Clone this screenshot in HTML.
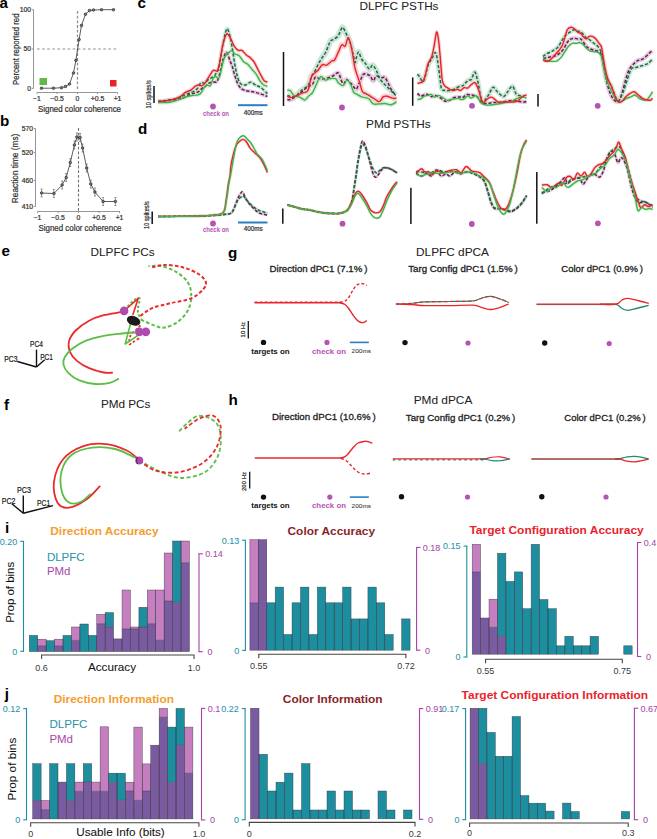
<!DOCTYPE html>
<html><head><meta charset="utf-8"><style>
html,body{margin:0;padding:0;background:#fff;}
svg{display:block;font-family:"Liberation Sans", sans-serif;}
</style></head><body>
<svg width="657" height="839" viewBox="0 0 657 839">
<rect width="657" height="839" fill="#fff"/>
<text x="-0.60" y="8.20" font-size="15.2" fill="#000" font-weight="bold" text-anchor="start">a</text>
<text x="0.00" y="125.70" font-size="15.2" fill="#000" font-weight="bold" text-anchor="start">b</text>
<text x="137.50" y="8.20" font-size="15.2" fill="#000" font-weight="bold" text-anchor="start">c</text>
<text x="138.00" y="134.00" font-size="15.2" fill="#000" font-weight="bold" text-anchor="start">d</text>
<text x="1.40" y="256.20" font-size="15.2" fill="#000" font-weight="bold" text-anchor="start">e</text>
<text x="4.00" y="410.00" font-size="15.2" fill="#000" font-weight="bold" text-anchor="start">f</text>
<text x="228.00" y="257.60" font-size="15.2" fill="#000" font-weight="bold" text-anchor="start">g</text>
<text x="228.40" y="405.00" font-size="15.2" fill="#000" font-weight="bold" text-anchor="start">h</text>
<text x="4.90" y="532.60" font-size="15.2" fill="#000" font-weight="bold" text-anchor="start">i</text>
<text x="4.80" y="699.40" font-size="15.2" fill="#000" font-weight="bold" text-anchor="start">j</text>
<line x1="33.50" y1="9.50" x2="33.50" y2="88.50" stroke="#8a8a8a" stroke-width="0.9"/>
<line x1="31.80" y1="9.70" x2="33.50" y2="9.70" stroke="#8a8a8a" stroke-width="0.9"/>
<text x="31.00" y="12.10" font-size="6.8" fill="#333" font-weight="normal" text-anchor="end" stroke="#333" stroke-width="0.22">100</text>
<line x1="31.80" y1="49.00" x2="33.50" y2="49.00" stroke="#8a8a8a" stroke-width="0.9"/>
<text x="31.00" y="51.40" font-size="6.8" fill="#333" font-weight="normal" text-anchor="end" stroke="#333" stroke-width="0.22">50</text>
<line x1="31.80" y1="88.40" x2="33.50" y2="88.40" stroke="#8a8a8a" stroke-width="0.9"/>
<text x="31.00" y="90.80" font-size="6.8" fill="#333" font-weight="normal" text-anchor="end" stroke="#333" stroke-width="0.22">0</text>
<line x1="37.00" y1="92.50" x2="117.50" y2="92.50" stroke="#8a8a8a" stroke-width="0.9"/>
<line x1="37.00" y1="92.50" x2="37.00" y2="94.00" stroke="#8a8a8a" stroke-width="0.9"/>
<text x="37.00" y="100.50" font-size="6.8" fill="#333" font-weight="normal" text-anchor="middle" stroke="#333" stroke-width="0.22">−1</text>
<line x1="57.00" y1="92.50" x2="57.00" y2="94.00" stroke="#8a8a8a" stroke-width="0.9"/>
<text x="57.00" y="100.50" font-size="6.8" fill="#333" font-weight="normal" text-anchor="middle" stroke="#333" stroke-width="0.22">−0.5</text>
<line x1="77.50" y1="92.50" x2="77.50" y2="94.00" stroke="#8a8a8a" stroke-width="0.9"/>
<text x="77.50" y="100.50" font-size="6.8" fill="#333" font-weight="normal" text-anchor="middle" stroke="#333" stroke-width="0.22">0</text>
<line x1="97.50" y1="92.50" x2="97.50" y2="94.00" stroke="#8a8a8a" stroke-width="0.9"/>
<text x="97.50" y="100.50" font-size="6.8" fill="#333" font-weight="normal" text-anchor="middle" stroke="#333" stroke-width="0.22">+0.5</text>
<line x1="117.50" y1="92.50" x2="117.50" y2="94.00" stroke="#8a8a8a" stroke-width="0.9"/>
<text x="117.50" y="100.50" font-size="6.8" fill="#333" font-weight="normal" text-anchor="middle" stroke="#333" stroke-width="0.22">+1</text>
<text x="79.50" y="112.00" font-size="8.3" fill="#333" font-weight="normal" text-anchor="middle" stroke="#333" stroke-width="0.22" textLength="83.00" lengthAdjust="spacingAndGlyphs">Signed color coherence</text>
<text x="18.90" y="85.00" font-size="8.9" fill="#333" font-weight="normal" text-anchor="start" stroke="#333" stroke-width="0.22" textLength="71.50" lengthAdjust="spacingAndGlyphs" transform="rotate(-90 18.90 85.00)">Percent reported red</text>
<line x1="37.00" y1="49.00" x2="118.00" y2="49.00" stroke="#b4b4b4" stroke-width="1.5" stroke-dasharray="2.6,2.5"/>
<line x1="77.50" y1="11.00" x2="77.50" y2="89.00" stroke="#909090" stroke-width="1.3" stroke-dasharray="2.8,1.9"/>
<rect x="39.5" y="78" width="7.5" height="7" fill="#62b946"/>
<rect x="110" y="80" width="6.5" height="6.5" fill="#e52329"/>
<path d="M41.50,88.20 L53.50,88.20 L61.50,87.70 L65.50,86.50 L69.50,84.00 L73.50,73.00 L75.90,60.40 L79.10,39.50 L81.50,25.40 L85.50,14.20 L89.50,10.50 L93.50,10.00 L101.50,9.70 L113.50,9.70" fill="none" stroke="#333" stroke-width="0.8" stroke-linejoin="round" stroke-linecap="butt"/>
<circle cx="41.5" cy="88.2" r="1.3" fill="#7a7a7a" stroke="#222" stroke-width="0.65"/>
<circle cx="53.5" cy="88.2" r="1.3" fill="#7a7a7a" stroke="#222" stroke-width="0.65"/>
<circle cx="61.5" cy="87.7" r="1.3" fill="#7a7a7a" stroke="#222" stroke-width="0.65"/>
<circle cx="65.5" cy="86.5" r="1.3" fill="#7a7a7a" stroke="#222" stroke-width="0.65"/>
<circle cx="69.5" cy="84" r="1.3" fill="#7a7a7a" stroke="#222" stroke-width="0.65"/>
<circle cx="73.5" cy="73" r="1.3" fill="#7a7a7a" stroke="#222" stroke-width="0.65"/>
<circle cx="75.9" cy="60.4" r="1.3" fill="#7a7a7a" stroke="#222" stroke-width="0.65"/>
<circle cx="79.1" cy="39.5" r="1.3" fill="#7a7a7a" stroke="#222" stroke-width="0.65"/>
<circle cx="81.5" cy="25.4" r="1.3" fill="#7a7a7a" stroke="#222" stroke-width="0.65"/>
<circle cx="85.5" cy="14.2" r="1.3" fill="#7a7a7a" stroke="#222" stroke-width="0.65"/>
<circle cx="89.5" cy="10.5" r="1.3" fill="#7a7a7a" stroke="#222" stroke-width="0.65"/>
<circle cx="93.5" cy="10" r="1.3" fill="#7a7a7a" stroke="#222" stroke-width="0.65"/>
<circle cx="101.5" cy="9.7" r="1.3" fill="#7a7a7a" stroke="#222" stroke-width="0.65"/>
<circle cx="113.5" cy="9.7" r="1.3" fill="#7a7a7a" stroke="#222" stroke-width="0.65"/>
<line x1="35.50" y1="128.50" x2="35.50" y2="206.50" stroke="#8a8a8a" stroke-width="0.9"/>
<line x1="33.80" y1="128.50" x2="35.50" y2="128.50" stroke="#8a8a8a" stroke-width="0.9"/>
<text x="33.00" y="130.90" font-size="6.8" fill="#333" font-weight="normal" text-anchor="end" stroke="#333" stroke-width="0.22">570</text>
<line x1="33.80" y1="152.50" x2="35.50" y2="152.50" stroke="#8a8a8a" stroke-width="0.9"/>
<text x="33.00" y="154.90" font-size="6.8" fill="#333" font-weight="normal" text-anchor="end" stroke="#333" stroke-width="0.22">520</text>
<line x1="33.80" y1="180.50" x2="35.50" y2="180.50" stroke="#8a8a8a" stroke-width="0.9"/>
<text x="33.00" y="182.90" font-size="6.8" fill="#333" font-weight="normal" text-anchor="end" stroke="#333" stroke-width="0.22">460</text>
<line x1="33.80" y1="206.50" x2="35.50" y2="206.50" stroke="#8a8a8a" stroke-width="0.9"/>
<text x="33.00" y="208.90" font-size="6.8" fill="#333" font-weight="normal" text-anchor="end" stroke="#333" stroke-width="0.22">410</text>
<line x1="37.50" y1="211.50" x2="120.00" y2="211.50" stroke="#8a8a8a" stroke-width="0.9"/>
<line x1="37.50" y1="211.50" x2="37.50" y2="213.00" stroke="#8a8a8a" stroke-width="0.9"/>
<text x="37.50" y="219.50" font-size="6.8" fill="#333" font-weight="normal" text-anchor="middle" stroke="#333" stroke-width="0.22">−1</text>
<line x1="58.00" y1="211.50" x2="58.00" y2="213.00" stroke="#8a8a8a" stroke-width="0.9"/>
<text x="58.00" y="219.50" font-size="6.8" fill="#333" font-weight="normal" text-anchor="middle" stroke="#333" stroke-width="0.22">−0.5</text>
<line x1="78.50" y1="211.50" x2="78.50" y2="213.00" stroke="#8a8a8a" stroke-width="0.9"/>
<text x="78.50" y="219.50" font-size="6.8" fill="#333" font-weight="normal" text-anchor="middle" stroke="#333" stroke-width="0.22">0</text>
<line x1="99.00" y1="211.50" x2="99.00" y2="213.00" stroke="#8a8a8a" stroke-width="0.9"/>
<text x="99.00" y="219.50" font-size="6.8" fill="#333" font-weight="normal" text-anchor="middle" stroke="#333" stroke-width="0.22">+0.5</text>
<line x1="119.50" y1="211.50" x2="119.50" y2="213.00" stroke="#8a8a8a" stroke-width="0.9"/>
<text x="119.50" y="219.50" font-size="6.8" fill="#333" font-weight="normal" text-anchor="middle" stroke="#333" stroke-width="0.22">+1</text>
<text x="80.00" y="230.50" font-size="8.3" fill="#333" font-weight="normal" text-anchor="middle" stroke="#333" stroke-width="0.22" textLength="83.00" lengthAdjust="spacingAndGlyphs">Signed color coherence</text>
<text x="18.30" y="203.20" font-size="8.9" fill="#333" font-weight="normal" text-anchor="start" stroke="#333" stroke-width="0.22" textLength="69.50" lengthAdjust="spacingAndGlyphs" transform="rotate(-90 18.30 203.20)">Reaction time  (ms)</text>
<line x1="78.50" y1="128.00" x2="78.50" y2="211.00" stroke="#707070" stroke-width="1.1" stroke-dasharray="2.8,1.9"/>
<path d="M41.60,193.00 L53.90,193.50 L62.10,185.00 L66.20,177.50 L70.30,162.50 L74.40,145.00 L76.90,137.00 L80.10,137.50 L82.60,148.00 L86.70,168.00 L90.80,184.00 L94.90,192.00 L103.10,201.50 L115.40,201.50" fill="none" stroke="#333" stroke-width="0.8" stroke-linejoin="round" stroke-linecap="butt"/>
<line x1="41.60" y1="189.00" x2="41.60" y2="197.00" stroke="#555" stroke-width="0.6"/>
<line x1="40.60" y1="189.00" x2="42.60" y2="189.00" stroke="#555" stroke-width="0.6"/>
<line x1="40.60" y1="197.00" x2="42.60" y2="197.00" stroke="#555" stroke-width="0.6"/>
<circle cx="41.6" cy="193" r="1.3" fill="#7a7a7a" stroke="#222" stroke-width="0.65"/>
<line x1="53.90" y1="189.50" x2="53.90" y2="197.50" stroke="#555" stroke-width="0.6"/>
<line x1="52.90" y1="189.50" x2="54.90" y2="189.50" stroke="#555" stroke-width="0.6"/>
<line x1="52.90" y1="197.50" x2="54.90" y2="197.50" stroke="#555" stroke-width="0.6"/>
<circle cx="53.9" cy="193.5" r="1.3" fill="#7a7a7a" stroke="#222" stroke-width="0.65"/>
<line x1="62.10" y1="181.00" x2="62.10" y2="189.00" stroke="#555" stroke-width="0.6"/>
<line x1="61.10" y1="181.00" x2="63.10" y2="181.00" stroke="#555" stroke-width="0.6"/>
<line x1="61.10" y1="189.00" x2="63.10" y2="189.00" stroke="#555" stroke-width="0.6"/>
<circle cx="62.1" cy="185" r="1.3" fill="#7a7a7a" stroke="#222" stroke-width="0.65"/>
<line x1="66.20" y1="173.50" x2="66.20" y2="181.50" stroke="#555" stroke-width="0.6"/>
<line x1="65.20" y1="173.50" x2="67.20" y2="173.50" stroke="#555" stroke-width="0.6"/>
<line x1="65.20" y1="181.50" x2="67.20" y2="181.50" stroke="#555" stroke-width="0.6"/>
<circle cx="66.2" cy="177.5" r="1.3" fill="#7a7a7a" stroke="#222" stroke-width="0.65"/>
<line x1="70.30" y1="158.50" x2="70.30" y2="166.50" stroke="#555" stroke-width="0.6"/>
<line x1="69.30" y1="158.50" x2="71.30" y2="158.50" stroke="#555" stroke-width="0.6"/>
<line x1="69.30" y1="166.50" x2="71.30" y2="166.50" stroke="#555" stroke-width="0.6"/>
<circle cx="70.3" cy="162.5" r="1.3" fill="#7a7a7a" stroke="#222" stroke-width="0.65"/>
<line x1="74.40" y1="141.00" x2="74.40" y2="149.00" stroke="#555" stroke-width="0.6"/>
<line x1="73.40" y1="141.00" x2="75.40" y2="141.00" stroke="#555" stroke-width="0.6"/>
<line x1="73.40" y1="149.00" x2="75.40" y2="149.00" stroke="#555" stroke-width="0.6"/>
<circle cx="74.4" cy="145" r="1.3" fill="#7a7a7a" stroke="#222" stroke-width="0.65"/>
<line x1="76.90" y1="133.00" x2="76.90" y2="141.00" stroke="#555" stroke-width="0.6"/>
<line x1="75.90" y1="133.00" x2="77.90" y2="133.00" stroke="#555" stroke-width="0.6"/>
<line x1="75.90" y1="141.00" x2="77.90" y2="141.00" stroke="#555" stroke-width="0.6"/>
<circle cx="76.9" cy="137" r="1.3" fill="#7a7a7a" stroke="#222" stroke-width="0.65"/>
<line x1="80.10" y1="133.50" x2="80.10" y2="141.50" stroke="#555" stroke-width="0.6"/>
<line x1="79.10" y1="133.50" x2="81.10" y2="133.50" stroke="#555" stroke-width="0.6"/>
<line x1="79.10" y1="141.50" x2="81.10" y2="141.50" stroke="#555" stroke-width="0.6"/>
<circle cx="80.1" cy="137.5" r="1.3" fill="#7a7a7a" stroke="#222" stroke-width="0.65"/>
<line x1="82.60" y1="144.00" x2="82.60" y2="152.00" stroke="#555" stroke-width="0.6"/>
<line x1="81.60" y1="144.00" x2="83.60" y2="144.00" stroke="#555" stroke-width="0.6"/>
<line x1="81.60" y1="152.00" x2="83.60" y2="152.00" stroke="#555" stroke-width="0.6"/>
<circle cx="82.6" cy="148" r="1.3" fill="#7a7a7a" stroke="#222" stroke-width="0.65"/>
<line x1="86.70" y1="164.00" x2="86.70" y2="172.00" stroke="#555" stroke-width="0.6"/>
<line x1="85.70" y1="164.00" x2="87.70" y2="164.00" stroke="#555" stroke-width="0.6"/>
<line x1="85.70" y1="172.00" x2="87.70" y2="172.00" stroke="#555" stroke-width="0.6"/>
<circle cx="86.7" cy="168" r="1.3" fill="#7a7a7a" stroke="#222" stroke-width="0.65"/>
<line x1="90.80" y1="180.00" x2="90.80" y2="188.00" stroke="#555" stroke-width="0.6"/>
<line x1="89.80" y1="180.00" x2="91.80" y2="180.00" stroke="#555" stroke-width="0.6"/>
<line x1="89.80" y1="188.00" x2="91.80" y2="188.00" stroke="#555" stroke-width="0.6"/>
<circle cx="90.8" cy="184" r="1.3" fill="#7a7a7a" stroke="#222" stroke-width="0.65"/>
<line x1="94.90" y1="188.00" x2="94.90" y2="196.00" stroke="#555" stroke-width="0.6"/>
<line x1="93.90" y1="188.00" x2="95.90" y2="188.00" stroke="#555" stroke-width="0.6"/>
<line x1="93.90" y1="196.00" x2="95.90" y2="196.00" stroke="#555" stroke-width="0.6"/>
<circle cx="94.9" cy="192" r="1.3" fill="#7a7a7a" stroke="#222" stroke-width="0.65"/>
<line x1="103.10" y1="197.50" x2="103.10" y2="205.50" stroke="#555" stroke-width="0.6"/>
<line x1="102.10" y1="197.50" x2="104.10" y2="197.50" stroke="#555" stroke-width="0.6"/>
<line x1="102.10" y1="205.50" x2="104.10" y2="205.50" stroke="#555" stroke-width="0.6"/>
<circle cx="103.1" cy="201.5" r="1.3" fill="#7a7a7a" stroke="#222" stroke-width="0.65"/>
<line x1="115.40" y1="197.50" x2="115.40" y2="205.50" stroke="#555" stroke-width="0.6"/>
<line x1="114.40" y1="197.50" x2="116.40" y2="197.50" stroke="#555" stroke-width="0.6"/>
<line x1="114.40" y1="205.50" x2="116.40" y2="205.50" stroke="#555" stroke-width="0.6"/>
<circle cx="115.4" cy="201.5" r="1.3" fill="#7a7a7a" stroke="#222" stroke-width="0.65"/>
<text x="399.00" y="10.20" font-size="11.2" fill="#222" font-weight="normal" text-anchor="middle" stroke="#222" stroke-width="0.05" textLength="79.00" lengthAdjust="spacingAndGlyphs">DLPFC PSTHs</text>
<text x="398.40" y="128.00" font-size="11.2" fill="#222" font-weight="normal" text-anchor="middle" stroke="#222" stroke-width="0.05" textLength="64.70" lengthAdjust="spacingAndGlyphs">PMd PSTHs</text>
<path d="M158.00,101.50 C161.67,101.08 174.67,100.17 180.00,99.00 C185.33,97.83 187.00,95.67 190.00,94.50 C193.00,93.33 196.05,92.97 198.00,92.00 C199.95,91.03 200.48,89.65 201.70,88.70 C202.92,87.75 204.08,87.22 205.30,86.30 C206.52,85.38 207.78,83.92 209.00,83.20 C210.22,82.48 211.38,82.20 212.60,82.00 C213.82,81.80 215.38,82.50 216.30,82.00 C217.22,81.50 217.40,80.93 218.10,79.00 C218.80,77.07 219.67,73.72 220.50,70.40 C221.33,67.08 222.15,62.10 223.10,59.10 C224.05,56.10 225.38,53.12 226.20,52.40 C227.02,51.68 227.40,53.48 228.00,54.80 C228.60,56.12 229.08,58.37 229.80,60.30 C230.52,62.23 231.45,63.82 232.30,66.40 C233.15,68.98 234.00,72.93 234.90,75.80 C235.80,78.67 236.63,81.47 237.70,83.60 C238.77,85.73 239.87,87.40 241.30,88.60 C242.73,89.80 244.63,90.32 246.30,90.80 C247.97,91.28 249.63,91.20 251.30,91.50 C252.97,91.80 254.52,92.12 256.30,92.60 C258.08,93.08 260.15,93.75 262.00,94.40 C263.85,95.05 266.50,96.15 267.40,96.50" fill="none" stroke="#dcc2d8" stroke-width="3.8" stroke-linejoin="round" stroke-linecap="butt" stroke-linecap="round" stroke-opacity="0.85"/>
<path d="M158.00,101.50 C161.30,101.00 173.48,99.52 177.80,98.50 C182.12,97.48 182.00,96.28 183.90,95.40 C185.80,94.52 187.42,93.95 189.20,93.20 C190.98,92.45 193.20,91.73 194.60,90.90 C196.00,90.07 196.70,89.35 197.60,88.20 C198.50,87.05 199.32,84.93 200.00,84.00 C200.68,83.07 200.92,82.73 201.70,82.60 C202.48,82.47 203.70,83.60 204.70,83.20 C205.70,82.80 206.78,81.00 207.70,80.20 C208.62,79.40 209.08,79.12 210.20,78.40 C211.32,77.68 213.38,76.82 214.40,75.90 C215.42,74.98 215.58,74.12 216.30,72.90 C217.02,71.68 217.97,71.25 218.70,68.60 C219.43,65.95 220.07,60.68 220.70,57.00 C221.33,53.32 221.68,50.62 222.50,46.50 C223.32,42.38 224.78,35.27 225.60,32.30 C226.42,29.33 226.80,28.50 227.40,28.70 C228.00,28.90 228.58,31.38 229.20,33.50 C229.82,35.62 230.48,38.25 231.10,41.40 C231.72,44.55 232.27,48.47 232.90,52.40 C233.53,56.33 234.22,61.23 234.90,65.00 C235.58,68.77 236.17,72.02 237.00,75.00 C237.83,77.98 238.58,81.22 239.90,82.90 C241.22,84.58 243.12,85.22 244.90,85.10 C246.68,84.98 248.82,82.20 250.60,82.20 C252.38,82.20 253.82,84.15 255.60,85.10 C257.38,86.05 259.33,86.48 261.30,87.90 C263.27,89.32 266.38,92.65 267.40,93.60" fill="none" stroke="#c6e2d3" stroke-width="4" stroke-linejoin="round" stroke-linecap="butt" stroke-linecap="round" stroke-opacity="0.85"/>
<path d="M158.00,102.50 C160.03,102.47 166.90,102.72 170.20,102.30 C173.50,101.88 175.27,100.88 177.80,100.00 C180.33,99.12 182.87,97.77 185.40,97.00 C187.93,96.23 190.90,95.77 193.00,95.40 C195.10,95.03 196.67,95.20 198.00,94.80 C199.33,94.40 199.98,94.22 201.00,93.00 C202.02,91.78 203.08,88.83 204.10,87.50 C205.12,86.17 206.08,85.30 207.10,85.00 C208.12,84.70 209.18,86.80 210.20,85.70 C211.22,84.60 212.28,79.93 213.20,78.40 C214.12,76.87 214.88,76.50 215.70,76.50 C216.52,76.50 217.40,78.50 218.10,78.40 C218.80,78.30 219.17,78.30 219.90,75.90 C220.63,73.50 221.65,67.20 222.50,64.00 C223.35,60.80 224.08,58.43 225.00,56.70 C225.92,54.97 226.88,54.62 228.00,53.60 C229.12,52.58 230.55,50.53 231.70,50.60 C232.85,50.67 233.65,53.15 234.90,54.00 C236.15,54.85 237.78,54.45 239.20,55.70 C240.62,56.95 241.98,60.07 243.40,61.50 C244.82,62.93 246.27,63.00 247.70,64.30 C249.13,65.60 250.57,67.63 252.00,69.30 C253.43,70.97 254.98,72.38 256.30,74.30 C257.62,76.22 258.70,79.07 259.90,80.80 C261.10,82.53 262.25,83.75 263.50,84.70 C264.75,85.65 266.75,86.20 267.40,86.50" fill="none" stroke="#d3ecd3" stroke-width="4" stroke-linejoin="round" stroke-linecap="butt" stroke-linecap="round" stroke-opacity="0.85"/>
<path d="M158.00,101.50 C159.40,101.38 163.73,101.18 166.40,100.80 C169.07,100.42 171.72,99.90 174.00,99.20 C176.28,98.50 178.20,97.73 180.10,96.60 C182.00,95.47 183.62,93.48 185.40,92.40 C187.18,91.32 189.15,91.12 190.80,90.10 C192.45,89.08 194.10,87.15 195.30,86.30 C196.50,85.45 196.93,85.10 198.00,85.00 C199.07,84.90 200.68,85.85 201.70,85.70 C202.72,85.55 203.20,85.12 204.10,84.10 C205.00,83.08 206.08,81.17 207.10,79.60 C208.12,78.03 209.15,76.23 210.20,74.70 C211.25,73.17 212.27,71.02 213.40,70.40 C214.53,69.78 216.08,71.67 217.00,71.00 C217.92,70.33 218.28,68.78 218.90,66.40 C219.52,64.02 220.10,60.05 220.70,56.70 C221.30,53.35 221.88,49.25 222.50,46.30 C223.12,43.35 223.68,41.08 224.40,39.00 C225.12,36.92 226.00,34.30 226.80,33.80 C227.60,33.30 228.38,34.83 229.20,36.00 C230.02,37.17 230.75,38.93 231.70,40.80 C232.65,42.67 233.78,45.60 234.90,47.20 C236.02,48.80 237.22,49.87 238.40,50.40 C239.58,50.93 240.68,49.63 242.00,50.40 C243.32,51.17 244.87,53.75 246.30,55.00 C247.73,56.25 249.28,56.70 250.60,57.90 C251.92,59.10 253.00,60.30 254.20,62.20 C255.40,64.10 256.62,67.03 257.80,69.30 C258.98,71.57 260.23,73.88 261.30,75.80 C262.37,77.72 263.18,79.73 264.20,80.80 C265.22,81.87 266.87,81.97 267.40,82.20" fill="none" stroke="#f7c9c9" stroke-width="3.5" stroke-linejoin="round" stroke-linecap="butt" stroke-linecap="round" stroke-opacity="0.85"/>
<path d="M158.00,101.50 C161.67,101.08 174.67,100.17 180.00,99.00 C185.33,97.83 187.00,95.67 190.00,94.50 C193.00,93.33 196.05,92.97 198.00,92.00 C199.95,91.03 200.48,89.65 201.70,88.70 C202.92,87.75 204.08,87.22 205.30,86.30 C206.52,85.38 207.78,83.92 209.00,83.20 C210.22,82.48 211.38,82.20 212.60,82.00 C213.82,81.80 215.38,82.50 216.30,82.00 C217.22,81.50 217.40,80.93 218.10,79.00 C218.80,77.07 219.67,73.72 220.50,70.40 C221.33,67.08 222.15,62.10 223.10,59.10 C224.05,56.10 225.38,53.12 226.20,52.40 C227.02,51.68 227.40,53.48 228.00,54.80 C228.60,56.12 229.08,58.37 229.80,60.30 C230.52,62.23 231.45,63.82 232.30,66.40 C233.15,68.98 234.00,72.93 234.90,75.80 C235.80,78.67 236.63,81.47 237.70,83.60 C238.77,85.73 239.87,87.40 241.30,88.60 C242.73,89.80 244.63,90.32 246.30,90.80 C247.97,91.28 249.63,91.20 251.30,91.50 C252.97,91.80 254.52,92.12 256.30,92.60 C258.08,93.08 260.15,93.75 262.00,94.40 C263.85,95.05 266.50,96.15 267.40,96.50" fill="none" stroke="#6c1c4c" stroke-width="1.5" stroke-linejoin="round" stroke-linecap="butt" stroke-dasharray="3.2,1.8"/>
<path d="M158.00,101.50 C161.30,101.00 173.48,99.52 177.80,98.50 C182.12,97.48 182.00,96.28 183.90,95.40 C185.80,94.52 187.42,93.95 189.20,93.20 C190.98,92.45 193.20,91.73 194.60,90.90 C196.00,90.07 196.70,89.35 197.60,88.20 C198.50,87.05 199.32,84.93 200.00,84.00 C200.68,83.07 200.92,82.73 201.70,82.60 C202.48,82.47 203.70,83.60 204.70,83.20 C205.70,82.80 206.78,81.00 207.70,80.20 C208.62,79.40 209.08,79.12 210.20,78.40 C211.32,77.68 213.38,76.82 214.40,75.90 C215.42,74.98 215.58,74.12 216.30,72.90 C217.02,71.68 217.97,71.25 218.70,68.60 C219.43,65.95 220.07,60.68 220.70,57.00 C221.33,53.32 221.68,50.62 222.50,46.50 C223.32,42.38 224.78,35.27 225.60,32.30 C226.42,29.33 226.80,28.50 227.40,28.70 C228.00,28.90 228.58,31.38 229.20,33.50 C229.82,35.62 230.48,38.25 231.10,41.40 C231.72,44.55 232.27,48.47 232.90,52.40 C233.53,56.33 234.22,61.23 234.90,65.00 C235.58,68.77 236.17,72.02 237.00,75.00 C237.83,77.98 238.58,81.22 239.90,82.90 C241.22,84.58 243.12,85.22 244.90,85.10 C246.68,84.98 248.82,82.20 250.60,82.20 C252.38,82.20 253.82,84.15 255.60,85.10 C257.38,86.05 259.33,86.48 261.30,87.90 C263.27,89.32 266.38,92.65 267.40,93.60" fill="none" stroke="#1f6b3e" stroke-width="1.5" stroke-linejoin="round" stroke-linecap="butt" stroke-dasharray="3.2,1.8"/>
<path d="M158.00,102.50 C160.03,102.47 166.90,102.72 170.20,102.30 C173.50,101.88 175.27,100.88 177.80,100.00 C180.33,99.12 182.87,97.77 185.40,97.00 C187.93,96.23 190.90,95.77 193.00,95.40 C195.10,95.03 196.67,95.20 198.00,94.80 C199.33,94.40 199.98,94.22 201.00,93.00 C202.02,91.78 203.08,88.83 204.10,87.50 C205.12,86.17 206.08,85.30 207.10,85.00 C208.12,84.70 209.18,86.80 210.20,85.70 C211.22,84.60 212.28,79.93 213.20,78.40 C214.12,76.87 214.88,76.50 215.70,76.50 C216.52,76.50 217.40,78.50 218.10,78.40 C218.80,78.30 219.17,78.30 219.90,75.90 C220.63,73.50 221.65,67.20 222.50,64.00 C223.35,60.80 224.08,58.43 225.00,56.70 C225.92,54.97 226.88,54.62 228.00,53.60 C229.12,52.58 230.55,50.53 231.70,50.60 C232.85,50.67 233.65,53.15 234.90,54.00 C236.15,54.85 237.78,54.45 239.20,55.70 C240.62,56.95 241.98,60.07 243.40,61.50 C244.82,62.93 246.27,63.00 247.70,64.30 C249.13,65.60 250.57,67.63 252.00,69.30 C253.43,70.97 254.98,72.38 256.30,74.30 C257.62,76.22 258.70,79.07 259.90,80.80 C261.10,82.53 262.25,83.75 263.50,84.70 C264.75,85.65 266.75,86.20 267.40,86.50" fill="none" stroke="#3db449" stroke-width="1.4" stroke-linejoin="round" stroke-linecap="butt"/>
<path d="M158.00,101.50 C159.40,101.38 163.73,101.18 166.40,100.80 C169.07,100.42 171.72,99.90 174.00,99.20 C176.28,98.50 178.20,97.73 180.10,96.60 C182.00,95.47 183.62,93.48 185.40,92.40 C187.18,91.32 189.15,91.12 190.80,90.10 C192.45,89.08 194.10,87.15 195.30,86.30 C196.50,85.45 196.93,85.10 198.00,85.00 C199.07,84.90 200.68,85.85 201.70,85.70 C202.72,85.55 203.20,85.12 204.10,84.10 C205.00,83.08 206.08,81.17 207.10,79.60 C208.12,78.03 209.15,76.23 210.20,74.70 C211.25,73.17 212.27,71.02 213.40,70.40 C214.53,69.78 216.08,71.67 217.00,71.00 C217.92,70.33 218.28,68.78 218.90,66.40 C219.52,64.02 220.10,60.05 220.70,56.70 C221.30,53.35 221.88,49.25 222.50,46.30 C223.12,43.35 223.68,41.08 224.40,39.00 C225.12,36.92 226.00,34.30 226.80,33.80 C227.60,33.30 228.38,34.83 229.20,36.00 C230.02,37.17 230.75,38.93 231.70,40.80 C232.65,42.67 233.78,45.60 234.90,47.20 C236.02,48.80 237.22,49.87 238.40,50.40 C239.58,50.93 240.68,49.63 242.00,50.40 C243.32,51.17 244.87,53.75 246.30,55.00 C247.73,56.25 249.28,56.70 250.60,57.90 C251.92,59.10 253.00,60.30 254.20,62.20 C255.40,64.10 256.62,67.03 257.80,69.30 C258.98,71.57 260.23,73.88 261.30,75.80 C262.37,77.72 263.18,79.73 264.20,80.80 C265.22,81.87 266.87,81.97 267.40,82.20" fill="none" stroke="#e52329" stroke-width="1.4" stroke-linejoin="round" stroke-linecap="butt"/>
<path d="M287.30,99.70 C287.90,99.65 289.58,99.85 290.90,99.40 C292.22,98.95 293.17,98.42 295.20,97.00 C297.23,95.58 301.07,92.58 303.10,90.90 C305.13,89.22 305.78,88.07 307.40,86.90 C309.02,85.73 311.48,85.52 312.80,83.90 C314.12,82.28 314.07,78.02 315.30,77.20 C316.53,76.38 318.38,78.80 320.20,79.00 C322.02,79.20 324.10,78.90 326.20,78.40 C328.30,77.90 330.78,76.90 332.80,76.00 C334.82,75.10 336.83,72.13 338.30,73.00 C339.77,73.87 340.68,79.38 341.60,81.20 C342.52,83.02 342.98,84.18 343.80,83.90 C344.62,83.62 345.32,79.58 346.50,79.50 C347.68,79.42 349.80,82.30 350.90,83.40 C352.00,84.50 352.22,85.13 353.10,86.10 C353.98,87.07 355.17,89.72 356.20,89.20 C357.23,88.68 358.13,85.45 359.30,83.00 C360.47,80.55 361.92,75.92 363.20,74.50 C364.48,73.08 365.83,74.25 367.00,74.50 C368.17,74.75 369.15,74.97 370.20,76.00 C371.25,77.03 372.27,80.70 373.30,80.70 C374.33,80.70 375.12,76.52 376.40,76.00 C377.68,75.48 379.58,77.33 381.00,77.60 C382.42,77.87 383.73,76.70 384.90,77.60 C386.07,78.50 386.97,81.07 388.00,83.00 C389.03,84.93 389.93,87.27 391.10,89.20 C392.27,91.13 394.35,93.70 395.00,94.60" fill="none" stroke="#dcc2d8" stroke-width="5" stroke-linejoin="round" stroke-linecap="butt" stroke-linecap="round" stroke-opacity="0.85"/>
<path d="M287.30,95.50 C288.10,95.70 290.48,96.82 292.10,96.70 C293.72,96.58 295.47,95.82 297.00,94.80 C298.53,93.78 299.57,92.02 301.30,90.60 C303.03,89.18 305.98,87.73 307.40,86.30 C308.82,84.87 309.10,83.72 309.80,82.00 C310.50,80.28 310.78,77.72 311.60,76.00 C312.42,74.28 313.58,73.68 314.70,71.70 C315.82,69.72 317.10,66.38 318.30,64.10 C319.50,61.82 320.68,59.93 321.90,58.00 C323.12,56.07 324.48,54.63 325.60,52.50 C326.72,50.37 327.78,47.12 328.60,45.20 C329.42,43.28 329.58,42.02 330.50,41.00 C331.42,39.98 332.80,39.98 334.10,39.10 C335.40,38.22 337.20,37.18 338.30,35.70 C339.40,34.22 339.95,31.58 340.70,30.20 C341.45,28.82 341.98,27.00 342.80,27.40 C343.62,27.80 344.68,30.82 345.60,32.60 C346.52,34.38 347.48,36.27 348.30,38.10 C349.12,39.93 349.73,41.07 350.50,43.60 C351.27,46.13 352.15,50.15 352.90,53.30 C353.65,56.45 354.45,61.68 355.00,62.50 C355.55,63.32 355.62,59.95 356.20,58.20 C356.78,56.45 357.60,51.87 358.50,52.00 C359.40,52.13 360.43,57.07 361.60,59.00 C362.77,60.93 364.20,61.93 365.50,63.60 C366.80,65.27 368.23,68.73 369.40,69.00 C370.57,69.27 371.33,64.93 372.50,65.20 C373.67,65.47 375.23,68.42 376.40,70.60 C377.57,72.78 378.35,76.23 379.50,78.30 C380.65,80.37 382.02,81.57 383.30,83.00 C384.58,84.43 385.90,85.62 387.20,86.90 C388.50,88.18 389.68,89.28 391.10,90.70 C392.52,92.12 394.93,94.62 395.70,95.40" fill="none" stroke="#c6e2d3" stroke-width="6" stroke-linejoin="round" stroke-linecap="butt" stroke-linecap="round" stroke-opacity="0.85"/>
<path d="M287.30,90.30 C287.80,90.35 289.18,89.73 290.30,90.60 C291.42,91.47 292.38,94.38 294.00,95.50 C295.62,96.62 298.18,96.55 300.00,97.30 C301.82,98.05 303.47,100.20 304.90,100.00 C306.33,99.80 307.38,97.27 308.60,96.10 C309.82,94.93 311.08,94.53 312.20,93.00 C313.32,91.47 314.33,88.97 315.30,86.90 C316.27,84.83 317.00,82.33 318.00,80.60 C319.00,78.87 320.12,76.58 321.30,76.50 C322.48,76.42 323.82,79.73 325.10,80.10 C326.38,80.47 327.27,78.93 329.00,78.70 C330.73,78.47 333.95,78.02 335.50,78.70 C337.05,79.38 337.02,81.65 338.30,82.80 C339.58,83.95 341.75,86.05 343.20,85.60 C344.65,85.15 345.72,80.20 347.00,80.10 C348.28,80.00 349.80,83.00 350.90,85.00 C352.00,87.00 352.72,90.63 353.60,92.10 C354.48,93.57 354.87,93.00 356.20,93.80 C357.53,94.60 360.05,96.25 361.60,96.90 C363.15,97.55 364.20,97.30 365.50,97.70 C366.80,98.10 368.10,98.27 369.40,99.30 C370.70,100.33 371.62,103.13 373.30,103.90 C374.98,104.67 377.57,103.97 379.50,103.90 C381.43,103.83 383.10,103.37 384.90,103.50 C386.70,103.63 388.88,104.63 390.30,104.70 C391.72,104.77 392.37,104.42 393.40,103.90 C394.43,103.38 395.98,101.98 396.50,101.60" fill="none" stroke="#d3ecd3" stroke-width="4.5" stroke-linejoin="round" stroke-linecap="butt" stroke-linecap="round" stroke-opacity="0.85"/>
<path d="M287.30,96.40 C287.90,96.60 289.58,97.60 290.90,97.60 C292.22,97.60 293.88,96.87 295.20,96.40 C296.52,95.93 297.48,95.42 298.80,94.80 C300.12,94.18 301.77,93.20 303.10,92.70 C304.43,92.20 305.88,92.45 306.80,91.80 C307.72,91.15 308.10,90.22 308.60,88.80 C309.10,87.38 309.30,85.33 309.80,83.30 C310.30,81.27 310.78,78.33 311.60,76.60 C312.42,74.87 313.58,74.02 314.70,72.90 C315.82,71.78 317.02,71.27 318.30,69.90 C319.58,68.53 321.08,65.47 322.40,64.70 C323.72,63.93 324.93,65.67 326.20,65.30 C327.47,64.93 329.00,63.28 330.00,62.50 C331.00,61.72 331.43,61.02 332.20,60.60 C332.97,60.18 333.58,61.42 334.60,60.00 C335.62,58.58 337.08,54.63 338.30,52.10 C339.52,49.57 340.78,45.77 341.90,44.80 C343.02,43.83 344.08,47.22 345.00,46.30 C345.92,45.38 346.80,40.62 347.40,39.30 C348.00,37.98 348.08,37.68 348.60,38.40 C349.12,39.12 349.88,41.32 350.50,43.60 C351.12,45.88 351.60,48.25 352.30,52.10 C353.00,55.95 354.05,63.37 354.70,66.70 C355.35,70.03 355.43,69.65 356.20,72.10 C356.97,74.55 358.27,78.17 359.30,81.40 C360.33,84.63 361.37,89.50 362.40,91.50 C363.43,93.50 364.20,92.62 365.50,93.40 C366.80,94.18 368.78,95.35 370.20,96.20 C371.62,97.05 372.58,97.60 374.00,98.50 C375.42,99.40 377.53,101.35 378.70,101.60 C379.87,101.85 380.23,100.83 381.00,100.00 C381.77,99.17 382.27,97.23 383.30,96.60 C384.33,95.97 385.90,96.02 387.20,96.20 C388.50,96.38 389.93,97.32 391.10,97.70 C392.27,98.08 393.30,98.50 394.20,98.50 C395.10,98.50 396.12,97.83 396.50,97.70" fill="none" stroke="#f7c9c9" stroke-width="5" stroke-linejoin="round" stroke-linecap="butt" stroke-linecap="round" stroke-opacity="0.85"/>
<path d="M287.30,99.70 C287.90,99.65 289.58,99.85 290.90,99.40 C292.22,98.95 293.17,98.42 295.20,97.00 C297.23,95.58 301.07,92.58 303.10,90.90 C305.13,89.22 305.78,88.07 307.40,86.90 C309.02,85.73 311.48,85.52 312.80,83.90 C314.12,82.28 314.07,78.02 315.30,77.20 C316.53,76.38 318.38,78.80 320.20,79.00 C322.02,79.20 324.10,78.90 326.20,78.40 C328.30,77.90 330.78,76.90 332.80,76.00 C334.82,75.10 336.83,72.13 338.30,73.00 C339.77,73.87 340.68,79.38 341.60,81.20 C342.52,83.02 342.98,84.18 343.80,83.90 C344.62,83.62 345.32,79.58 346.50,79.50 C347.68,79.42 349.80,82.30 350.90,83.40 C352.00,84.50 352.22,85.13 353.10,86.10 C353.98,87.07 355.17,89.72 356.20,89.20 C357.23,88.68 358.13,85.45 359.30,83.00 C360.47,80.55 361.92,75.92 363.20,74.50 C364.48,73.08 365.83,74.25 367.00,74.50 C368.17,74.75 369.15,74.97 370.20,76.00 C371.25,77.03 372.27,80.70 373.30,80.70 C374.33,80.70 375.12,76.52 376.40,76.00 C377.68,75.48 379.58,77.33 381.00,77.60 C382.42,77.87 383.73,76.70 384.90,77.60 C386.07,78.50 386.97,81.07 388.00,83.00 C389.03,84.93 389.93,87.27 391.10,89.20 C392.27,91.13 394.35,93.70 395.00,94.60" fill="none" stroke="#6c1c4c" stroke-width="1.5" stroke-linejoin="round" stroke-linecap="butt" stroke-dasharray="3.2,1.8"/>
<path d="M287.30,95.50 C288.10,95.70 290.48,96.82 292.10,96.70 C293.72,96.58 295.47,95.82 297.00,94.80 C298.53,93.78 299.57,92.02 301.30,90.60 C303.03,89.18 305.98,87.73 307.40,86.30 C308.82,84.87 309.10,83.72 309.80,82.00 C310.50,80.28 310.78,77.72 311.60,76.00 C312.42,74.28 313.58,73.68 314.70,71.70 C315.82,69.72 317.10,66.38 318.30,64.10 C319.50,61.82 320.68,59.93 321.90,58.00 C323.12,56.07 324.48,54.63 325.60,52.50 C326.72,50.37 327.78,47.12 328.60,45.20 C329.42,43.28 329.58,42.02 330.50,41.00 C331.42,39.98 332.80,39.98 334.10,39.10 C335.40,38.22 337.20,37.18 338.30,35.70 C339.40,34.22 339.95,31.58 340.70,30.20 C341.45,28.82 341.98,27.00 342.80,27.40 C343.62,27.80 344.68,30.82 345.60,32.60 C346.52,34.38 347.48,36.27 348.30,38.10 C349.12,39.93 349.73,41.07 350.50,43.60 C351.27,46.13 352.15,50.15 352.90,53.30 C353.65,56.45 354.45,61.68 355.00,62.50 C355.55,63.32 355.62,59.95 356.20,58.20 C356.78,56.45 357.60,51.87 358.50,52.00 C359.40,52.13 360.43,57.07 361.60,59.00 C362.77,60.93 364.20,61.93 365.50,63.60 C366.80,65.27 368.23,68.73 369.40,69.00 C370.57,69.27 371.33,64.93 372.50,65.20 C373.67,65.47 375.23,68.42 376.40,70.60 C377.57,72.78 378.35,76.23 379.50,78.30 C380.65,80.37 382.02,81.57 383.30,83.00 C384.58,84.43 385.90,85.62 387.20,86.90 C388.50,88.18 389.68,89.28 391.10,90.70 C392.52,92.12 394.93,94.62 395.70,95.40" fill="none" stroke="#1f6b3e" stroke-width="1.5" stroke-linejoin="round" stroke-linecap="butt" stroke-dasharray="3.2,1.8"/>
<path d="M287.30,90.30 C287.80,90.35 289.18,89.73 290.30,90.60 C291.42,91.47 292.38,94.38 294.00,95.50 C295.62,96.62 298.18,96.55 300.00,97.30 C301.82,98.05 303.47,100.20 304.90,100.00 C306.33,99.80 307.38,97.27 308.60,96.10 C309.82,94.93 311.08,94.53 312.20,93.00 C313.32,91.47 314.33,88.97 315.30,86.90 C316.27,84.83 317.00,82.33 318.00,80.60 C319.00,78.87 320.12,76.58 321.30,76.50 C322.48,76.42 323.82,79.73 325.10,80.10 C326.38,80.47 327.27,78.93 329.00,78.70 C330.73,78.47 333.95,78.02 335.50,78.70 C337.05,79.38 337.02,81.65 338.30,82.80 C339.58,83.95 341.75,86.05 343.20,85.60 C344.65,85.15 345.72,80.20 347.00,80.10 C348.28,80.00 349.80,83.00 350.90,85.00 C352.00,87.00 352.72,90.63 353.60,92.10 C354.48,93.57 354.87,93.00 356.20,93.80 C357.53,94.60 360.05,96.25 361.60,96.90 C363.15,97.55 364.20,97.30 365.50,97.70 C366.80,98.10 368.10,98.27 369.40,99.30 C370.70,100.33 371.62,103.13 373.30,103.90 C374.98,104.67 377.57,103.97 379.50,103.90 C381.43,103.83 383.10,103.37 384.90,103.50 C386.70,103.63 388.88,104.63 390.30,104.70 C391.72,104.77 392.37,104.42 393.40,103.90 C394.43,103.38 395.98,101.98 396.50,101.60" fill="none" stroke="#3db449" stroke-width="1.4" stroke-linejoin="round" stroke-linecap="butt"/>
<path d="M287.30,96.40 C287.90,96.60 289.58,97.60 290.90,97.60 C292.22,97.60 293.88,96.87 295.20,96.40 C296.52,95.93 297.48,95.42 298.80,94.80 C300.12,94.18 301.77,93.20 303.10,92.70 C304.43,92.20 305.88,92.45 306.80,91.80 C307.72,91.15 308.10,90.22 308.60,88.80 C309.10,87.38 309.30,85.33 309.80,83.30 C310.30,81.27 310.78,78.33 311.60,76.60 C312.42,74.87 313.58,74.02 314.70,72.90 C315.82,71.78 317.02,71.27 318.30,69.90 C319.58,68.53 321.08,65.47 322.40,64.70 C323.72,63.93 324.93,65.67 326.20,65.30 C327.47,64.93 329.00,63.28 330.00,62.50 C331.00,61.72 331.43,61.02 332.20,60.60 C332.97,60.18 333.58,61.42 334.60,60.00 C335.62,58.58 337.08,54.63 338.30,52.10 C339.52,49.57 340.78,45.77 341.90,44.80 C343.02,43.83 344.08,47.22 345.00,46.30 C345.92,45.38 346.80,40.62 347.40,39.30 C348.00,37.98 348.08,37.68 348.60,38.40 C349.12,39.12 349.88,41.32 350.50,43.60 C351.12,45.88 351.60,48.25 352.30,52.10 C353.00,55.95 354.05,63.37 354.70,66.70 C355.35,70.03 355.43,69.65 356.20,72.10 C356.97,74.55 358.27,78.17 359.30,81.40 C360.33,84.63 361.37,89.50 362.40,91.50 C363.43,93.50 364.20,92.62 365.50,93.40 C366.80,94.18 368.78,95.35 370.20,96.20 C371.62,97.05 372.58,97.60 374.00,98.50 C375.42,99.40 377.53,101.35 378.70,101.60 C379.87,101.85 380.23,100.83 381.00,100.00 C381.77,99.17 382.27,97.23 383.30,96.60 C384.33,95.97 385.90,96.02 387.20,96.20 C388.50,96.38 389.93,97.32 391.10,97.70 C392.27,98.08 393.30,98.50 394.20,98.50 C395.10,98.50 396.12,97.83 396.50,97.70" fill="none" stroke="#e52329" stroke-width="1.4" stroke-linejoin="round" stroke-linecap="butt"/>
<path d="M417.40,93.30 C417.97,93.77 419.43,95.92 420.80,96.10 C422.17,96.28 424.10,94.57 425.60,94.40 C427.10,94.23 428.77,94.70 429.80,95.10 C430.83,95.50 431.02,96.75 431.80,96.80 C432.58,96.85 433.35,95.40 434.50,95.40 C435.65,95.40 437.32,96.12 438.70,96.80 C440.08,97.48 441.67,98.77 442.80,99.50 C443.93,100.23 444.37,101.08 445.50,101.20 C446.63,101.32 448.12,100.82 449.60,100.20 C451.08,99.58 452.68,98.02 454.40,97.50 C456.12,96.98 458.48,97.10 459.90,97.10 C461.32,97.10 461.78,97.90 462.90,97.50 C464.02,97.10 465.38,95.12 466.60,94.70 C467.82,94.28 469.08,94.90 470.20,95.00 C471.32,95.10 472.18,95.05 473.30,95.30 C474.42,95.55 475.78,95.68 476.90,96.50 C478.02,97.32 478.98,99.08 480.00,100.20 C481.02,101.32 481.68,102.65 483.00,103.20 C484.32,103.75 486.27,103.60 487.90,103.50 C489.53,103.40 490.93,102.75 492.80,102.60 C494.67,102.45 496.72,102.85 499.10,102.60 C501.48,102.35 504.55,101.45 507.10,101.10 C509.65,100.75 512.38,100.45 514.40,100.50 C516.42,100.55 517.58,101.15 519.20,101.40 C520.82,101.65 522.88,102.00 524.10,102.00 C525.32,102.00 526.10,101.50 526.50,101.40" fill="none" stroke="#dcc2d8" stroke-width="4" stroke-linejoin="round" stroke-linecap="butt" stroke-linecap="round" stroke-opacity="0.85"/>
<path d="M417.40,74.20 C417.87,74.77 419.40,76.35 420.20,77.60 C421.00,78.85 421.52,81.37 422.20,81.70 C422.88,82.03 423.62,81.20 424.30,79.60 C424.98,78.00 425.58,74.70 426.30,72.10 C427.02,69.50 427.60,66.37 428.60,64.00 C429.60,61.63 431.18,59.83 432.30,57.90 C433.42,55.97 434.50,52.40 435.30,52.40 C436.10,52.40 436.58,55.57 437.10,57.90 C437.62,60.23 437.92,63.00 438.40,66.40 C438.88,69.80 439.50,74.62 440.00,78.30 C440.50,81.98 440.72,86.50 441.40,88.50 C442.08,90.50 442.97,89.95 444.10,90.30 C445.23,90.65 446.82,90.67 448.20,90.60 C449.58,90.53 450.65,90.53 452.40,89.90 C454.15,89.27 456.95,87.52 458.70,86.80 C460.45,86.08 461.78,86.22 462.90,85.60 C464.02,84.98 464.48,84.02 465.40,83.10 C466.32,82.18 467.40,80.70 468.40,80.10 C469.40,79.50 470.58,80.42 471.40,79.50 C472.22,78.58 472.68,75.82 473.30,74.60 C473.92,73.38 474.50,71.68 475.10,72.20 C475.70,72.72 476.28,75.37 476.90,77.70 C477.52,80.03 478.18,83.07 478.80,86.20 C479.42,89.33 479.90,93.77 480.60,96.50 C481.30,99.23 482.08,102.28 483.00,102.60 C483.92,102.92 485.08,99.82 486.10,98.40 C487.12,96.98 488.20,95.63 489.10,94.10 C490.00,92.57 490.73,90.32 491.50,89.20 C492.27,88.08 492.73,86.98 493.70,87.40 C494.67,87.82 495.68,90.18 497.30,91.70 C498.92,93.22 501.67,96.50 503.40,96.50 C505.13,96.50 506.18,93.42 507.70,91.70 C509.22,89.98 511.08,85.80 512.50,86.20 C513.92,86.60 514.87,92.48 516.20,94.10 C517.53,95.72 519.18,95.40 520.50,95.90 C521.82,96.40 523.50,96.90 524.10,97.10" fill="none" stroke="#c6e2d3" stroke-width="5" stroke-linejoin="round" stroke-linecap="butt" stroke-linecap="round" stroke-opacity="0.85"/>
<path d="M417.40,99.50 C417.97,99.38 419.65,99.37 420.80,98.80 C421.95,98.23 423.15,96.67 424.30,96.10 C425.45,95.53 426.57,95.68 427.70,95.40 C428.83,95.12 429.97,94.12 431.10,94.40 C432.23,94.68 433.23,96.93 434.50,97.10 C435.77,97.27 437.32,95.33 438.70,95.40 C440.08,95.47 441.32,96.65 442.80,97.50 C444.28,98.35 446.00,100.22 447.60,100.50 C449.20,100.78 450.67,99.55 452.40,99.20 C454.13,98.85 456.45,98.33 458.00,98.40 C459.55,98.47 460.58,99.60 461.70,99.60 C462.82,99.60 463.68,99.02 464.70,98.40 C465.72,97.78 466.78,95.95 467.80,95.90 C468.82,95.85 469.78,98.00 470.80,98.10 C471.82,98.20 472.98,96.87 473.90,96.50 C474.82,96.13 475.48,95.48 476.30,95.90 C477.12,96.32 478.08,97.88 478.80,99.00 C479.52,100.12 479.70,101.68 480.60,102.60 C481.50,103.52 482.78,104.08 484.20,104.50 C485.62,104.92 486.62,105.22 489.10,105.10 C491.58,104.98 496.42,104.22 499.10,103.80 C501.78,103.38 503.17,103.00 505.20,102.60 C507.23,102.20 509.47,102.00 511.30,101.40 C513.13,100.80 514.67,99.72 516.20,99.00 C517.73,98.28 519.18,97.42 520.50,97.10 C521.82,96.78 523.10,96.88 524.10,97.10 C525.10,97.32 526.10,98.18 526.50,98.40" fill="none" stroke="#d3ecd3" stroke-width="3.5" stroke-linejoin="round" stroke-linecap="butt" stroke-linecap="round" stroke-opacity="0.85"/>
<path d="M417.40,83.40 C417.97,83.28 419.88,83.03 420.80,82.70 C421.72,82.37 422.20,82.48 422.90,81.40 C423.60,80.32 424.15,79.10 425.00,76.20 C425.85,73.30 426.88,67.25 428.00,64.00 C429.12,60.75 430.68,59.65 431.70,56.70 C432.72,53.75 433.30,50.37 434.10,46.30 C434.90,42.23 435.78,33.52 436.50,32.30 C437.22,31.08 437.78,34.93 438.40,39.00 C439.02,43.07 439.58,50.03 440.20,56.70 C440.82,63.37 441.45,74.27 442.10,79.00 C442.75,83.73 443.18,83.62 444.10,85.10 C445.02,86.58 446.45,87.10 447.60,87.90 C448.75,88.70 449.98,89.45 451.00,89.90 C452.02,90.35 452.63,90.72 453.70,90.60 C454.77,90.48 456.27,89.22 457.40,89.20 C458.53,89.18 459.38,90.75 460.50,90.50 C461.62,90.25 462.88,88.12 464.10,87.70 C465.32,87.28 466.68,88.45 467.80,88.00 C468.92,87.55 469.68,85.92 470.80,85.00 C471.92,84.08 473.58,82.60 474.50,82.50 C475.42,82.40 475.58,83.07 476.30,84.40 C477.02,85.73 477.98,88.07 478.80,90.50 C479.62,92.93 480.40,96.98 481.20,99.00 C482.00,101.02 482.58,102.60 483.60,102.60 C484.62,102.60 486.08,99.92 487.30,99.00 C488.52,98.08 489.83,97.20 490.90,97.10 C491.97,97.00 492.53,97.58 493.70,98.40 C494.87,99.22 496.48,101.40 497.90,102.00 C499.32,102.60 500.67,102.00 502.20,102.00 C503.73,102.00 505.28,102.00 507.10,102.00 C508.92,102.00 511.28,102.20 513.10,102.00 C514.92,101.80 516.47,101.72 518.00,100.80 C519.53,99.88 520.88,97.47 522.30,96.50 C523.72,95.53 525.80,95.25 526.50,95.00" fill="none" stroke="#f7c9c9" stroke-width="3.5" stroke-linejoin="round" stroke-linecap="butt" stroke-linecap="round" stroke-opacity="0.85"/>
<path d="M417.40,93.30 C417.97,93.77 419.43,95.92 420.80,96.10 C422.17,96.28 424.10,94.57 425.60,94.40 C427.10,94.23 428.77,94.70 429.80,95.10 C430.83,95.50 431.02,96.75 431.80,96.80 C432.58,96.85 433.35,95.40 434.50,95.40 C435.65,95.40 437.32,96.12 438.70,96.80 C440.08,97.48 441.67,98.77 442.80,99.50 C443.93,100.23 444.37,101.08 445.50,101.20 C446.63,101.32 448.12,100.82 449.60,100.20 C451.08,99.58 452.68,98.02 454.40,97.50 C456.12,96.98 458.48,97.10 459.90,97.10 C461.32,97.10 461.78,97.90 462.90,97.50 C464.02,97.10 465.38,95.12 466.60,94.70 C467.82,94.28 469.08,94.90 470.20,95.00 C471.32,95.10 472.18,95.05 473.30,95.30 C474.42,95.55 475.78,95.68 476.90,96.50 C478.02,97.32 478.98,99.08 480.00,100.20 C481.02,101.32 481.68,102.65 483.00,103.20 C484.32,103.75 486.27,103.60 487.90,103.50 C489.53,103.40 490.93,102.75 492.80,102.60 C494.67,102.45 496.72,102.85 499.10,102.60 C501.48,102.35 504.55,101.45 507.10,101.10 C509.65,100.75 512.38,100.45 514.40,100.50 C516.42,100.55 517.58,101.15 519.20,101.40 C520.82,101.65 522.88,102.00 524.10,102.00 C525.32,102.00 526.10,101.50 526.50,101.40" fill="none" stroke="#6c1c4c" stroke-width="1.5" stroke-linejoin="round" stroke-linecap="butt" stroke-dasharray="3.2,1.8"/>
<path d="M417.40,74.20 C417.87,74.77 419.40,76.35 420.20,77.60 C421.00,78.85 421.52,81.37 422.20,81.70 C422.88,82.03 423.62,81.20 424.30,79.60 C424.98,78.00 425.58,74.70 426.30,72.10 C427.02,69.50 427.60,66.37 428.60,64.00 C429.60,61.63 431.18,59.83 432.30,57.90 C433.42,55.97 434.50,52.40 435.30,52.40 C436.10,52.40 436.58,55.57 437.10,57.90 C437.62,60.23 437.92,63.00 438.40,66.40 C438.88,69.80 439.50,74.62 440.00,78.30 C440.50,81.98 440.72,86.50 441.40,88.50 C442.08,90.50 442.97,89.95 444.10,90.30 C445.23,90.65 446.82,90.67 448.20,90.60 C449.58,90.53 450.65,90.53 452.40,89.90 C454.15,89.27 456.95,87.52 458.70,86.80 C460.45,86.08 461.78,86.22 462.90,85.60 C464.02,84.98 464.48,84.02 465.40,83.10 C466.32,82.18 467.40,80.70 468.40,80.10 C469.40,79.50 470.58,80.42 471.40,79.50 C472.22,78.58 472.68,75.82 473.30,74.60 C473.92,73.38 474.50,71.68 475.10,72.20 C475.70,72.72 476.28,75.37 476.90,77.70 C477.52,80.03 478.18,83.07 478.80,86.20 C479.42,89.33 479.90,93.77 480.60,96.50 C481.30,99.23 482.08,102.28 483.00,102.60 C483.92,102.92 485.08,99.82 486.10,98.40 C487.12,96.98 488.20,95.63 489.10,94.10 C490.00,92.57 490.73,90.32 491.50,89.20 C492.27,88.08 492.73,86.98 493.70,87.40 C494.67,87.82 495.68,90.18 497.30,91.70 C498.92,93.22 501.67,96.50 503.40,96.50 C505.13,96.50 506.18,93.42 507.70,91.70 C509.22,89.98 511.08,85.80 512.50,86.20 C513.92,86.60 514.87,92.48 516.20,94.10 C517.53,95.72 519.18,95.40 520.50,95.90 C521.82,96.40 523.50,96.90 524.10,97.10" fill="none" stroke="#1f6b3e" stroke-width="1.5" stroke-linejoin="round" stroke-linecap="butt" stroke-dasharray="3.2,1.8"/>
<path d="M417.40,99.50 C417.97,99.38 419.65,99.37 420.80,98.80 C421.95,98.23 423.15,96.67 424.30,96.10 C425.45,95.53 426.57,95.68 427.70,95.40 C428.83,95.12 429.97,94.12 431.10,94.40 C432.23,94.68 433.23,96.93 434.50,97.10 C435.77,97.27 437.32,95.33 438.70,95.40 C440.08,95.47 441.32,96.65 442.80,97.50 C444.28,98.35 446.00,100.22 447.60,100.50 C449.20,100.78 450.67,99.55 452.40,99.20 C454.13,98.85 456.45,98.33 458.00,98.40 C459.55,98.47 460.58,99.60 461.70,99.60 C462.82,99.60 463.68,99.02 464.70,98.40 C465.72,97.78 466.78,95.95 467.80,95.90 C468.82,95.85 469.78,98.00 470.80,98.10 C471.82,98.20 472.98,96.87 473.90,96.50 C474.82,96.13 475.48,95.48 476.30,95.90 C477.12,96.32 478.08,97.88 478.80,99.00 C479.52,100.12 479.70,101.68 480.60,102.60 C481.50,103.52 482.78,104.08 484.20,104.50 C485.62,104.92 486.62,105.22 489.10,105.10 C491.58,104.98 496.42,104.22 499.10,103.80 C501.78,103.38 503.17,103.00 505.20,102.60 C507.23,102.20 509.47,102.00 511.30,101.40 C513.13,100.80 514.67,99.72 516.20,99.00 C517.73,98.28 519.18,97.42 520.50,97.10 C521.82,96.78 523.10,96.88 524.10,97.10 C525.10,97.32 526.10,98.18 526.50,98.40" fill="none" stroke="#3db449" stroke-width="1.4" stroke-linejoin="round" stroke-linecap="butt"/>
<path d="M417.40,83.40 C417.97,83.28 419.88,83.03 420.80,82.70 C421.72,82.37 422.20,82.48 422.90,81.40 C423.60,80.32 424.15,79.10 425.00,76.20 C425.85,73.30 426.88,67.25 428.00,64.00 C429.12,60.75 430.68,59.65 431.70,56.70 C432.72,53.75 433.30,50.37 434.10,46.30 C434.90,42.23 435.78,33.52 436.50,32.30 C437.22,31.08 437.78,34.93 438.40,39.00 C439.02,43.07 439.58,50.03 440.20,56.70 C440.82,63.37 441.45,74.27 442.10,79.00 C442.75,83.73 443.18,83.62 444.10,85.10 C445.02,86.58 446.45,87.10 447.60,87.90 C448.75,88.70 449.98,89.45 451.00,89.90 C452.02,90.35 452.63,90.72 453.70,90.60 C454.77,90.48 456.27,89.22 457.40,89.20 C458.53,89.18 459.38,90.75 460.50,90.50 C461.62,90.25 462.88,88.12 464.10,87.70 C465.32,87.28 466.68,88.45 467.80,88.00 C468.92,87.55 469.68,85.92 470.80,85.00 C471.92,84.08 473.58,82.60 474.50,82.50 C475.42,82.40 475.58,83.07 476.30,84.40 C477.02,85.73 477.98,88.07 478.80,90.50 C479.62,92.93 480.40,96.98 481.20,99.00 C482.00,101.02 482.58,102.60 483.60,102.60 C484.62,102.60 486.08,99.92 487.30,99.00 C488.52,98.08 489.83,97.20 490.90,97.10 C491.97,97.00 492.53,97.58 493.70,98.40 C494.87,99.22 496.48,101.40 497.90,102.00 C499.32,102.60 500.67,102.00 502.20,102.00 C503.73,102.00 505.28,102.00 507.10,102.00 C508.92,102.00 511.28,102.20 513.10,102.00 C514.92,101.80 516.47,101.72 518.00,100.80 C519.53,99.88 520.88,97.47 522.30,96.50 C523.72,95.53 525.80,95.25 526.50,95.00" fill="none" stroke="#e52329" stroke-width="1.4" stroke-linejoin="round" stroke-linecap="butt"/>
<path d="M543.00,58.40 C544.12,58.18 547.67,57.52 549.70,57.10 C551.73,56.68 553.47,56.60 555.20,55.90 C556.93,55.20 558.67,54.12 560.10,52.90 C561.53,51.68 562.68,50.23 563.80,48.60 C564.92,46.97 565.80,44.62 566.80,43.10 C567.80,41.58 568.58,40.30 569.80,39.50 C571.02,38.70 572.77,38.40 574.10,38.30 C575.43,38.20 576.70,38.80 577.80,38.90 C578.90,39.00 579.82,38.40 580.70,38.90 C581.58,39.40 582.10,40.58 583.10,41.90 C584.10,43.22 585.38,45.58 586.70,46.80 C588.02,48.02 589.57,48.58 591.00,49.20 C592.43,49.82 593.98,50.08 595.30,50.50 C596.62,50.92 597.88,51.00 598.90,51.70 C599.92,52.40 600.57,51.93 601.40,54.70 C602.23,57.47 603.10,64.10 603.90,68.30 C604.70,72.50 605.30,76.17 606.20,79.90 C607.10,83.63 608.27,87.73 609.30,90.70 C610.33,93.67 611.23,95.88 612.40,97.70 C613.57,99.52 615.13,101.22 616.30,101.60 C617.47,101.98 618.37,101.68 619.40,100.00 C620.43,98.32 621.47,94.85 622.50,91.50 C623.53,88.15 624.57,83.38 625.60,79.90 C626.63,76.42 627.67,72.93 628.70,70.60 C629.73,68.27 630.63,67.32 631.80,65.90 C632.97,64.48 634.53,63.07 635.70,62.10 C636.87,61.13 637.67,60.58 638.80,60.10 C639.93,59.62 641.18,59.92 642.50,59.20 C643.82,58.48 645.45,56.92 646.70,55.80 C647.95,54.68 649.03,53.33 650.00,52.50 C650.97,51.67 652.08,51.08 652.50,50.80" fill="none" stroke="#dcc2d8" stroke-width="4.5" stroke-linejoin="round" stroke-linecap="butt" stroke-linecap="round" stroke-opacity="0.85"/>
<path d="M543.00,56.50 C543.52,56.10 544.57,55.00 546.10,54.10 C547.63,53.20 550.27,52.22 552.20,51.10 C554.13,49.98 556.08,49.13 557.70,47.40 C559.32,45.67 560.58,42.73 561.90,40.70 C563.22,38.67 564.28,36.62 565.60,35.20 C566.92,33.78 568.38,33.12 569.80,32.20 C571.22,31.28 572.77,29.85 574.10,29.70 C575.43,29.55 576.60,30.88 577.80,31.30 C579.00,31.72 579.92,31.13 581.30,32.20 C582.68,33.27 584.78,36.48 586.10,37.70 C587.42,38.92 588.08,38.70 589.20,39.50 C590.32,40.30 591.58,41.58 592.80,42.50 C594.02,43.42 595.38,43.98 596.50,45.00 C597.62,46.02 598.68,47.28 599.50,48.60 C600.32,49.92 600.78,50.77 601.40,52.90 C602.02,55.03 602.65,58.83 603.20,61.40 C603.75,63.97 603.93,65.22 604.70,68.30 C605.47,71.38 606.77,77.07 607.80,79.90 C608.83,82.73 609.87,83.10 610.90,85.30 C611.93,87.50 612.85,90.52 614.00,93.10 C615.15,95.68 616.77,99.90 617.80,100.80 C618.83,101.70 619.28,100.05 620.20,98.50 C621.12,96.95 622.27,94.22 623.30,91.50 C624.33,88.78 625.37,85.30 626.40,82.20 C627.43,79.10 628.60,75.22 629.50,72.90 C630.40,70.58 630.77,69.20 631.80,68.30 C632.83,67.40 634.05,67.92 635.70,67.50 C637.35,67.08 639.87,66.35 641.70,65.80 C643.53,65.25 645.32,64.88 646.70,64.20 C648.08,63.52 649.03,62.53 650.00,61.70 C650.97,60.87 652.08,59.62 652.50,59.20" fill="none" stroke="#c6e2d3" stroke-width="4.5" stroke-linejoin="round" stroke-linecap="butt" stroke-linecap="round" stroke-opacity="0.85"/>
<path d="M543.00,57.80 C543.52,58.25 544.57,59.90 546.10,60.50 C547.63,61.10 550.37,61.35 552.20,61.40 C554.03,61.45 555.58,61.52 557.10,60.80 C558.62,60.08 559.88,58.82 561.30,57.10 C562.72,55.38 564.28,52.42 565.60,50.50 C566.92,48.58 567.98,46.83 569.20,45.60 C570.42,44.37 571.68,43.47 572.90,43.10 C574.12,42.73 575.42,43.50 576.50,43.40 C577.58,43.30 578.30,42.33 579.40,42.50 C580.50,42.67 581.88,43.38 583.10,44.40 C584.32,45.42 585.48,47.48 586.70,48.60 C587.92,49.72 588.97,50.58 590.40,51.10 C591.83,51.62 593.88,51.40 595.30,51.70 C596.72,52.00 597.88,52.10 598.90,52.90 C599.92,53.70 600.70,54.45 601.40,56.50 C602.10,58.55 602.43,61.95 603.10,65.20 C603.77,68.45 604.50,72.65 605.40,76.00 C606.30,79.35 607.47,82.72 608.50,85.30 C609.53,87.88 610.57,89.43 611.60,91.50 C612.63,93.57 613.67,95.95 614.70,97.70 C615.73,99.45 616.63,101.35 617.80,102.00 C618.97,102.65 620.27,102.18 621.70,101.60 C623.13,101.02 624.85,99.28 626.40,98.50 C627.95,97.72 629.57,97.48 631.00,96.90 C632.43,96.32 633.63,94.77 635.00,95.00 C636.37,95.23 637.82,97.47 639.20,98.30 C640.58,99.13 642.05,99.72 643.30,100.00 C644.55,100.28 645.58,100.70 646.70,100.00 C647.82,99.30 649.03,97.18 650.00,95.80 C650.97,94.42 652.08,92.38 652.50,91.70" fill="none" stroke="#d3ecd3" stroke-width="3" stroke-linejoin="round" stroke-linecap="butt" stroke-linecap="round" stroke-opacity="0.85"/>
<path d="M543.00,59.90 C543.62,60.15 545.47,61.45 546.70,61.40 C547.93,61.35 549.08,60.62 550.40,59.60 C551.72,58.58 553.18,56.82 554.60,55.30 C556.02,53.78 557.58,52.22 558.90,50.50 C560.22,48.78 561.48,47.23 562.50,45.00 C563.52,42.77 564.18,39.65 565.00,37.10 C565.82,34.55 566.38,31.33 567.40,29.70 C568.42,28.07 569.88,27.40 571.10,27.30 C572.32,27.20 573.58,28.28 574.70,29.10 C575.82,29.92 576.80,31.48 577.80,32.20 C578.80,32.92 579.72,32.58 580.70,33.40 C581.68,34.22 582.70,36.18 583.70,37.10 C584.70,38.02 585.78,39.02 586.70,38.90 C587.62,38.78 588.28,36.82 589.20,36.40 C590.12,35.98 591.08,35.98 592.20,36.40 C593.32,36.82 594.78,37.78 595.90,38.90 C597.02,40.02 597.98,41.78 598.90,43.10 C599.82,44.42 600.70,44.55 601.40,46.80 C602.10,49.05 602.43,52.77 603.10,56.60 C603.77,60.43 604.62,66.05 605.40,69.80 C606.18,73.55 606.88,76.52 607.80,79.10 C608.72,81.68 609.87,82.97 610.90,85.30 C611.93,87.63 613.10,90.77 614.00,93.10 C614.90,95.43 615.40,97.75 616.30,99.30 C617.20,100.85 618.37,102.15 619.40,102.40 C620.43,102.65 621.47,101.72 622.50,100.80 C623.53,99.88 624.43,98.07 625.60,96.90 C626.77,95.73 628.07,94.67 629.50,93.80 C630.93,92.93 632.73,91.50 634.20,91.70 C635.67,91.90 636.92,93.90 638.30,95.00 C639.68,96.10 640.97,97.47 642.50,98.30 C644.03,99.13 646.12,99.72 647.50,100.00 C648.88,100.28 649.97,100.28 650.80,100.00 C651.63,99.72 652.22,98.58 652.50,98.30" fill="none" stroke="#f7c9c9" stroke-width="3.5" stroke-linejoin="round" stroke-linecap="butt" stroke-linecap="round" stroke-opacity="0.85"/>
<path d="M543.00,58.40 C544.12,58.18 547.67,57.52 549.70,57.10 C551.73,56.68 553.47,56.60 555.20,55.90 C556.93,55.20 558.67,54.12 560.10,52.90 C561.53,51.68 562.68,50.23 563.80,48.60 C564.92,46.97 565.80,44.62 566.80,43.10 C567.80,41.58 568.58,40.30 569.80,39.50 C571.02,38.70 572.77,38.40 574.10,38.30 C575.43,38.20 576.70,38.80 577.80,38.90 C578.90,39.00 579.82,38.40 580.70,38.90 C581.58,39.40 582.10,40.58 583.10,41.90 C584.10,43.22 585.38,45.58 586.70,46.80 C588.02,48.02 589.57,48.58 591.00,49.20 C592.43,49.82 593.98,50.08 595.30,50.50 C596.62,50.92 597.88,51.00 598.90,51.70 C599.92,52.40 600.57,51.93 601.40,54.70 C602.23,57.47 603.10,64.10 603.90,68.30 C604.70,72.50 605.30,76.17 606.20,79.90 C607.10,83.63 608.27,87.73 609.30,90.70 C610.33,93.67 611.23,95.88 612.40,97.70 C613.57,99.52 615.13,101.22 616.30,101.60 C617.47,101.98 618.37,101.68 619.40,100.00 C620.43,98.32 621.47,94.85 622.50,91.50 C623.53,88.15 624.57,83.38 625.60,79.90 C626.63,76.42 627.67,72.93 628.70,70.60 C629.73,68.27 630.63,67.32 631.80,65.90 C632.97,64.48 634.53,63.07 635.70,62.10 C636.87,61.13 637.67,60.58 638.80,60.10 C639.93,59.62 641.18,59.92 642.50,59.20 C643.82,58.48 645.45,56.92 646.70,55.80 C647.95,54.68 649.03,53.33 650.00,52.50 C650.97,51.67 652.08,51.08 652.50,50.80" fill="none" stroke="#6c1c4c" stroke-width="1.5" stroke-linejoin="round" stroke-linecap="butt" stroke-dasharray="3.2,1.8"/>
<path d="M543.00,56.50 C543.52,56.10 544.57,55.00 546.10,54.10 C547.63,53.20 550.27,52.22 552.20,51.10 C554.13,49.98 556.08,49.13 557.70,47.40 C559.32,45.67 560.58,42.73 561.90,40.70 C563.22,38.67 564.28,36.62 565.60,35.20 C566.92,33.78 568.38,33.12 569.80,32.20 C571.22,31.28 572.77,29.85 574.10,29.70 C575.43,29.55 576.60,30.88 577.80,31.30 C579.00,31.72 579.92,31.13 581.30,32.20 C582.68,33.27 584.78,36.48 586.10,37.70 C587.42,38.92 588.08,38.70 589.20,39.50 C590.32,40.30 591.58,41.58 592.80,42.50 C594.02,43.42 595.38,43.98 596.50,45.00 C597.62,46.02 598.68,47.28 599.50,48.60 C600.32,49.92 600.78,50.77 601.40,52.90 C602.02,55.03 602.65,58.83 603.20,61.40 C603.75,63.97 603.93,65.22 604.70,68.30 C605.47,71.38 606.77,77.07 607.80,79.90 C608.83,82.73 609.87,83.10 610.90,85.30 C611.93,87.50 612.85,90.52 614.00,93.10 C615.15,95.68 616.77,99.90 617.80,100.80 C618.83,101.70 619.28,100.05 620.20,98.50 C621.12,96.95 622.27,94.22 623.30,91.50 C624.33,88.78 625.37,85.30 626.40,82.20 C627.43,79.10 628.60,75.22 629.50,72.90 C630.40,70.58 630.77,69.20 631.80,68.30 C632.83,67.40 634.05,67.92 635.70,67.50 C637.35,67.08 639.87,66.35 641.70,65.80 C643.53,65.25 645.32,64.88 646.70,64.20 C648.08,63.52 649.03,62.53 650.00,61.70 C650.97,60.87 652.08,59.62 652.50,59.20" fill="none" stroke="#1f6b3e" stroke-width="1.5" stroke-linejoin="round" stroke-linecap="butt" stroke-dasharray="3.2,1.8"/>
<path d="M543.00,57.80 C543.52,58.25 544.57,59.90 546.10,60.50 C547.63,61.10 550.37,61.35 552.20,61.40 C554.03,61.45 555.58,61.52 557.10,60.80 C558.62,60.08 559.88,58.82 561.30,57.10 C562.72,55.38 564.28,52.42 565.60,50.50 C566.92,48.58 567.98,46.83 569.20,45.60 C570.42,44.37 571.68,43.47 572.90,43.10 C574.12,42.73 575.42,43.50 576.50,43.40 C577.58,43.30 578.30,42.33 579.40,42.50 C580.50,42.67 581.88,43.38 583.10,44.40 C584.32,45.42 585.48,47.48 586.70,48.60 C587.92,49.72 588.97,50.58 590.40,51.10 C591.83,51.62 593.88,51.40 595.30,51.70 C596.72,52.00 597.88,52.10 598.90,52.90 C599.92,53.70 600.70,54.45 601.40,56.50 C602.10,58.55 602.43,61.95 603.10,65.20 C603.77,68.45 604.50,72.65 605.40,76.00 C606.30,79.35 607.47,82.72 608.50,85.30 C609.53,87.88 610.57,89.43 611.60,91.50 C612.63,93.57 613.67,95.95 614.70,97.70 C615.73,99.45 616.63,101.35 617.80,102.00 C618.97,102.65 620.27,102.18 621.70,101.60 C623.13,101.02 624.85,99.28 626.40,98.50 C627.95,97.72 629.57,97.48 631.00,96.90 C632.43,96.32 633.63,94.77 635.00,95.00 C636.37,95.23 637.82,97.47 639.20,98.30 C640.58,99.13 642.05,99.72 643.30,100.00 C644.55,100.28 645.58,100.70 646.70,100.00 C647.82,99.30 649.03,97.18 650.00,95.80 C650.97,94.42 652.08,92.38 652.50,91.70" fill="none" stroke="#3db449" stroke-width="1.4" stroke-linejoin="round" stroke-linecap="butt"/>
<path d="M543.00,59.90 C543.62,60.15 545.47,61.45 546.70,61.40 C547.93,61.35 549.08,60.62 550.40,59.60 C551.72,58.58 553.18,56.82 554.60,55.30 C556.02,53.78 557.58,52.22 558.90,50.50 C560.22,48.78 561.48,47.23 562.50,45.00 C563.52,42.77 564.18,39.65 565.00,37.10 C565.82,34.55 566.38,31.33 567.40,29.70 C568.42,28.07 569.88,27.40 571.10,27.30 C572.32,27.20 573.58,28.28 574.70,29.10 C575.82,29.92 576.80,31.48 577.80,32.20 C578.80,32.92 579.72,32.58 580.70,33.40 C581.68,34.22 582.70,36.18 583.70,37.10 C584.70,38.02 585.78,39.02 586.70,38.90 C587.62,38.78 588.28,36.82 589.20,36.40 C590.12,35.98 591.08,35.98 592.20,36.40 C593.32,36.82 594.78,37.78 595.90,38.90 C597.02,40.02 597.98,41.78 598.90,43.10 C599.82,44.42 600.70,44.55 601.40,46.80 C602.10,49.05 602.43,52.77 603.10,56.60 C603.77,60.43 604.62,66.05 605.40,69.80 C606.18,73.55 606.88,76.52 607.80,79.10 C608.72,81.68 609.87,82.97 610.90,85.30 C611.93,87.63 613.10,90.77 614.00,93.10 C614.90,95.43 615.40,97.75 616.30,99.30 C617.20,100.85 618.37,102.15 619.40,102.40 C620.43,102.65 621.47,101.72 622.50,100.80 C623.53,99.88 624.43,98.07 625.60,96.90 C626.77,95.73 628.07,94.67 629.50,93.80 C630.93,92.93 632.73,91.50 634.20,91.70 C635.67,91.90 636.92,93.90 638.30,95.00 C639.68,96.10 640.97,97.47 642.50,98.30 C644.03,99.13 646.12,99.72 647.50,100.00 C648.88,100.28 649.97,100.28 650.80,100.00 C651.63,99.72 652.22,98.58 652.50,98.30" fill="none" stroke="#e52329" stroke-width="1.4" stroke-linejoin="round" stroke-linecap="butt"/>
<path d="M158.00,216.50 C165.00,216.42 189.10,216.32 200.00,216.00 C210.90,215.68 218.28,215.03 223.40,214.60 C228.52,214.17 229.08,214.12 230.70,213.40 C232.32,212.68 232.28,211.83 233.10,210.30 C233.92,208.77 234.78,206.23 235.60,204.20 C236.42,202.17 237.08,200.02 238.00,198.10 C238.92,196.18 240.27,193.60 241.10,192.70 C241.93,191.80 242.00,191.33 243.00,192.70 C244.00,194.07 245.40,198.35 247.10,200.90 C248.80,203.45 251.17,205.98 253.20,208.00 C255.23,210.02 256.93,211.83 259.30,213.00 C261.67,214.17 266.05,214.67 267.40,215.00" fill="none" stroke="#dcc2d8" stroke-width="2.6" stroke-linejoin="round" stroke-linecap="butt" stroke-linecap="round" stroke-opacity="0.85"/>
<path d="M158.00,216.50 C165.00,216.42 189.10,216.32 200.00,216.00 C210.90,215.68 218.28,215.03 223.40,214.60 C228.52,214.17 229.08,214.07 230.70,213.40 C232.32,212.73 232.28,212.00 233.10,210.60 C233.92,209.20 234.78,206.77 235.60,205.00 C236.42,203.23 236.93,201.42 238.00,200.00 C239.07,198.58 240.98,197.03 242.00,196.50 C243.02,195.97 242.75,195.57 244.10,196.80 C245.45,198.03 247.73,201.70 250.10,203.90 C252.47,206.10 255.42,208.48 258.30,210.00 C261.18,211.52 265.88,212.50 267.40,213.00" fill="none" stroke="#c6e2d3" stroke-width="2.6" stroke-linejoin="round" stroke-linecap="butt" stroke-linecap="round" stroke-opacity="0.85"/>
<path d="M158.00,216.50 C161.67,216.47 173.00,216.38 180.00,216.30 C187.00,216.22 195.00,216.13 200.00,216.00 C205.00,215.87 207.12,215.68 210.00,215.50 C212.88,215.32 215.27,215.25 217.30,214.90 C219.33,214.55 220.95,214.27 222.20,213.40 C223.45,212.53 224.15,211.53 224.80,209.70 C225.45,207.87 225.65,205.13 226.10,202.40 C226.55,199.67 227.05,196.35 227.50,193.30 C227.95,190.25 228.28,187.15 228.80,184.10 C229.32,181.05 230.05,177.93 230.60,175.00 C231.15,172.07 231.45,170.15 232.10,166.50 C232.75,162.85 233.70,157.15 234.50,153.10 C235.30,149.05 236.08,144.73 236.90,142.20 C237.72,139.67 238.28,138.97 239.40,137.90 C240.52,136.83 242.32,135.62 243.60,135.80 C244.88,135.98 245.88,137.80 247.10,139.00 C248.32,140.20 249.58,141.17 250.90,143.00 C252.22,144.83 253.95,148.17 255.00,150.00 C256.05,151.83 255.98,152.42 257.20,154.00 C258.42,155.58 260.60,156.77 262.30,159.50 C264.00,162.23 266.55,168.58 267.40,170.40" fill="none" stroke="#d3ecd3" stroke-width="2.6" stroke-linejoin="round" stroke-linecap="butt" stroke-linecap="round" stroke-opacity="0.85"/>
<path d="M158.00,216.50 C161.67,216.47 173.00,216.38 180.00,216.30 C187.00,216.22 195.00,216.13 200.00,216.00 C205.00,215.87 207.12,215.68 210.00,215.50 C212.88,215.32 215.27,215.25 217.30,214.90 C219.33,214.55 220.98,214.27 222.20,213.40 C223.42,212.53 224.00,211.53 224.60,209.70 C225.20,207.87 225.38,205.13 225.80,202.40 C226.22,199.67 226.68,196.35 227.10,193.30 C227.52,190.25 227.80,187.15 228.30,184.10 C228.80,181.05 229.68,177.93 230.10,175.00 C230.52,172.07 230.27,169.93 230.80,166.50 C231.33,163.07 232.48,157.75 233.30,154.40 C234.12,151.05 234.90,148.33 235.70,146.40 C236.50,144.47 236.88,143.97 238.10,142.80 C239.32,141.63 241.57,139.50 243.00,139.40 C244.43,139.30 245.52,140.75 246.70,142.20 C247.88,143.65 248.68,146.27 250.10,148.10 C251.52,149.93 253.50,151.50 255.20,153.20 C256.90,154.90 258.78,156.27 260.30,158.30 C261.82,160.33 263.12,163.03 264.30,165.40 C265.48,167.77 266.88,171.32 267.40,172.50" fill="none" stroke="#f7c9c9" stroke-width="2.6" stroke-linejoin="round" stroke-linecap="butt" stroke-linecap="round" stroke-opacity="0.85"/>
<path d="M158.00,216.50 C165.00,216.42 189.10,216.32 200.00,216.00 C210.90,215.68 218.28,215.03 223.40,214.60 C228.52,214.17 229.08,214.12 230.70,213.40 C232.32,212.68 232.28,211.83 233.10,210.30 C233.92,208.77 234.78,206.23 235.60,204.20 C236.42,202.17 237.08,200.02 238.00,198.10 C238.92,196.18 240.27,193.60 241.10,192.70 C241.93,191.80 242.00,191.33 243.00,192.70 C244.00,194.07 245.40,198.35 247.10,200.90 C248.80,203.45 251.17,205.98 253.20,208.00 C255.23,210.02 256.93,211.83 259.30,213.00 C261.67,214.17 266.05,214.67 267.40,215.00" fill="none" stroke="#6c1c4c" stroke-width="1.5" stroke-linejoin="round" stroke-linecap="butt" stroke-dasharray="3.2,1.8"/>
<path d="M158.00,216.50 C165.00,216.42 189.10,216.32 200.00,216.00 C210.90,215.68 218.28,215.03 223.40,214.60 C228.52,214.17 229.08,214.07 230.70,213.40 C232.32,212.73 232.28,212.00 233.10,210.60 C233.92,209.20 234.78,206.77 235.60,205.00 C236.42,203.23 236.93,201.42 238.00,200.00 C239.07,198.58 240.98,197.03 242.00,196.50 C243.02,195.97 242.75,195.57 244.10,196.80 C245.45,198.03 247.73,201.70 250.10,203.90 C252.47,206.10 255.42,208.48 258.30,210.00 C261.18,211.52 265.88,212.50 267.40,213.00" fill="none" stroke="#1f6b3e" stroke-width="1.5" stroke-linejoin="round" stroke-linecap="butt" stroke-dasharray="3.2,1.8"/>
<path d="M158.00,216.50 C161.67,216.47 173.00,216.38 180.00,216.30 C187.00,216.22 195.00,216.13 200.00,216.00 C205.00,215.87 207.12,215.68 210.00,215.50 C212.88,215.32 215.27,215.25 217.30,214.90 C219.33,214.55 220.98,214.27 222.20,213.40 C223.42,212.53 224.00,211.53 224.60,209.70 C225.20,207.87 225.38,205.13 225.80,202.40 C226.22,199.67 226.68,196.35 227.10,193.30 C227.52,190.25 227.80,187.15 228.30,184.10 C228.80,181.05 229.68,177.93 230.10,175.00 C230.52,172.07 230.27,169.93 230.80,166.50 C231.33,163.07 232.48,157.75 233.30,154.40 C234.12,151.05 234.90,148.33 235.70,146.40 C236.50,144.47 236.88,143.97 238.10,142.80 C239.32,141.63 241.57,139.50 243.00,139.40 C244.43,139.30 245.52,140.75 246.70,142.20 C247.88,143.65 248.68,146.27 250.10,148.10 C251.52,149.93 253.50,151.50 255.20,153.20 C256.90,154.90 258.78,156.27 260.30,158.30 C261.82,160.33 263.12,163.03 264.30,165.40 C265.48,167.77 266.88,171.32 267.40,172.50" fill="none" stroke="#e52329" stroke-width="1.4" stroke-linejoin="round" stroke-linecap="butt"/>
<path d="M158.00,216.50 C161.67,216.47 173.00,216.38 180.00,216.30 C187.00,216.22 195.00,216.13 200.00,216.00 C205.00,215.87 207.12,215.68 210.00,215.50 C212.88,215.32 215.27,215.25 217.30,214.90 C219.33,214.55 220.95,214.27 222.20,213.40 C223.45,212.53 224.15,211.53 224.80,209.70 C225.45,207.87 225.65,205.13 226.10,202.40 C226.55,199.67 227.05,196.35 227.50,193.30 C227.95,190.25 228.28,187.15 228.80,184.10 C229.32,181.05 230.05,177.93 230.60,175.00 C231.15,172.07 231.45,170.15 232.10,166.50 C232.75,162.85 233.70,157.15 234.50,153.10 C235.30,149.05 236.08,144.73 236.90,142.20 C237.72,139.67 238.28,138.97 239.40,137.90 C240.52,136.83 242.32,135.62 243.60,135.80 C244.88,135.98 245.88,137.80 247.10,139.00 C248.32,140.20 249.58,141.17 250.90,143.00 C252.22,144.83 253.95,148.17 255.00,150.00 C256.05,151.83 255.98,152.42 257.20,154.00 C258.42,155.58 260.60,156.77 262.30,159.50 C264.00,162.23 266.55,168.58 267.40,170.40" fill="none" stroke="#3db449" stroke-width="1.4" stroke-linejoin="round" stroke-linecap="butt"/>
<path d="M287.50,205.00 C288.75,205.33 292.58,206.33 295.00,207.00 C297.42,207.67 299.50,208.50 302.00,209.00 C304.50,209.50 307.33,209.50 310.00,210.00 C312.67,210.50 315.50,211.50 318.00,212.00 C320.50,212.50 322.67,212.75 325.00,213.00 C327.33,213.25 329.50,213.45 332.00,213.50 C334.50,213.55 337.42,213.87 340.00,213.30 C342.58,212.73 345.53,212.07 347.50,210.10 C349.47,208.13 350.72,205.08 351.80,201.50 C352.88,197.92 353.28,193.07 354.00,188.60 C354.72,184.13 355.40,179.52 356.10,174.70 C356.80,169.88 357.48,164.17 358.20,159.70 C358.92,155.23 359.68,151.03 360.40,147.90 C361.12,144.77 361.62,141.08 362.50,140.90 C363.38,140.72 364.62,143.85 365.70,146.80 C366.78,149.75 367.87,154.40 369.00,158.60 C370.13,162.80 371.50,168.93 372.50,172.00 C373.50,175.07 374.17,176.37 375.00,177.00 C375.83,177.63 376.53,176.83 377.50,175.80 C378.47,174.77 379.68,172.12 380.80,170.80 C381.92,169.48 382.95,168.32 384.20,167.90 C385.45,167.48 386.92,167.95 388.30,168.30 C389.68,168.65 391.03,169.23 392.50,170.00 C393.97,170.77 396.33,172.42 397.10,172.90" fill="none" stroke="#dcc2d8" stroke-width="2.6" stroke-linejoin="round" stroke-linecap="butt" stroke-linecap="round" stroke-opacity="0.85"/>
<path d="M287.50,205.00 C288.75,205.33 292.58,206.33 295.00,207.00 C297.42,207.67 299.50,208.50 302.00,209.00 C304.50,209.50 307.33,209.50 310.00,210.00 C312.67,210.50 315.50,211.50 318.00,212.00 C320.50,212.50 322.67,212.75 325.00,213.00 C327.33,213.25 329.50,213.45 332.00,213.50 C334.50,213.55 337.42,213.87 340.00,213.30 C342.58,212.73 345.53,212.07 347.50,210.10 C349.47,208.13 350.72,205.02 351.80,201.50 C352.88,197.98 353.28,193.33 354.00,189.00 C354.72,184.67 355.40,180.17 356.10,175.50 C356.80,170.83 357.48,165.25 358.20,161.00 C358.92,156.75 359.68,152.83 360.40,150.00 C361.12,147.17 361.62,144.25 362.50,144.00 C363.38,143.75 364.62,146.17 365.70,148.50 C366.78,150.83 367.73,154.55 369.00,158.00 C370.27,161.45 372.02,166.72 373.30,169.20 C374.58,171.68 375.58,172.77 376.70,172.90 C377.82,173.03 378.75,170.90 380.00,170.00 C381.25,169.10 382.67,167.78 384.20,167.50 C385.73,167.22 387.68,167.82 389.20,168.30 C390.72,168.78 391.98,169.63 393.30,170.40 C394.62,171.17 396.47,172.48 397.10,172.90" fill="none" stroke="#c6e2d3" stroke-width="2.6" stroke-linejoin="round" stroke-linecap="butt" stroke-linecap="round" stroke-opacity="0.85"/>
<path d="M287.50,205.00 C288.75,205.33 292.58,206.33 295.00,207.00 C297.42,207.67 299.50,208.50 302.00,209.00 C304.50,209.50 307.33,209.50 310.00,210.00 C312.67,210.50 315.50,211.50 318.00,212.00 C320.50,212.50 322.67,212.75 325.00,213.00 C327.33,213.25 329.50,213.45 332.00,213.50 C334.50,213.55 337.42,213.87 340.00,213.30 C342.58,212.73 345.53,211.72 347.50,210.10 C349.47,208.48 350.55,205.93 351.80,203.60 C353.05,201.27 353.93,197.80 355.00,196.10 C356.07,194.40 357.13,193.22 358.20,193.40 C359.27,193.58 359.97,195.13 361.40,197.20 C362.83,199.27 365.37,203.25 366.80,205.80 C368.23,208.35 368.92,210.68 370.00,212.50 C371.08,214.32 372.18,215.73 373.30,216.70 C374.42,217.67 375.58,218.30 376.70,218.30 C377.82,218.30 378.90,218.08 380.00,216.70 C381.10,215.32 382.05,212.92 383.30,210.00 C384.55,207.08 386.10,202.40 387.50,199.20 C388.90,196.00 390.45,193.03 391.70,190.80 C392.95,188.57 394.10,187.12 395.00,185.80 C395.90,184.48 396.75,183.38 397.10,182.90" fill="none" stroke="#d3ecd3" stroke-width="2.6" stroke-linejoin="round" stroke-linecap="butt" stroke-linecap="round" stroke-opacity="0.85"/>
<path d="M287.50,205.00 C288.75,205.33 292.58,206.33 295.00,207.00 C297.42,207.67 299.50,208.50 302.00,209.00 C304.50,209.50 307.33,209.50 310.00,210.00 C312.67,210.50 315.50,211.50 318.00,212.00 C320.50,212.50 322.67,212.75 325.00,213.00 C327.33,213.25 329.50,213.45 332.00,213.50 C334.50,213.55 337.42,213.87 340.00,213.30 C342.58,212.73 345.53,212.07 347.50,210.10 C349.47,208.13 350.55,204.18 351.80,201.50 C353.05,198.82 353.93,195.70 355.00,194.00 C356.07,192.30 357.13,191.30 358.20,191.30 C359.27,191.30 359.97,192.12 361.40,194.00 C362.83,195.88 365.37,200.07 366.80,202.60 C368.23,205.13 369.05,207.68 370.00,209.20 C370.95,210.72 371.53,211.08 372.50,211.70 C373.47,212.32 374.55,212.90 375.80,212.90 C377.05,212.90 378.75,212.88 380.00,211.70 C381.25,210.52 382.18,208.30 383.30,205.80 C384.42,203.30 385.45,199.33 386.70,196.70 C387.95,194.07 389.55,191.95 390.80,190.00 C392.05,188.05 393.15,186.38 394.20,185.00 C395.25,183.62 396.62,182.25 397.10,181.70" fill="none" stroke="#f7c9c9" stroke-width="2.6" stroke-linejoin="round" stroke-linecap="butt" stroke-linecap="round" stroke-opacity="0.85"/>
<path d="M287.50,205.00 C288.75,205.33 292.58,206.33 295.00,207.00 C297.42,207.67 299.50,208.50 302.00,209.00 C304.50,209.50 307.33,209.50 310.00,210.00 C312.67,210.50 315.50,211.50 318.00,212.00 C320.50,212.50 322.67,212.75 325.00,213.00 C327.33,213.25 329.50,213.45 332.00,213.50 C334.50,213.55 337.42,213.87 340.00,213.30 C342.58,212.73 345.53,212.07 347.50,210.10 C349.47,208.13 350.72,205.08 351.80,201.50 C352.88,197.92 353.28,193.07 354.00,188.60 C354.72,184.13 355.40,179.52 356.10,174.70 C356.80,169.88 357.48,164.17 358.20,159.70 C358.92,155.23 359.68,151.03 360.40,147.90 C361.12,144.77 361.62,141.08 362.50,140.90 C363.38,140.72 364.62,143.85 365.70,146.80 C366.78,149.75 367.87,154.40 369.00,158.60 C370.13,162.80 371.50,168.93 372.50,172.00 C373.50,175.07 374.17,176.37 375.00,177.00 C375.83,177.63 376.53,176.83 377.50,175.80 C378.47,174.77 379.68,172.12 380.80,170.80 C381.92,169.48 382.95,168.32 384.20,167.90 C385.45,167.48 386.92,167.95 388.30,168.30 C389.68,168.65 391.03,169.23 392.50,170.00 C393.97,170.77 396.33,172.42 397.10,172.90" fill="none" stroke="#6c1c4c" stroke-width="1.5" stroke-linejoin="round" stroke-linecap="butt" stroke-dasharray="3.2,1.8"/>
<path d="M287.50,205.00 C288.75,205.33 292.58,206.33 295.00,207.00 C297.42,207.67 299.50,208.50 302.00,209.00 C304.50,209.50 307.33,209.50 310.00,210.00 C312.67,210.50 315.50,211.50 318.00,212.00 C320.50,212.50 322.67,212.75 325.00,213.00 C327.33,213.25 329.50,213.45 332.00,213.50 C334.50,213.55 337.42,213.87 340.00,213.30 C342.58,212.73 345.53,212.07 347.50,210.10 C349.47,208.13 350.72,205.02 351.80,201.50 C352.88,197.98 353.28,193.33 354.00,189.00 C354.72,184.67 355.40,180.17 356.10,175.50 C356.80,170.83 357.48,165.25 358.20,161.00 C358.92,156.75 359.68,152.83 360.40,150.00 C361.12,147.17 361.62,144.25 362.50,144.00 C363.38,143.75 364.62,146.17 365.70,148.50 C366.78,150.83 367.73,154.55 369.00,158.00 C370.27,161.45 372.02,166.72 373.30,169.20 C374.58,171.68 375.58,172.77 376.70,172.90 C377.82,173.03 378.75,170.90 380.00,170.00 C381.25,169.10 382.67,167.78 384.20,167.50 C385.73,167.22 387.68,167.82 389.20,168.30 C390.72,168.78 391.98,169.63 393.30,170.40 C394.62,171.17 396.47,172.48 397.10,172.90" fill="none" stroke="#1f6b3e" stroke-width="1.5" stroke-linejoin="round" stroke-linecap="butt" stroke-dasharray="3.2,1.8"/>
<path d="M287.50,205.00 C288.75,205.33 292.58,206.33 295.00,207.00 C297.42,207.67 299.50,208.50 302.00,209.00 C304.50,209.50 307.33,209.50 310.00,210.00 C312.67,210.50 315.50,211.50 318.00,212.00 C320.50,212.50 322.67,212.75 325.00,213.00 C327.33,213.25 329.50,213.45 332.00,213.50 C334.50,213.55 337.42,213.87 340.00,213.30 C342.58,212.73 345.53,212.07 347.50,210.10 C349.47,208.13 350.55,204.18 351.80,201.50 C353.05,198.82 353.93,195.70 355.00,194.00 C356.07,192.30 357.13,191.30 358.20,191.30 C359.27,191.30 359.97,192.12 361.40,194.00 C362.83,195.88 365.37,200.07 366.80,202.60 C368.23,205.13 369.05,207.68 370.00,209.20 C370.95,210.72 371.53,211.08 372.50,211.70 C373.47,212.32 374.55,212.90 375.80,212.90 C377.05,212.90 378.75,212.88 380.00,211.70 C381.25,210.52 382.18,208.30 383.30,205.80 C384.42,203.30 385.45,199.33 386.70,196.70 C387.95,194.07 389.55,191.95 390.80,190.00 C392.05,188.05 393.15,186.38 394.20,185.00 C395.25,183.62 396.62,182.25 397.10,181.70" fill="none" stroke="#e52329" stroke-width="1.4" stroke-linejoin="round" stroke-linecap="butt"/>
<path d="M287.50,205.00 C288.75,205.33 292.58,206.33 295.00,207.00 C297.42,207.67 299.50,208.50 302.00,209.00 C304.50,209.50 307.33,209.50 310.00,210.00 C312.67,210.50 315.50,211.50 318.00,212.00 C320.50,212.50 322.67,212.75 325.00,213.00 C327.33,213.25 329.50,213.45 332.00,213.50 C334.50,213.55 337.42,213.87 340.00,213.30 C342.58,212.73 345.53,211.72 347.50,210.10 C349.47,208.48 350.55,205.93 351.80,203.60 C353.05,201.27 353.93,197.80 355.00,196.10 C356.07,194.40 357.13,193.22 358.20,193.40 C359.27,193.58 359.97,195.13 361.40,197.20 C362.83,199.27 365.37,203.25 366.80,205.80 C368.23,208.35 368.92,210.68 370.00,212.50 C371.08,214.32 372.18,215.73 373.30,216.70 C374.42,217.67 375.58,218.30 376.70,218.30 C377.82,218.30 378.90,218.08 380.00,216.70 C381.10,215.32 382.05,212.92 383.30,210.00 C384.55,207.08 386.10,202.40 387.50,199.20 C388.90,196.00 390.45,193.03 391.70,190.80 C392.95,188.57 394.10,187.12 395.00,185.80 C395.90,184.48 396.75,183.38 397.10,182.90" fill="none" stroke="#3db449" stroke-width="1.4" stroke-linejoin="round" stroke-linecap="butt"/>
<path d="M416.10,173.00 C417.00,173.50 419.72,176.00 421.50,176.00 C423.28,176.00 425.22,173.00 426.80,173.00 C428.38,173.00 429.47,176.50 431.00,176.00 C432.53,175.50 434.33,170.00 436.00,170.00 C437.67,170.00 439.33,175.33 441.00,176.00 C442.67,176.67 444.50,174.00 446.00,174.00 C447.50,174.00 448.50,176.33 450.00,176.00 C451.50,175.67 453.33,172.33 455.00,172.00 C456.67,171.67 458.17,174.00 460.00,174.00 C461.83,174.00 464.00,172.17 466.00,172.00 C468.00,171.83 470.00,172.33 472.00,173.00 C474.00,173.67 476.67,175.32 478.00,176.00 C479.33,176.68 478.93,176.18 480.00,177.10 C481.07,178.02 483.12,179.12 484.40,181.50 C485.68,183.88 486.60,187.92 487.70,191.40 C488.80,194.88 489.90,199.57 491.00,202.40 C492.10,205.23 492.85,207.32 494.30,208.40 C495.75,209.48 497.88,208.63 499.70,208.90 C501.52,209.17 503.37,209.53 505.20,210.00 C507.03,210.47 508.87,211.88 510.70,211.70 C512.53,211.52 514.37,210.27 516.20,208.90 C518.03,207.53 519.97,205.68 521.70,203.50 C523.43,201.32 525.78,197.08 526.60,195.80" fill="none" stroke="#dcc2d8" stroke-width="3" stroke-linejoin="round" stroke-linecap="butt" stroke-linecap="round" stroke-opacity="0.85"/>
<path d="M416.10,171.50 C417.00,171.58 419.52,171.58 421.50,172.00 C423.48,172.42 426.08,174.00 428.00,174.00 C429.92,174.00 431.33,172.67 433.00,172.00 C434.67,171.33 436.17,170.00 438.00,170.00 C439.83,170.00 442.00,171.83 444.00,172.00 C446.00,172.17 448.00,171.00 450.00,171.00 C452.00,171.00 454.00,171.67 456.00,172.00 C458.00,172.33 460.00,173.00 462.00,173.00 C464.00,173.00 465.83,171.83 468.00,172.00 C470.17,172.17 473.00,173.25 475.00,174.00 C477.00,174.75 478.43,175.33 480.00,176.50 C481.57,177.67 483.12,178.67 484.40,181.00 C485.68,183.33 486.60,187.08 487.70,190.50 C488.80,193.92 489.90,198.65 491.00,201.50 C492.10,204.35 492.85,206.45 494.30,207.60 C495.75,208.75 497.88,208.08 499.70,208.40 C501.52,208.72 503.37,209.07 505.20,209.50 C507.03,209.93 508.87,211.18 510.70,211.00 C512.53,210.82 514.37,209.73 516.20,208.40 C518.03,207.07 519.97,205.18 521.70,203.00 C523.43,200.82 525.78,196.58 526.60,195.30" fill="none" stroke="#c6e2d3" stroke-width="3" stroke-linejoin="round" stroke-linecap="butt" stroke-linecap="round" stroke-opacity="0.85"/>
<path d="M416.10,174.00 C417.00,174.35 419.72,176.10 421.50,176.10 C423.28,176.10 425.03,174.53 426.80,174.00 C428.57,173.47 430.15,173.00 432.10,172.90 C434.05,172.80 436.18,173.40 438.50,173.40 C440.82,173.40 443.68,173.15 446.00,172.90 C448.32,172.65 450.10,171.82 452.40,171.90 C454.70,171.98 457.32,173.40 459.80,173.40 C462.28,173.40 464.98,171.98 467.30,171.90 C469.62,171.82 471.58,172.20 473.70,172.90 C475.82,173.60 478.22,175.22 480.00,176.10 C481.78,176.98 482.75,176.93 484.40,178.20 C486.05,179.47 488.43,181.13 489.90,183.70 C491.37,186.27 491.93,189.93 493.20,193.60 C494.47,197.27 496.05,202.42 497.50,205.70 C498.95,208.98 500.62,212.03 501.90,213.30 C503.18,214.57 503.92,214.75 505.20,213.30 C506.48,211.85 508.13,209.17 509.60,204.60 C511.07,200.03 512.53,192.85 514.00,185.90 C515.47,178.95 517.12,168.93 518.40,162.90 C519.68,156.87 520.33,153.35 521.70,149.70 C523.07,146.05 525.78,142.45 526.60,141.00" fill="none" stroke="#d3ecd3" stroke-width="3" stroke-linejoin="round" stroke-linecap="butt" stroke-linecap="round" stroke-opacity="0.85"/>
<path d="M416.10,172.90 C417.00,172.20 420.07,168.87 421.50,168.70 C422.93,168.53 423.47,171.37 424.70,171.90 C425.93,172.43 427.67,171.38 428.90,171.90 C430.13,172.42 430.68,175.18 432.10,175.00 C433.52,174.82 435.62,171.15 437.40,170.80 C439.18,170.45 440.83,172.90 442.80,172.90 C444.77,172.90 446.90,171.33 449.20,170.80 C451.50,170.27 454.65,169.35 456.60,169.70 C458.55,170.05 459.30,173.43 460.90,172.90 C462.50,172.37 464.43,166.85 466.20,166.50 C467.97,166.15 469.72,169.90 471.50,170.80 C473.28,171.70 475.48,171.57 476.90,171.90 C478.32,172.23 478.93,172.10 480.00,172.80 C481.07,173.50 481.83,174.65 483.30,176.10 C484.77,177.55 487.33,179.32 488.80,181.50 C490.27,183.68 490.83,186.08 492.10,189.20 C493.37,192.32 494.95,197.08 496.40,200.20 C497.85,203.32 499.33,206.35 500.80,207.90 C502.27,209.45 503.92,210.05 505.20,209.50 C506.48,208.95 507.22,207.62 508.50,204.60 C509.78,201.58 511.43,196.88 512.90,191.40 C514.37,185.92 516.02,177.92 517.30,171.70 C518.58,165.48 519.50,158.67 520.60,154.10 C521.70,149.53 522.90,146.67 523.90,144.30 C524.90,141.93 526.15,140.63 526.60,139.90" fill="none" stroke="#f7c9c9" stroke-width="3" stroke-linejoin="round" stroke-linecap="butt" stroke-linecap="round" stroke-opacity="0.85"/>
<path d="M416.10,173.00 C417.00,173.50 419.72,176.00 421.50,176.00 C423.28,176.00 425.22,173.00 426.80,173.00 C428.38,173.00 429.47,176.50 431.00,176.00 C432.53,175.50 434.33,170.00 436.00,170.00 C437.67,170.00 439.33,175.33 441.00,176.00 C442.67,176.67 444.50,174.00 446.00,174.00 C447.50,174.00 448.50,176.33 450.00,176.00 C451.50,175.67 453.33,172.33 455.00,172.00 C456.67,171.67 458.17,174.00 460.00,174.00 C461.83,174.00 464.00,172.17 466.00,172.00 C468.00,171.83 470.00,172.33 472.00,173.00 C474.00,173.67 476.67,175.32 478.00,176.00 C479.33,176.68 478.93,176.18 480.00,177.10 C481.07,178.02 483.12,179.12 484.40,181.50 C485.68,183.88 486.60,187.92 487.70,191.40 C488.80,194.88 489.90,199.57 491.00,202.40 C492.10,205.23 492.85,207.32 494.30,208.40 C495.75,209.48 497.88,208.63 499.70,208.90 C501.52,209.17 503.37,209.53 505.20,210.00 C507.03,210.47 508.87,211.88 510.70,211.70 C512.53,211.52 514.37,210.27 516.20,208.90 C518.03,207.53 519.97,205.68 521.70,203.50 C523.43,201.32 525.78,197.08 526.60,195.80" fill="none" stroke="#6c1c4c" stroke-width="1.5" stroke-linejoin="round" stroke-linecap="butt" stroke-dasharray="3.2,1.8"/>
<path d="M416.10,171.50 C417.00,171.58 419.52,171.58 421.50,172.00 C423.48,172.42 426.08,174.00 428.00,174.00 C429.92,174.00 431.33,172.67 433.00,172.00 C434.67,171.33 436.17,170.00 438.00,170.00 C439.83,170.00 442.00,171.83 444.00,172.00 C446.00,172.17 448.00,171.00 450.00,171.00 C452.00,171.00 454.00,171.67 456.00,172.00 C458.00,172.33 460.00,173.00 462.00,173.00 C464.00,173.00 465.83,171.83 468.00,172.00 C470.17,172.17 473.00,173.25 475.00,174.00 C477.00,174.75 478.43,175.33 480.00,176.50 C481.57,177.67 483.12,178.67 484.40,181.00 C485.68,183.33 486.60,187.08 487.70,190.50 C488.80,193.92 489.90,198.65 491.00,201.50 C492.10,204.35 492.85,206.45 494.30,207.60 C495.75,208.75 497.88,208.08 499.70,208.40 C501.52,208.72 503.37,209.07 505.20,209.50 C507.03,209.93 508.87,211.18 510.70,211.00 C512.53,210.82 514.37,209.73 516.20,208.40 C518.03,207.07 519.97,205.18 521.70,203.00 C523.43,200.82 525.78,196.58 526.60,195.30" fill="none" stroke="#1f6b3e" stroke-width="1.5" stroke-linejoin="round" stroke-linecap="butt" stroke-dasharray="3.2,1.8"/>
<path d="M416.10,172.90 C417.00,172.20 420.07,168.87 421.50,168.70 C422.93,168.53 423.47,171.37 424.70,171.90 C425.93,172.43 427.67,171.38 428.90,171.90 C430.13,172.42 430.68,175.18 432.10,175.00 C433.52,174.82 435.62,171.15 437.40,170.80 C439.18,170.45 440.83,172.90 442.80,172.90 C444.77,172.90 446.90,171.33 449.20,170.80 C451.50,170.27 454.65,169.35 456.60,169.70 C458.55,170.05 459.30,173.43 460.90,172.90 C462.50,172.37 464.43,166.85 466.20,166.50 C467.97,166.15 469.72,169.90 471.50,170.80 C473.28,171.70 475.48,171.57 476.90,171.90 C478.32,172.23 478.93,172.10 480.00,172.80 C481.07,173.50 481.83,174.65 483.30,176.10 C484.77,177.55 487.33,179.32 488.80,181.50 C490.27,183.68 490.83,186.08 492.10,189.20 C493.37,192.32 494.95,197.08 496.40,200.20 C497.85,203.32 499.33,206.35 500.80,207.90 C502.27,209.45 503.92,210.05 505.20,209.50 C506.48,208.95 507.22,207.62 508.50,204.60 C509.78,201.58 511.43,196.88 512.90,191.40 C514.37,185.92 516.02,177.92 517.30,171.70 C518.58,165.48 519.50,158.67 520.60,154.10 C521.70,149.53 522.90,146.67 523.90,144.30 C524.90,141.93 526.15,140.63 526.60,139.90" fill="none" stroke="#e52329" stroke-width="1.4" stroke-linejoin="round" stroke-linecap="butt"/>
<path d="M416.10,174.00 C417.00,174.35 419.72,176.10 421.50,176.10 C423.28,176.10 425.03,174.53 426.80,174.00 C428.57,173.47 430.15,173.00 432.10,172.90 C434.05,172.80 436.18,173.40 438.50,173.40 C440.82,173.40 443.68,173.15 446.00,172.90 C448.32,172.65 450.10,171.82 452.40,171.90 C454.70,171.98 457.32,173.40 459.80,173.40 C462.28,173.40 464.98,171.98 467.30,171.90 C469.62,171.82 471.58,172.20 473.70,172.90 C475.82,173.60 478.22,175.22 480.00,176.10 C481.78,176.98 482.75,176.93 484.40,178.20 C486.05,179.47 488.43,181.13 489.90,183.70 C491.37,186.27 491.93,189.93 493.20,193.60 C494.47,197.27 496.05,202.42 497.50,205.70 C498.95,208.98 500.62,212.03 501.90,213.30 C503.18,214.57 503.92,214.75 505.20,213.30 C506.48,211.85 508.13,209.17 509.60,204.60 C511.07,200.03 512.53,192.85 514.00,185.90 C515.47,178.95 517.12,168.93 518.40,162.90 C519.68,156.87 520.33,153.35 521.70,149.70 C523.07,146.05 525.78,142.45 526.60,141.00" fill="none" stroke="#3db449" stroke-width="1.4" stroke-linejoin="round" stroke-linecap="butt"/>
<path d="M541.80,192.40 C543.02,192.17 546.97,191.83 549.10,191.00 C551.23,190.17 552.77,188.83 554.60,187.40 C556.43,185.97 558.42,184.00 560.10,182.40 C561.78,180.80 563.48,177.65 564.70,177.80 C565.92,177.95 566.18,182.92 567.40,183.30 C568.62,183.68 570.02,180.93 572.00,180.10 C573.98,179.27 577.48,177.62 579.30,178.30 C581.12,178.98 581.83,183.75 582.90,184.20 C583.97,184.65 584.63,182.37 585.70,181.00 C586.77,179.63 587.78,177.07 589.30,176.00 C590.82,174.93 593.05,174.43 594.80,174.60 C596.55,174.77 598.33,177.72 599.80,177.00 C601.27,176.28 602.33,173.63 603.60,170.30 C604.87,166.97 606.13,160.18 607.40,157.00 C608.67,153.82 609.93,151.53 611.20,151.20 C612.47,150.87 613.88,153.08 615.00,155.00 C616.12,156.92 616.93,162.22 617.90,162.70 C618.87,163.18 619.85,158.38 620.80,157.90 C621.75,157.42 622.50,157.88 623.60,159.80 C624.70,161.72 626.12,164.95 627.40,169.40 C628.68,173.85 630.02,181.73 631.30,186.50 C632.58,191.27 633.83,195.30 635.10,198.00 C636.37,200.70 637.32,202.07 638.90,202.70 C640.48,203.33 642.85,201.47 644.60,201.80 C646.35,202.13 648.05,203.75 649.40,204.70 C650.75,205.65 652.15,207.03 652.70,207.50" fill="none" stroke="#dcc2d8" stroke-width="3.2" stroke-linejoin="round" stroke-linecap="butt" stroke-linecap="round" stroke-opacity="0.85"/>
<path d="M541.80,193.80 C543.02,192.88 546.97,189.60 549.10,188.30 C551.23,187.00 552.62,186.83 554.60,186.00 C556.58,185.17 559.02,183.75 561.00,183.30 C562.98,182.85 564.82,183.92 566.50,183.30 C568.18,182.68 569.43,180.43 571.10,179.60 C572.77,178.77 574.53,178.75 576.50,178.30 C578.47,177.85 580.92,177.28 582.90,176.90 C584.88,176.52 586.38,176.62 588.40,176.00 C590.42,175.38 592.95,174.78 595.00,173.20 C597.05,171.62 598.95,168.57 600.70,166.50 C602.45,164.43 603.90,163.18 605.50,160.80 C607.10,158.42 608.72,154.27 610.30,152.20 C611.88,150.13 613.57,149.35 615.00,148.40 C616.43,147.45 617.78,146.18 618.90,146.50 C620.02,146.82 620.60,148.08 621.70,150.30 C622.80,152.52 624.22,155.98 625.50,159.80 C626.78,163.62 628.12,168.43 629.40,173.20 C630.68,177.97 631.93,184.27 633.20,188.40 C634.47,192.53 635.73,195.93 637.00,198.00 C638.27,200.07 639.22,200.02 640.80,200.80 C642.38,201.58 644.52,201.90 646.50,202.70 C648.48,203.50 651.67,205.12 652.70,205.60" fill="none" stroke="#c6e2d3" stroke-width="3.2" stroke-linejoin="round" stroke-linecap="butt" stroke-linecap="round" stroke-opacity="0.85"/>
<path d="M541.80,187.40 C542.72,188.08 545.62,191.58 547.30,191.50 C548.98,191.42 550.38,187.58 551.90,186.90 C553.42,186.22 554.58,188.08 556.40,187.40 C558.22,186.72 560.97,182.80 562.80,182.80 C564.63,182.80 565.72,187.17 567.40,187.40 C569.08,187.63 571.23,185.27 572.90,184.20 C574.57,183.13 575.73,181.77 577.40,181.00 C579.07,180.23 581.07,180.43 582.90,179.60 C584.73,178.77 586.87,176.75 588.40,176.00 C589.93,175.25 590.88,175.57 592.10,175.10 C593.32,174.63 594.27,174.32 595.70,173.20 C597.13,172.08 599.07,169.83 600.70,168.40 C602.33,166.97 604.07,166.18 605.50,164.60 C606.93,163.02 607.87,160.50 609.30,158.90 C610.73,157.30 612.67,156.60 614.10,155.00 C615.53,153.40 616.63,149.62 617.90,149.30 C619.17,148.98 620.43,151.18 621.70,153.10 C622.97,155.02 624.38,157.77 625.50,160.80 C626.62,163.83 627.28,167.17 628.40,171.30 C629.52,175.43 631.08,181.32 632.20,185.60 C633.32,189.88 634.15,192.87 635.10,197.00 C636.05,201.13 636.78,208.65 637.90,210.40 C639.02,212.15 640.52,207.67 641.80,207.50 C643.08,207.33 644.33,209.23 645.60,209.40 C646.87,209.57 648.22,208.50 649.40,208.50 C650.58,208.50 652.15,209.25 652.70,209.40" fill="none" stroke="#d3ecd3" stroke-width="3.2" stroke-linejoin="round" stroke-linecap="butt" stroke-linecap="round" stroke-opacity="0.85"/>
<path d="M541.80,185.10 C542.72,185.03 545.77,184.32 547.30,184.70 C548.83,185.08 549.78,187.18 551.00,187.40 C552.22,187.62 553.38,186.68 554.60,186.00 C555.82,185.32 557.08,183.45 558.30,183.30 C559.52,183.15 560.53,186.08 561.90,185.10 C563.27,184.12 565.13,178.85 566.50,177.40 C567.87,175.95 568.88,176.03 570.10,176.40 C571.32,176.77 572.58,180.13 573.80,179.60 C575.02,179.07 576.18,173.80 577.40,173.20 C578.62,172.60 579.88,176.15 581.10,176.00 C582.32,175.85 583.63,172.15 584.70,172.30 C585.77,172.45 586.43,176.67 587.50,176.90 C588.57,177.13 589.85,175.28 591.10,173.70 C592.35,172.12 593.72,168.92 595.00,167.40 C596.28,165.88 597.53,165.23 598.80,164.60 C600.07,163.97 601.32,164.40 602.60,163.60 C603.88,162.80 605.22,161.23 606.50,159.80 C607.78,158.37 609.03,156.43 610.30,155.00 C611.57,153.57 612.98,152.78 614.10,151.20 C615.22,149.62 616.20,147.00 617.00,145.50 C617.80,144.00 618.12,141.57 618.90,142.20 C619.68,142.83 620.60,146.68 621.70,149.30 C622.80,151.92 624.38,154.40 625.50,157.90 C626.62,161.40 627.43,166.48 628.40,170.30 C629.37,174.12 630.18,177.13 631.30,180.80 C632.42,184.47 634.00,188.97 635.10,192.30 C636.20,195.63 636.95,198.27 637.90,200.80 C638.85,203.33 639.68,206.85 640.80,207.50 C641.92,208.15 643.33,204.85 644.60,204.70 C645.87,204.55 647.12,206.60 648.40,206.60 C649.68,206.60 651.65,205.02 652.30,204.70" fill="none" stroke="#f7c9c9" stroke-width="3.2" stroke-linejoin="round" stroke-linecap="butt" stroke-linecap="round" stroke-opacity="0.85"/>
<path d="M541.80,192.40 C543.02,192.17 546.97,191.83 549.10,191.00 C551.23,190.17 552.77,188.83 554.60,187.40 C556.43,185.97 558.42,184.00 560.10,182.40 C561.78,180.80 563.48,177.65 564.70,177.80 C565.92,177.95 566.18,182.92 567.40,183.30 C568.62,183.68 570.02,180.93 572.00,180.10 C573.98,179.27 577.48,177.62 579.30,178.30 C581.12,178.98 581.83,183.75 582.90,184.20 C583.97,184.65 584.63,182.37 585.70,181.00 C586.77,179.63 587.78,177.07 589.30,176.00 C590.82,174.93 593.05,174.43 594.80,174.60 C596.55,174.77 598.33,177.72 599.80,177.00 C601.27,176.28 602.33,173.63 603.60,170.30 C604.87,166.97 606.13,160.18 607.40,157.00 C608.67,153.82 609.93,151.53 611.20,151.20 C612.47,150.87 613.88,153.08 615.00,155.00 C616.12,156.92 616.93,162.22 617.90,162.70 C618.87,163.18 619.85,158.38 620.80,157.90 C621.75,157.42 622.50,157.88 623.60,159.80 C624.70,161.72 626.12,164.95 627.40,169.40 C628.68,173.85 630.02,181.73 631.30,186.50 C632.58,191.27 633.83,195.30 635.10,198.00 C636.37,200.70 637.32,202.07 638.90,202.70 C640.48,203.33 642.85,201.47 644.60,201.80 C646.35,202.13 648.05,203.75 649.40,204.70 C650.75,205.65 652.15,207.03 652.70,207.50" fill="none" stroke="#6c1c4c" stroke-width="1.5" stroke-linejoin="round" stroke-linecap="butt" stroke-dasharray="3.2,1.8"/>
<path d="M541.80,193.80 C543.02,192.88 546.97,189.60 549.10,188.30 C551.23,187.00 552.62,186.83 554.60,186.00 C556.58,185.17 559.02,183.75 561.00,183.30 C562.98,182.85 564.82,183.92 566.50,183.30 C568.18,182.68 569.43,180.43 571.10,179.60 C572.77,178.77 574.53,178.75 576.50,178.30 C578.47,177.85 580.92,177.28 582.90,176.90 C584.88,176.52 586.38,176.62 588.40,176.00 C590.42,175.38 592.95,174.78 595.00,173.20 C597.05,171.62 598.95,168.57 600.70,166.50 C602.45,164.43 603.90,163.18 605.50,160.80 C607.10,158.42 608.72,154.27 610.30,152.20 C611.88,150.13 613.57,149.35 615.00,148.40 C616.43,147.45 617.78,146.18 618.90,146.50 C620.02,146.82 620.60,148.08 621.70,150.30 C622.80,152.52 624.22,155.98 625.50,159.80 C626.78,163.62 628.12,168.43 629.40,173.20 C630.68,177.97 631.93,184.27 633.20,188.40 C634.47,192.53 635.73,195.93 637.00,198.00 C638.27,200.07 639.22,200.02 640.80,200.80 C642.38,201.58 644.52,201.90 646.50,202.70 C648.48,203.50 651.67,205.12 652.70,205.60" fill="none" stroke="#1f6b3e" stroke-width="1.5" stroke-linejoin="round" stroke-linecap="butt" stroke-dasharray="3.2,1.8"/>
<path d="M541.80,185.10 C542.72,185.03 545.77,184.32 547.30,184.70 C548.83,185.08 549.78,187.18 551.00,187.40 C552.22,187.62 553.38,186.68 554.60,186.00 C555.82,185.32 557.08,183.45 558.30,183.30 C559.52,183.15 560.53,186.08 561.90,185.10 C563.27,184.12 565.13,178.85 566.50,177.40 C567.87,175.95 568.88,176.03 570.10,176.40 C571.32,176.77 572.58,180.13 573.80,179.60 C575.02,179.07 576.18,173.80 577.40,173.20 C578.62,172.60 579.88,176.15 581.10,176.00 C582.32,175.85 583.63,172.15 584.70,172.30 C585.77,172.45 586.43,176.67 587.50,176.90 C588.57,177.13 589.85,175.28 591.10,173.70 C592.35,172.12 593.72,168.92 595.00,167.40 C596.28,165.88 597.53,165.23 598.80,164.60 C600.07,163.97 601.32,164.40 602.60,163.60 C603.88,162.80 605.22,161.23 606.50,159.80 C607.78,158.37 609.03,156.43 610.30,155.00 C611.57,153.57 612.98,152.78 614.10,151.20 C615.22,149.62 616.20,147.00 617.00,145.50 C617.80,144.00 618.12,141.57 618.90,142.20 C619.68,142.83 620.60,146.68 621.70,149.30 C622.80,151.92 624.38,154.40 625.50,157.90 C626.62,161.40 627.43,166.48 628.40,170.30 C629.37,174.12 630.18,177.13 631.30,180.80 C632.42,184.47 634.00,188.97 635.10,192.30 C636.20,195.63 636.95,198.27 637.90,200.80 C638.85,203.33 639.68,206.85 640.80,207.50 C641.92,208.15 643.33,204.85 644.60,204.70 C645.87,204.55 647.12,206.60 648.40,206.60 C649.68,206.60 651.65,205.02 652.30,204.70" fill="none" stroke="#e52329" stroke-width="1.4" stroke-linejoin="round" stroke-linecap="butt"/>
<path d="M541.80,187.40 C542.72,188.08 545.62,191.58 547.30,191.50 C548.98,191.42 550.38,187.58 551.90,186.90 C553.42,186.22 554.58,188.08 556.40,187.40 C558.22,186.72 560.97,182.80 562.80,182.80 C564.63,182.80 565.72,187.17 567.40,187.40 C569.08,187.63 571.23,185.27 572.90,184.20 C574.57,183.13 575.73,181.77 577.40,181.00 C579.07,180.23 581.07,180.43 582.90,179.60 C584.73,178.77 586.87,176.75 588.40,176.00 C589.93,175.25 590.88,175.57 592.10,175.10 C593.32,174.63 594.27,174.32 595.70,173.20 C597.13,172.08 599.07,169.83 600.70,168.40 C602.33,166.97 604.07,166.18 605.50,164.60 C606.93,163.02 607.87,160.50 609.30,158.90 C610.73,157.30 612.67,156.60 614.10,155.00 C615.53,153.40 616.63,149.62 617.90,149.30 C619.17,148.98 620.43,151.18 621.70,153.10 C622.97,155.02 624.38,157.77 625.50,160.80 C626.62,163.83 627.28,167.17 628.40,171.30 C629.52,175.43 631.08,181.32 632.20,185.60 C633.32,189.88 634.15,192.87 635.10,197.00 C636.05,201.13 636.78,208.65 637.90,210.40 C639.02,212.15 640.52,207.67 641.80,207.50 C643.08,207.33 644.33,209.23 645.60,209.40 C646.87,209.57 648.22,208.50 649.40,208.50 C650.58,208.50 652.15,209.25 652.70,209.40" fill="none" stroke="#3db449" stroke-width="1.4" stroke-linejoin="round" stroke-linecap="butt"/>
<line x1="154.00" y1="86.00" x2="154.00" y2="103.00" stroke="#111" stroke-width="1.5"/>
<line x1="283.50" y1="52.00" x2="283.50" y2="106.00" stroke="#111" stroke-width="1.5"/>
<line x1="412.70" y1="77.40" x2="412.70" y2="105.80" stroke="#111" stroke-width="1.5"/>
<line x1="538.00" y1="94.00" x2="538.00" y2="106.40" stroke="#111" stroke-width="1.5"/>
<line x1="152.20" y1="211.50" x2="152.20" y2="224.00" stroke="#111" stroke-width="1.5"/>
<line x1="282.80" y1="208.60" x2="282.80" y2="223.70" stroke="#111" stroke-width="1.5"/>
<line x1="410.90" y1="187.70" x2="410.90" y2="224.00" stroke="#111" stroke-width="1.5"/>
<line x1="536.80" y1="172.00" x2="536.80" y2="223.70" stroke="#111" stroke-width="1.5"/>
<text x="150.80" y="108.40" font-size="7" fill="#333" font-weight="normal" text-anchor="start" stroke="#333" stroke-width="0.22" textLength="28.20" lengthAdjust="spacingAndGlyphs" transform="rotate(-90 150.80 108.40)">10 spikes/s</text>
<text x="148.80" y="228.90" font-size="6.8" fill="#333" font-weight="normal" text-anchor="start" stroke="#333" stroke-width="0.22" textLength="27.70" lengthAdjust="spacingAndGlyphs" transform="rotate(-90 148.80 228.90)">10 spikes/s</text>
<circle cx="213.00" cy="106.50" r="2.9" fill="#b552b3"/>
<circle cx="342.00" cy="107.50" r="2.9" fill="#b552b3"/>
<circle cx="472.00" cy="105.80" r="2.9" fill="#b552b3"/>
<circle cx="597.70" cy="105.80" r="2.9" fill="#b552b3"/>
<circle cx="213.00" cy="223.50" r="2.9" fill="#b552b3"/>
<circle cx="342.50" cy="223.70" r="2.9" fill="#b552b3"/>
<circle cx="471.80" cy="224.00" r="2.9" fill="#b552b3"/>
<circle cx="597.90" cy="223.30" r="2.9" fill="#b552b3"/>
<line x1="238.00" y1="105.20" x2="267.50" y2="105.20" stroke="#2a7fc4" stroke-width="2"/>
<text x="216.00" y="116.30" font-size="6.3" fill="#b552b3" font-weight="bold" text-anchor="middle" textLength="26.00" lengthAdjust="spacingAndGlyphs">check on</text>
<text x="253.20" y="114.60" font-size="6.3" fill="#333" font-weight="normal" text-anchor="middle" stroke="#333" stroke-width="0.22" textLength="19.00" lengthAdjust="spacingAndGlyphs">400ms</text>
<line x1="238.00" y1="222.50" x2="267.50" y2="222.50" stroke="#2a7fc4" stroke-width="2"/>
<text x="216.00" y="231.80" font-size="6.3" fill="#b552b3" font-weight="bold" text-anchor="middle" textLength="26.00" lengthAdjust="spacingAndGlyphs">check on</text>
<text x="253.20" y="231.20" font-size="6.3" fill="#333" font-weight="normal" text-anchor="middle" stroke="#333" stroke-width="0.22" textLength="19.00" lengthAdjust="spacingAndGlyphs">400ms</text>
<text x="122.60" y="256.00" font-size="11.2" fill="#222" font-weight="normal" text-anchor="middle" stroke="#222" stroke-width="0.05" textLength="64.00" lengthAdjust="spacingAndGlyphs">DLPFC PCs</text>
<path d="M140.80,319.50 C142.70,320.35 148.27,323.25 152.20,324.60 C156.13,325.95 159.93,328.22 164.40,327.60 C168.87,326.98 174.95,324.05 179.00,320.90 C183.05,317.75 186.67,313.17 188.70,308.70 C190.73,304.23 191.40,298.57 191.20,294.10 C191.00,289.63 189.95,285.55 187.50,281.90 C185.05,278.25 180.77,274.83 176.50,272.20 C172.23,269.57 166.57,267.12 161.90,266.10 C157.23,265.08 150.73,266.10 148.50,266.10" fill="none" stroke="#5cbd47" stroke-width="2" stroke-linejoin="round" stroke-linecap="butt" stroke-dasharray="3.6,2.2"/>
<path d="M140.40,316.00 C142.37,314.68 147.18,310.23 152.20,308.10 C157.22,305.97 164.00,304.82 170.50,303.20 C177.00,301.58 185.73,300.73 191.20,298.40 C196.67,296.07 200.87,291.93 203.30,289.20 C205.73,286.47 206.60,284.53 205.80,282.00 C205.00,279.47 202.37,276.45 198.50,274.00 C194.63,271.55 188.28,268.82 182.60,267.30 C176.92,265.78 169.47,264.90 164.40,264.90 C159.33,264.90 154.23,266.90 152.20,267.30" fill="none" stroke="#ec2a2a" stroke-width="2" stroke-linejoin="round" stroke-linecap="butt" stroke-dasharray="3.6,2.2"/>
<path d="M127.50,306.40 C128.77,305.25 133.07,300.77 135.10,299.50 C137.13,298.23 139.25,296.97 139.70,298.80 C140.15,300.63 137.62,307.08 137.80,310.50 C137.98,313.92 140.30,317.83 140.80,319.30" fill="none" stroke="#5cbd47" stroke-width="2" stroke-linejoin="round" stroke-linecap="butt" stroke-dasharray="2.5,2"/>
<path d="M140.40,325.40 C139.67,326.17 137.65,328.28 136.00,330.00 C134.35,331.72 131.60,333.37 130.50,335.70 C129.40,338.03 128.88,343.00 129.40,344.00 C129.92,345.00 131.77,342.77 133.60,341.70 C135.43,340.63 139.27,338.28 140.40,337.60" fill="none" stroke="#ec2a2a" stroke-width="1.8" stroke-linejoin="round" stroke-linecap="butt" stroke-dasharray="2.5,2"/>
<path d="M112.90,372.70 C111.37,372.67 107.67,373.25 103.70,372.50 C99.73,371.75 93.57,370.13 89.10,368.20 C84.63,366.27 80.05,363.53 76.90,360.90 C73.75,358.27 71.52,355.65 70.20,352.40 C68.88,349.15 68.08,345.05 69.00,341.40 C69.92,337.75 72.35,333.95 75.70,330.50 C79.05,327.05 84.43,323.25 89.10,320.70 C93.77,318.15 98.42,316.62 103.70,315.20 C108.98,313.78 117.42,312.90 120.80,312.20 C124.18,311.50 123.47,311.20 124.00,311.00" fill="none" stroke="#ec2a2a" stroke-width="1.8" stroke-linejoin="round" stroke-linecap="butt"/>
<path d="M124.00,311.00 L138.20,298.40 L132.80,315.00" fill="none" stroke="#ec2a2a" stroke-width="1.6" stroke-linejoin="round" stroke-linecap="butt"/>
<path d="M119.00,378.60 C117.47,379.30 113.77,381.90 109.80,382.80 C105.83,383.70 100.27,384.40 95.20,384.00 C90.13,383.60 83.87,382.22 79.40,380.40 C74.93,378.58 71.05,375.73 68.40,373.10 C65.75,370.47 64.12,367.25 63.50,364.60 C62.88,361.95 63.27,359.85 64.70,357.20 C66.13,354.55 68.63,351.43 72.10,348.70 C75.57,345.97 80.23,342.93 85.50,340.80 C90.77,338.67 97.62,337.12 103.70,335.90 C109.78,334.68 116.78,334.10 122.00,333.50 C127.22,332.90 132.83,332.50 135.00,332.30" fill="none" stroke="#5cbd47" stroke-width="1.8" stroke-linejoin="round" stroke-linecap="butt"/>
<path d="M131.00,322.00 L129.80,326.50 L125.20,344.00 L136.60,336.40 L140.00,332.00" fill="none" stroke="#5cbd47" stroke-width="1.6" stroke-linejoin="round" stroke-linecap="butt"/>
<circle cx="124.10" cy="310.90" r="4.3" fill="#b04aae"/>
<ellipse cx="133.6" cy="320.8" rx="7" ry="4.6" fill="#1a1a1a" transform="rotate(20 133.6 320.8)"/>
<circle cx="139.30" cy="331.90" r="4.3" fill="#b04aae"/>
<circle cx="145.80" cy="331.90" r="4.3" fill="#b04aae"/>
<line x1="36.50" y1="367.00" x2="36.50" y2="349.60" stroke="#111" stroke-width="1.4"/>
<line x1="36.50" y1="367.00" x2="17.40" y2="361.50" stroke="#111" stroke-width="1.4"/>
<line x1="36.50" y1="367.00" x2="44.70" y2="359.70" stroke="#111" stroke-width="1.4"/>
<text x="36.50" y="346.90" font-size="8.3" fill="#222" font-weight="normal" text-anchor="middle" stroke="#222" stroke-width="0.22" textLength="12.80" lengthAdjust="spacingAndGlyphs">PC4</text>
<text x="10.80" y="362.40" font-size="8.3" fill="#222" font-weight="normal" text-anchor="middle" stroke="#222" stroke-width="0.22" textLength="13.30" lengthAdjust="spacingAndGlyphs">PC3</text>
<text x="46.60" y="359.70" font-size="8.3" fill="#222" font-weight="normal" text-anchor="middle" stroke="#222" stroke-width="0.22" textLength="12.80" lengthAdjust="spacingAndGlyphs">PC1</text>
<text x="125.70" y="408.40" font-size="11.2" fill="#222" font-weight="normal" text-anchor="middle" stroke="#222" stroke-width="0.05" textLength="49.50" lengthAdjust="spacingAndGlyphs">PMd PCs</text>
<path d="M100.20,485.80 C97.88,488.10 91.52,495.95 86.30,499.60 C81.08,503.25 73.72,507.22 68.90,507.70 C64.08,508.18 59.90,506.73 57.40,502.50 C54.90,498.27 52.95,489.52 53.90,482.30 C54.85,475.08 58.18,465.23 63.10,459.20 C68.02,453.17 76.17,448.62 83.40,446.10 C90.63,443.58 99.27,443.37 106.50,444.10 C113.73,444.83 121.50,447.98 126.80,450.50 C132.10,453.02 136.38,457.75 138.30,459.20" fill="none" stroke="#ec2a2a" stroke-width="1.8" stroke-linejoin="round" stroke-linecap="butt"/>
<path d="M90.60,493.90 C88.92,495.25 84.12,500.57 80.50,502.00 C76.88,503.43 72.03,504.33 68.90,502.50 C65.77,500.67 62.90,496.30 61.70,491.00 C60.50,485.70 60.02,476.73 61.70,470.70 C63.38,464.67 66.73,458.65 71.80,454.80 C76.87,450.95 84.87,448.57 92.10,447.60 C99.33,446.63 107.98,447.32 115.20,449.00 C122.42,450.68 132.03,456.25 135.40,457.70" fill="none" stroke="#5cbd47" stroke-width="1.8" stroke-linejoin="round" stroke-linecap="butt"/>
<path d="M139.20,460.60 C142.92,462.53 154.42,469.30 161.50,472.20 C168.58,475.10 174.48,478.00 181.70,478.00 C188.92,478.00 198.78,475.82 204.80,472.20 C210.82,468.58 215.15,462.33 217.80,456.30 C220.45,450.27 221.17,441.78 220.70,436.00 C220.23,430.22 218.62,424.97 215.00,421.60 C211.38,418.23 203.58,415.57 199.00,415.80 C194.42,416.03 190.87,420.35 187.50,423.00 C184.13,425.65 180.25,430.25 178.80,431.70" fill="none" stroke="#5cbd47" stroke-width="1.8" stroke-linejoin="round" stroke-linecap="butt" stroke-dasharray="4,2.4"/>
<path d="M139.20,460.60 C141.95,462.28 149.10,468.77 155.70,470.70 C162.30,472.63 171.10,473.40 178.80,472.20 C186.50,471.00 195.63,467.60 201.90,463.50 C208.17,459.40 213.27,453.62 216.40,447.60 C219.53,441.58 221.18,432.70 220.70,427.40 C220.22,422.10 217.12,417.25 213.50,415.80 C209.88,414.35 203.82,416.53 199.00,418.70 C194.18,420.87 187.00,427.12 184.60,428.80" fill="none" stroke="#ec2a2a" stroke-width="1.8" stroke-linejoin="round" stroke-linecap="butt" stroke-dasharray="4,2.4"/>
<circle cx="139.20" cy="460.60" r="4" fill="#b04aae"/>
<path d="M137.5,457 Q135.5,460.5 137.5,464" fill="none" stroke="#222" stroke-width="0.8" stroke-linejoin="round" stroke-linecap="butt"/>
<line x1="23.30" y1="513.30" x2="23.30" y2="495.50" stroke="#111" stroke-width="1.4"/>
<line x1="23.30" y1="513.30" x2="11.90" y2="503.70" stroke="#111" stroke-width="1.4"/>
<line x1="23.30" y1="513.30" x2="53.00" y2="505.60" stroke="#111" stroke-width="1.4"/>
<text x="24.00" y="492.80" font-size="8.3" fill="#222" font-weight="normal" text-anchor="middle" stroke="#222" stroke-width="0.22" textLength="14.00" lengthAdjust="spacingAndGlyphs">PC3</text>
<text x="8.60" y="503.70" font-size="8.3" fill="#222" font-weight="normal" text-anchor="middle" stroke="#222" stroke-width="0.22" textLength="13.70" lengthAdjust="spacingAndGlyphs">PC2</text>
<text x="43.60" y="505.60" font-size="8.3" fill="#222" font-weight="normal" text-anchor="middle" stroke="#222" stroke-width="0.22" textLength="13.20" lengthAdjust="spacingAndGlyphs">PC1</text>
<text x="452.50" y="256.00" font-size="11.2" fill="#222" font-weight="normal" text-anchor="middle" stroke="#222" stroke-width="0.05" textLength="73.00" lengthAdjust="spacingAndGlyphs">DLPFC dPCA</text>
<text x="318.50" y="271.80" font-size="9.4" fill="#222" font-weight="normal" text-anchor="middle" stroke="#222" stroke-width="0.3" textLength="97.90" lengthAdjust="spacingAndGlyphs">Direction dPC1 (7.1% )</text>
<text x="463.00" y="272.30" font-size="9.4" fill="#222" font-weight="normal" text-anchor="middle" stroke="#222" stroke-width="0.3" textLength="109.60" lengthAdjust="spacingAndGlyphs">Targ Config dPC1 (1.5% )</text>
<text x="602.20" y="272.10" font-size="9.4" fill="#222" font-weight="normal" text-anchor="middle" stroke="#222" stroke-width="0.3" textLength="81.70" lengthAdjust="spacingAndGlyphs">Color dPC1 (0.9% )</text>
<path d="M254.60,302.80 L341.30,302.80" fill="none" stroke="#e8262a" stroke-width="1.4" stroke-linejoin="round" stroke-linecap="butt"/>
<path d="M254.60,302.30 L341.30,302.30" fill="none" stroke="#e8262a" stroke-width="1.4" stroke-linejoin="round" stroke-linecap="butt" stroke-dasharray="3,2"/>
<path d="M340.00,302.80 C340.83,303.08 343.50,303.47 345.00,304.50 C346.50,305.53 347.67,307.25 349.00,309.00 C350.33,310.75 351.67,313.17 353.00,315.00 C354.33,316.83 355.67,318.75 357.00,320.00 C358.33,321.25 359.83,322.12 361.00,322.50 C362.17,322.88 363.02,322.60 364.00,322.30 C364.98,322.00 366.42,320.97 366.90,320.70" fill="none" stroke="#e8262a" stroke-width="1.4" stroke-linejoin="round" stroke-linecap="butt"/>
<path d="M340.00,302.50 C340.83,302.25 343.50,301.92 345.00,301.00 C346.50,300.08 347.67,298.83 349.00,297.00 C350.33,295.17 351.67,292.00 353.00,290.00 C354.33,288.00 355.67,286.08 357.00,285.00 C358.33,283.92 359.83,283.67 361.00,283.50 C362.17,283.33 363.02,283.67 364.00,284.00 C364.98,284.33 366.42,285.25 366.90,285.50" fill="none" stroke="#e8262a" stroke-width="1.4" stroke-linejoin="round" stroke-linecap="butt" stroke-dasharray="3,2"/>
<path d="M395.90,304.00 C397.42,303.97 402.15,303.92 405.00,303.80 C407.85,303.68 409.67,303.62 413.00,303.30 C416.33,302.98 418.83,302.20 425.00,301.90 C431.17,301.60 441.98,301.67 450.00,301.50 C458.02,301.33 467.77,301.48 473.10,300.90 C478.43,300.32 479.03,298.75 482.00,298.00 C484.97,297.25 487.90,296.23 490.90,296.40 C493.90,296.57 497.03,297.98 500.00,299.00 C502.97,300.02 507.25,301.92 508.70,302.50" fill="none" stroke="#1f8a70" stroke-width="1.1" stroke-linejoin="round" stroke-linecap="butt"/>
<path d="M395.90,304.00 C397.42,303.97 402.15,303.92 405.00,303.80 C407.85,303.68 409.67,303.62 413.00,303.30 C416.33,302.98 418.83,302.20 425.00,301.90 C431.17,301.60 441.98,301.67 450.00,301.50 C458.02,301.33 467.77,301.48 473.10,300.90 C478.43,300.32 479.03,298.75 482.00,298.00 C484.97,297.25 487.90,296.23 490.90,296.40 C493.90,296.57 497.03,297.98 500.00,299.00 C502.97,300.02 507.25,301.92 508.70,302.50" fill="none" stroke="#e8262a" stroke-width="1.2" stroke-linejoin="round" stroke-linecap="butt" stroke-dasharray="3.5,2.5"/>
<path d="M395.90,304.20 C397.42,304.22 402.15,304.22 405.00,304.30 C407.85,304.38 409.67,304.48 413.00,304.70 C416.33,304.92 418.83,305.45 425.00,305.60 C431.17,305.75 441.98,305.67 450.00,305.60 C458.02,305.53 467.77,304.87 473.10,305.20 C478.43,305.53 479.03,306.88 482.00,307.60 C484.97,308.32 487.90,309.53 490.90,309.50 C493.90,309.47 497.03,308.32 500.00,307.40 C502.97,306.48 507.25,304.57 508.70,304.00" fill="none" stroke="#e8262a" stroke-width="1.3" stroke-linejoin="round" stroke-linecap="butt"/>
<path d="M600.00,304.40 C602.67,304.40 612.33,303.72 616.00,304.40 C619.67,305.08 620.02,307.50 622.00,308.50 C623.98,309.50 625.23,310.48 627.90,310.40 C630.57,310.32 634.53,308.83 638.00,308.00 C641.47,307.17 646.92,305.83 648.70,305.40" fill="none" stroke="#1f8a70" stroke-width="1.3" stroke-linejoin="round" stroke-linecap="butt"/>
<path d="M536.50,304.60 L616.00,304.60" fill="none" stroke="#1f8a70" stroke-width="1.0" stroke-linejoin="round" stroke-linecap="butt"/>
<path d="M600.00,304.20 C602.67,304.20 612.33,304.90 616.00,304.20 C619.67,303.50 620.02,300.98 622.00,300.00 C623.98,299.02 625.23,298.22 627.90,298.30 C630.57,298.38 634.53,299.63 638.00,300.50 C641.47,301.37 646.92,303.00 648.70,303.50" fill="none" stroke="#e8262a" stroke-width="1.3" stroke-linejoin="round" stroke-linecap="butt"/>
<path d="M536.50,304.20 L617.00,304.20" fill="none" stroke="#e8262a" stroke-width="1.3" stroke-linejoin="round" stroke-linecap="butt"/>
<line x1="248.30" y1="321.00" x2="248.30" y2="338.40" stroke="#111" stroke-width="1.3"/>
<text x="245.00" y="337.40" font-size="5.6" fill="#333" font-weight="normal" text-anchor="start" stroke="#333" stroke-width="0.22" textLength="15.50" lengthAdjust="spacingAndGlyphs" transform="rotate(-90 245.00 337.40)">10 Hz</text>
<text x="443.00" y="403.70" font-size="11.2" fill="#222" font-weight="normal" text-anchor="middle" stroke="#222" stroke-width="0.05" textLength="58.70" lengthAdjust="spacingAndGlyphs">PMd dPCA</text>
<text x="323.80" y="420.10" font-size="9.4" fill="#222" font-weight="normal" text-anchor="middle" stroke="#222" stroke-width="0.3" textLength="103.80" lengthAdjust="spacingAndGlyphs">Direction dPC1 (10.6% )</text>
<text x="460.60" y="421.30" font-size="9.4" fill="#222" font-weight="normal" text-anchor="middle" stroke="#222" stroke-width="0.3" textLength="109.50" lengthAdjust="spacingAndGlyphs">Targ Config dPC1 (0.2% )</text>
<text x="605.00" y="421.30" font-size="9.4" fill="#222" font-weight="normal" text-anchor="middle" stroke="#222" stroke-width="0.3" textLength="81.40" lengthAdjust="spacingAndGlyphs">Color dPC1 (0.2% )</text>
<path d="M254.70,458.10 L342.60,458.10" fill="none" stroke="#e8262a" stroke-width="1.5" stroke-linejoin="round" stroke-linecap="butt"/>
<path d="M341.00,458.10 C341.83,457.75 344.50,457.10 346.00,456.00 C347.50,454.90 348.83,452.87 350.00,451.50 C351.17,450.13 351.67,449.22 353.00,447.80 C354.33,446.38 356.12,444.07 358.00,443.00 C359.88,441.93 362.63,441.63 364.30,441.40 C365.97,441.17 366.67,441.28 368.00,441.60 C369.33,441.92 371.58,443.02 372.30,443.30" fill="none" stroke="#e8262a" stroke-width="1.4" stroke-linejoin="round" stroke-linecap="butt"/>
<path d="M341.00,458.40 C341.83,458.75 344.40,459.40 346.00,460.50 C347.60,461.60 349.10,463.50 350.60,465.00 C352.10,466.50 353.48,468.17 355.00,469.50 C356.52,470.83 358.03,472.25 359.70,473.00 C361.37,473.75 363.10,474.00 365.00,474.00 C366.90,474.00 370.08,473.17 371.10,473.00" fill="none" stroke="#e8262a" stroke-width="1.4" stroke-linejoin="round" stroke-linecap="butt" stroke-dasharray="3,2.2"/>
<path d="M392.80,459.80 L485.00,459.80" fill="none" stroke="#1f8a70" stroke-width="1.2" stroke-linejoin="round" stroke-linecap="butt" stroke-dasharray="2.5,3"/>
<path d="M392.80,458.90 L485.00,458.90" fill="none" stroke="#e8262a" stroke-width="1.4" stroke-linejoin="round" stroke-linecap="butt"/>
<path d="M480.00,458.90 C480.83,458.90 483.00,459.18 485.00,458.90 C487.00,458.62 489.50,457.53 492.00,457.20 C494.50,456.87 497.03,456.62 500.00,456.90 C502.97,457.18 508.17,458.57 509.80,458.90" fill="none" stroke="#e8262a" stroke-width="1.1" stroke-linejoin="round" stroke-linecap="butt"/>
<path d="M480.00,459.20 C480.83,459.20 483.00,458.97 485.00,459.20 C487.00,459.43 489.50,460.33 492.00,460.60 C494.50,460.87 497.03,461.07 500.00,460.80 C502.97,460.53 508.17,459.30 509.80,459.00" fill="none" stroke="#1f8a70" stroke-width="1.1" stroke-linejoin="round" stroke-linecap="butt"/>
<path d="M531.40,458.70 L620.00,458.70" fill="none" stroke="#1f8a70" stroke-width="1.1" stroke-linejoin="round" stroke-linecap="butt"/>
<path d="M531.40,459.20 L620.00,459.20" fill="none" stroke="#e8262a" stroke-width="1.1" stroke-linejoin="round" stroke-linecap="butt"/>
<path d="M615.00,458.90 C615.83,458.87 618.00,459.05 620.00,458.70 C622.00,458.35 624.53,457.20 627.00,456.80 C629.47,456.40 632.30,456.22 634.80,456.30 C637.30,456.38 639.68,456.87 642.00,457.30 C644.32,457.73 647.58,458.63 648.70,458.90" fill="none" stroke="#1f8a70" stroke-width="1.2" stroke-linejoin="round" stroke-linecap="butt"/>
<path d="M615.00,459.20 C615.83,459.20 618.00,458.87 620.00,459.20 C622.00,459.53 624.53,460.77 627.00,461.20 C629.47,461.63 632.30,461.90 634.80,461.80 C637.30,461.70 639.68,461.07 642.00,460.60 C644.32,460.13 647.58,459.27 648.70,459.00" fill="none" stroke="#e8262a" stroke-width="1.2" stroke-linejoin="round" stroke-linecap="butt"/>
<line x1="249.70" y1="471.80" x2="249.70" y2="488.50" stroke="#111" stroke-width="1.3"/>
<text x="245.50" y="491.00" font-size="5.6" fill="#333" font-weight="normal" text-anchor="start" stroke="#333" stroke-width="0.22" textLength="19.00" lengthAdjust="spacingAndGlyphs" transform="rotate(-90 245.50 491.00)">200 Hz</text>
<circle cx="263.50" cy="342.40" r="2.7" fill="#111"/>
<text x="270.50" y="353.80" font-size="7.4" fill="#111" font-weight="bold" text-anchor="middle" textLength="38.30" lengthAdjust="spacingAndGlyphs">targets on</text>
<circle cx="327.00" cy="342.40" r="2.6" fill="#b552b3"/>
<text x="329.00" y="353.80" font-size="7.4" fill="#b552b3" font-weight="bold" text-anchor="middle" textLength="34.00" lengthAdjust="spacingAndGlyphs">check on</text>
<line x1="349.80" y1="342.40" x2="368.80" y2="342.40" stroke="#2a7fc4" stroke-width="1.6"/>
<text x="361.30" y="353.00" font-size="5.8" fill="#333" font-weight="normal" text-anchor="middle" stroke="#333" stroke-width="0.05" textLength="19.50" lengthAdjust="spacingAndGlyphs">200ms</text>
<circle cx="263.50" cy="497.10" r="2.7" fill="#111"/>
<text x="270.50" y="508.30" font-size="7.4" fill="#111" font-weight="bold" text-anchor="middle" textLength="38.30" lengthAdjust="spacingAndGlyphs">targets on</text>
<circle cx="329.80" cy="497.10" r="2.6" fill="#b552b3"/>
<text x="329.00" y="508.30" font-size="7.4" fill="#b552b3" font-weight="bold" text-anchor="middle" textLength="34.00" lengthAdjust="spacingAndGlyphs">check on</text>
<line x1="349.80" y1="497.10" x2="368.80" y2="497.10" stroke="#2a7fc4" stroke-width="1.6"/>
<text x="361.30" y="507.50" font-size="5.8" fill="#333" font-weight="normal" text-anchor="middle" stroke="#333" stroke-width="0.05" textLength="19.50" lengthAdjust="spacingAndGlyphs">200ms</text>
<circle cx="405.00" cy="342.60" r="2.7" fill="#111"/>
<circle cx="544.70" cy="343.00" r="2.7" fill="#111"/>
<circle cx="401.50" cy="496.80" r="2.7" fill="#111"/>
<circle cx="541.80" cy="496.80" r="2.7" fill="#111"/>
<circle cx="468.00" cy="343.00" r="2.6" fill="#b552b3"/>
<circle cx="609.20" cy="343.50" r="2.6" fill="#b552b3"/>
<circle cx="467.50" cy="497.00" r="2.6" fill="#b552b3"/>
<circle cx="606.00" cy="497.00" r="2.6" fill="#b552b3"/>
<text x="104.40" y="535.10" font-size="10.5" fill="#f59d2e" font-weight="bold" text-anchor="middle" textLength="108.30" lengthAdjust="spacingAndGlyphs">Direction Accuracy</text>
<rect x="29.30" y="635.40" width="8.43" height="16.20" fill="#1c8ea0"/>
<rect x="37.73" y="639.20" width="8.43" height="6.60" fill="#c57fc0"/>
<rect x="37.73" y="645.80" width="8.43" height="5.80" fill="#7a5aa1"/>
<rect x="46.16" y="640.70" width="8.43" height="10.90" fill="#1c8ea0"/>
<rect x="54.59" y="639.20" width="8.43" height="6.60" fill="#c57fc0"/>
<rect x="54.59" y="645.80" width="8.43" height="5.80" fill="#7a5aa1"/>
<rect x="63.02" y="635.40" width="8.43" height="16.20" fill="#1c8ea0"/>
<rect x="71.45" y="627.00" width="8.43" height="13.40" fill="#c57fc0"/>
<rect x="71.45" y="640.40" width="8.43" height="11.20" fill="#7a5aa1"/>
<rect x="79.88" y="624.00" width="8.43" height="27.60" fill="#1c8ea0"/>
<rect x="88.31" y="635.40" width="8.43" height="16.20" fill="#1c8ea0"/>
<rect x="96.74" y="614.40" width="8.43" height="9.30" fill="#c57fc0"/>
<rect x="96.74" y="623.70" width="8.43" height="27.90" fill="#7a5aa1"/>
<rect x="105.17" y="612.60" width="8.43" height="14.20" fill="#1c8ea0"/>
<rect x="105.17" y="626.80" width="8.43" height="24.80" fill="#7a5aa1"/>
<rect x="113.60" y="638.90" width="8.43" height="12.70" fill="#7a5aa1"/>
<rect x="122.03" y="590.00" width="8.43" height="38.90" fill="#c57fc0"/>
<rect x="122.03" y="628.90" width="8.43" height="22.70" fill="#7a5aa1"/>
<rect x="130.46" y="627.00" width="8.43" height="1.90" fill="#c57fc0"/>
<rect x="130.46" y="628.90" width="8.43" height="22.70" fill="#7a5aa1"/>
<rect x="138.89" y="607.30" width="8.43" height="19.70" fill="#1c8ea0"/>
<rect x="138.89" y="627.00" width="8.43" height="24.60" fill="#7a5aa1"/>
<rect x="147.32" y="590.00" width="8.43" height="33.70" fill="#c57fc0"/>
<rect x="147.32" y="623.70" width="8.43" height="27.90" fill="#7a5aa1"/>
<rect x="155.75" y="590.00" width="8.43" height="50.20" fill="#c57fc0"/>
<rect x="155.75" y="640.20" width="8.43" height="11.40" fill="#7a5aa1"/>
<rect x="164.18" y="553.00" width="8.43" height="48.00" fill="#c57fc0"/>
<rect x="164.18" y="601.00" width="8.43" height="50.60" fill="#7a5aa1"/>
<rect x="172.61" y="541.00" width="8.43" height="61.20" fill="#1c8ea0"/>
<rect x="172.61" y="602.20" width="8.43" height="49.40" fill="#7a5aa1"/>
<rect x="181.04" y="541.00" width="8.43" height="21.70" fill="#c57fc0"/>
<rect x="181.04" y="562.70" width="8.43" height="88.90" fill="#7a5aa1"/>
<rect x="29.30" y="635.40" width="8.43" height="16.20" fill="none" stroke="#333" stroke-width="0.5" stroke-opacity="0.8"/>
<rect x="37.73" y="639.20" width="8.43" height="12.40" fill="none" stroke="#333" stroke-width="0.5" stroke-opacity="0.8"/>
<line x1="37.73" y1="645.80" x2="46.16" y2="645.80" stroke="#333" stroke-width="0.5" stroke-opacity="0.8"/>
<rect x="46.16" y="640.70" width="8.43" height="10.90" fill="none" stroke="#333" stroke-width="0.5" stroke-opacity="0.8"/>
<rect x="54.59" y="639.20" width="8.43" height="12.40" fill="none" stroke="#333" stroke-width="0.5" stroke-opacity="0.8"/>
<line x1="54.59" y1="645.80" x2="63.02" y2="645.80" stroke="#333" stroke-width="0.5" stroke-opacity="0.8"/>
<rect x="63.02" y="635.40" width="8.43" height="16.20" fill="none" stroke="#333" stroke-width="0.5" stroke-opacity="0.8"/>
<rect x="71.45" y="627.00" width="8.43" height="24.60" fill="none" stroke="#333" stroke-width="0.5" stroke-opacity="0.8"/>
<line x1="71.45" y1="640.40" x2="79.88" y2="640.40" stroke="#333" stroke-width="0.5" stroke-opacity="0.8"/>
<rect x="79.88" y="624.00" width="8.43" height="27.60" fill="none" stroke="#333" stroke-width="0.5" stroke-opacity="0.8"/>
<rect x="88.31" y="635.40" width="8.43" height="16.20" fill="none" stroke="#333" stroke-width="0.5" stroke-opacity="0.8"/>
<rect x="96.74" y="614.40" width="8.43" height="37.20" fill="none" stroke="#333" stroke-width="0.5" stroke-opacity="0.8"/>
<line x1="96.74" y1="623.70" x2="105.17" y2="623.70" stroke="#333" stroke-width="0.5" stroke-opacity="0.8"/>
<rect x="105.17" y="612.60" width="8.43" height="39.00" fill="none" stroke="#333" stroke-width="0.5" stroke-opacity="0.8"/>
<line x1="105.17" y1="626.80" x2="113.60" y2="626.80" stroke="#333" stroke-width="0.5" stroke-opacity="0.8"/>
<rect x="113.60" y="638.90" width="8.43" height="12.70" fill="none" stroke="#333" stroke-width="0.5" stroke-opacity="0.8"/>
<rect x="122.03" y="590.00" width="8.43" height="61.60" fill="none" stroke="#333" stroke-width="0.5" stroke-opacity="0.8"/>
<line x1="122.03" y1="628.90" x2="130.46" y2="628.90" stroke="#333" stroke-width="0.5" stroke-opacity="0.8"/>
<rect x="130.46" y="627.00" width="8.43" height="24.60" fill="none" stroke="#333" stroke-width="0.5" stroke-opacity="0.8"/>
<line x1="130.46" y1="628.90" x2="138.89" y2="628.90" stroke="#333" stroke-width="0.5" stroke-opacity="0.8"/>
<rect x="138.89" y="607.30" width="8.43" height="44.30" fill="none" stroke="#333" stroke-width="0.5" stroke-opacity="0.8"/>
<line x1="138.89" y1="627.00" x2="147.32" y2="627.00" stroke="#333" stroke-width="0.5" stroke-opacity="0.8"/>
<rect x="147.32" y="590.00" width="8.43" height="61.60" fill="none" stroke="#333" stroke-width="0.5" stroke-opacity="0.8"/>
<line x1="147.32" y1="623.70" x2="155.75" y2="623.70" stroke="#333" stroke-width="0.5" stroke-opacity="0.8"/>
<rect x="155.75" y="590.00" width="8.43" height="61.60" fill="none" stroke="#333" stroke-width="0.5" stroke-opacity="0.8"/>
<line x1="155.75" y1="640.20" x2="164.18" y2="640.20" stroke="#333" stroke-width="0.5" stroke-opacity="0.8"/>
<rect x="164.18" y="553.00" width="8.43" height="98.60" fill="none" stroke="#333" stroke-width="0.5" stroke-opacity="0.8"/>
<line x1="164.18" y1="601.00" x2="172.61" y2="601.00" stroke="#333" stroke-width="0.5" stroke-opacity="0.8"/>
<rect x="172.61" y="541.00" width="8.43" height="110.60" fill="none" stroke="#333" stroke-width="0.5" stroke-opacity="0.8"/>
<line x1="172.61" y1="602.20" x2="181.04" y2="602.20" stroke="#333" stroke-width="0.5" stroke-opacity="0.8"/>
<rect x="181.04" y="541.00" width="8.43" height="110.60" fill="none" stroke="#333" stroke-width="0.5" stroke-opacity="0.8"/>
<line x1="181.04" y1="562.70" x2="189.47" y2="562.70" stroke="#333" stroke-width="0.5" stroke-opacity="0.8"/>
<line x1="23.50" y1="541.30" x2="23.50" y2="651.30" stroke="#1c8ea0" stroke-width="1.1"/>
<line x1="20.20" y1="541.30" x2="24.05" y2="541.30" stroke="#1c8ea0" stroke-width="1.1"/>
<line x1="20.20" y1="651.30" x2="24.05" y2="651.30" stroke="#1c8ea0" stroke-width="1.1"/>
<text x="17.30" y="544.60" font-size="9" fill="#2794aa" font-weight="normal" text-anchor="end" stroke="#2794aa" stroke-width="0.06">0.20</text>
<text x="17.30" y="654.60" font-size="9" fill="#2794aa" font-weight="normal" text-anchor="end" stroke="#2794aa" stroke-width="0.06">0</text>
<line x1="199.00" y1="553.80" x2="199.00" y2="651.70" stroke="#a840a8" stroke-width="1.1"/>
<line x1="198.45" y1="553.80" x2="202.80" y2="553.80" stroke="#a840a8" stroke-width="1.1"/>
<line x1="198.45" y1="651.70" x2="202.80" y2="651.70" stroke="#a840a8" stroke-width="1.1"/>
<text x="205.20" y="557.10" font-size="9" fill="#a94aa9" font-weight="normal" text-anchor="start" stroke="#a94aa9" stroke-width="0.06">0.14</text>
<text x="207.50" y="655.00" font-size="9" fill="#a94aa9" font-weight="normal" text-anchor="start" stroke="#a94aa9" stroke-width="0.06">0</text>
<path d="M41.60,659.00 L41.60,655.00 L194.00,655.00 L194.00,659.00" fill="none" stroke="#444" stroke-width="1.1"/>
<text x="41.60" y="670.50" font-size="9" fill="#3a3a3a" font-weight="normal" text-anchor="middle">0.6</text>
<text x="194.00" y="670.50" font-size="9" fill="#3a3a3a" font-weight="normal" text-anchor="middle">1.0</text>
<text x="112.00" y="670.60" font-size="11" fill="#111" font-weight="normal" text-anchor="middle" stroke="#111" stroke-width="0.05" textLength="48.00" lengthAdjust="spacingAndGlyphs">Accuracy</text>
<text x="46.90" y="560.60" font-size="11" fill="#2794aa" font-weight="normal" text-anchor="start" stroke="#2794aa" stroke-width="0.05" textLength="37.70" lengthAdjust="spacingAndGlyphs">DLPFC</text>
<text x="46.90" y="575.40" font-size="11" fill="#a94aa9" font-weight="normal" text-anchor="start" stroke="#a94aa9" stroke-width="0.05" textLength="23.50" lengthAdjust="spacingAndGlyphs">PMd</text>
<text x="14.20" y="622.80" font-size="11" fill="#111" font-weight="normal" text-anchor="start" stroke="#111" stroke-width="0.05" textLength="61.00" lengthAdjust="spacingAndGlyphs" transform="rotate(-90 14.20 622.80)">Prop of bins</text>
<text x="331.30" y="534.80" font-size="10.5" fill="#8c1f26" font-weight="bold" text-anchor="middle" textLength="87.60" lengthAdjust="spacingAndGlyphs">Color Accuracy</text>
<rect x="249.90" y="539.70" width="8.43" height="63.10" fill="#c57fc0"/>
<rect x="249.90" y="602.80" width="8.43" height="47.40" fill="#7a5aa1"/>
<rect x="258.33" y="539.70" width="8.43" height="110.50" fill="#7a5aa1"/>
<rect x="266.76" y="602.80" width="8.43" height="47.40" fill="#1c8ea0"/>
<rect x="275.19" y="587.10" width="8.43" height="63.10" fill="#1c8ea0"/>
<rect x="283.62" y="634.50" width="8.43" height="15.70" fill="#1c8ea0"/>
<rect x="292.05" y="602.80" width="8.43" height="47.40" fill="#1c8ea0"/>
<rect x="300.48" y="587.10" width="8.43" height="63.10" fill="#1c8ea0"/>
<rect x="308.91" y="634.50" width="8.43" height="15.70" fill="#1c8ea0"/>
<rect x="317.34" y="587.10" width="8.43" height="63.10" fill="#1c8ea0"/>
<rect x="325.77" y="602.80" width="8.43" height="47.40" fill="#1c8ea0"/>
<rect x="334.20" y="602.80" width="8.43" height="47.40" fill="#1c8ea0"/>
<rect x="342.63" y="587.10" width="8.43" height="63.10" fill="#1c8ea0"/>
<rect x="351.06" y="618.90" width="8.43" height="31.30" fill="#1c8ea0"/>
<rect x="359.49" y="618.90" width="8.43" height="31.30" fill="#1c8ea0"/>
<rect x="367.92" y="587.10" width="8.43" height="63.10" fill="#1c8ea0"/>
<rect x="376.35" y="602.80" width="8.43" height="47.40" fill="#1c8ea0"/>
<rect x="384.78" y="634.50" width="8.43" height="15.70" fill="#1c8ea0"/>
<rect x="401.64" y="618.90" width="8.43" height="31.30" fill="#1c8ea0"/>
<rect x="249.90" y="539.70" width="8.43" height="110.50" fill="none" stroke="#333" stroke-width="0.5" stroke-opacity="0.8"/>
<line x1="249.90" y1="602.80" x2="258.33" y2="602.80" stroke="#333" stroke-width="0.5" stroke-opacity="0.8"/>
<rect x="258.33" y="539.70" width="8.43" height="110.50" fill="none" stroke="#333" stroke-width="0.5" stroke-opacity="0.8"/>
<rect x="266.76" y="602.80" width="8.43" height="47.40" fill="none" stroke="#333" stroke-width="0.5" stroke-opacity="0.8"/>
<rect x="275.19" y="587.10" width="8.43" height="63.10" fill="none" stroke="#333" stroke-width="0.5" stroke-opacity="0.8"/>
<rect x="283.62" y="634.50" width="8.43" height="15.70" fill="none" stroke="#333" stroke-width="0.5" stroke-opacity="0.8"/>
<rect x="292.05" y="602.80" width="8.43" height="47.40" fill="none" stroke="#333" stroke-width="0.5" stroke-opacity="0.8"/>
<rect x="300.48" y="587.10" width="8.43" height="63.10" fill="none" stroke="#333" stroke-width="0.5" stroke-opacity="0.8"/>
<rect x="308.91" y="634.50" width="8.43" height="15.70" fill="none" stroke="#333" stroke-width="0.5" stroke-opacity="0.8"/>
<rect x="317.34" y="587.10" width="8.43" height="63.10" fill="none" stroke="#333" stroke-width="0.5" stroke-opacity="0.8"/>
<rect x="325.77" y="602.80" width="8.43" height="47.40" fill="none" stroke="#333" stroke-width="0.5" stroke-opacity="0.8"/>
<rect x="334.20" y="602.80" width="8.43" height="47.40" fill="none" stroke="#333" stroke-width="0.5" stroke-opacity="0.8"/>
<rect x="342.63" y="587.10" width="8.43" height="63.10" fill="none" stroke="#333" stroke-width="0.5" stroke-opacity="0.8"/>
<rect x="351.06" y="618.90" width="8.43" height="31.30" fill="none" stroke="#333" stroke-width="0.5" stroke-opacity="0.8"/>
<rect x="359.49" y="618.90" width="8.43" height="31.30" fill="none" stroke="#333" stroke-width="0.5" stroke-opacity="0.8"/>
<rect x="367.92" y="587.10" width="8.43" height="63.10" fill="none" stroke="#333" stroke-width="0.5" stroke-opacity="0.8"/>
<rect x="376.35" y="602.80" width="8.43" height="47.40" fill="none" stroke="#333" stroke-width="0.5" stroke-opacity="0.8"/>
<rect x="384.78" y="634.50" width="8.43" height="15.70" fill="none" stroke="#333" stroke-width="0.5" stroke-opacity="0.8"/>
<rect x="401.64" y="618.90" width="8.43" height="31.30" fill="none" stroke="#333" stroke-width="0.5" stroke-opacity="0.8"/>
<line x1="245.40" y1="540.20" x2="245.40" y2="650.40" stroke="#1c8ea0" stroke-width="1.1"/>
<line x1="242.10" y1="540.20" x2="245.95" y2="540.20" stroke="#1c8ea0" stroke-width="1.1"/>
<line x1="242.10" y1="650.40" x2="245.95" y2="650.40" stroke="#1c8ea0" stroke-width="1.1"/>
<text x="239.20" y="543.50" font-size="9" fill="#2794aa" font-weight="normal" text-anchor="end" stroke="#2794aa" stroke-width="0.06">0.13</text>
<text x="239.20" y="653.70" font-size="9" fill="#2794aa" font-weight="normal" text-anchor="end" stroke="#2794aa" stroke-width="0.06">0</text>
<line x1="416.60" y1="547.40" x2="416.60" y2="650.20" stroke="#a840a8" stroke-width="1.1"/>
<line x1="416.05" y1="547.40" x2="420.40" y2="547.40" stroke="#a840a8" stroke-width="1.1"/>
<line x1="416.05" y1="650.20" x2="420.40" y2="650.20" stroke="#a840a8" stroke-width="1.1"/>
<text x="422.80" y="550.70" font-size="9" fill="#a94aa9" font-weight="normal" text-anchor="start" stroke="#a94aa9" stroke-width="0.06">0.18</text>
<text x="425.10" y="653.50" font-size="9" fill="#a94aa9" font-weight="normal" text-anchor="start" stroke="#a94aa9" stroke-width="0.06">0</text>
<path d="M258.80,658.20 L258.80,654.20 L405.90,654.20 L405.90,658.20" fill="none" stroke="#444" stroke-width="1.1"/>
<text x="258.80" y="669.00" font-size="9" fill="#3a3a3a" font-weight="normal" text-anchor="middle">0.55</text>
<text x="405.90" y="669.00" font-size="9" fill="#3a3a3a" font-weight="normal" text-anchor="middle">0.72</text>
<text x="556.60" y="534.00" font-size="10.5" fill="#e8242b" font-weight="bold" text-anchor="middle" textLength="174.30" lengthAdjust="spacingAndGlyphs">Target Configuration Accuracy</text>
<rect x="472.20" y="544.30" width="8.42" height="27.70" fill="#c57fc0"/>
<rect x="472.20" y="572.00" width="8.42" height="82.20" fill="#7a5aa1"/>
<rect x="480.62" y="618.00" width="8.42" height="36.20" fill="#7a5aa1"/>
<rect x="489.04" y="599.20" width="8.42" height="28.10" fill="#c57fc0"/>
<rect x="489.04" y="627.30" width="8.42" height="26.90" fill="#7a5aa1"/>
<rect x="497.46" y="553.30" width="8.42" height="83.00" fill="#1c8ea0"/>
<rect x="497.46" y="636.30" width="8.42" height="17.90" fill="#7a5aa1"/>
<rect x="505.88" y="581.40" width="8.42" height="72.80" fill="#1c8ea0"/>
<rect x="514.30" y="571.90" width="8.42" height="82.30" fill="#1c8ea0"/>
<rect x="522.72" y="608.70" width="8.42" height="45.50" fill="#1c8ea0"/>
<rect x="531.14" y="544.30" width="8.42" height="109.90" fill="#1c8ea0"/>
<rect x="539.56" y="599.50" width="8.42" height="54.70" fill="#1c8ea0"/>
<rect x="547.98" y="608.70" width="8.42" height="45.50" fill="#1c8ea0"/>
<rect x="556.40" y="645.80" width="8.42" height="8.40" fill="#1c8ea0"/>
<rect x="564.82" y="636.30" width="8.42" height="17.90" fill="#1c8ea0"/>
<rect x="573.24" y="645.80" width="8.42" height="8.40" fill="#1c8ea0"/>
<rect x="581.66" y="645.80" width="8.42" height="8.40" fill="#1c8ea0"/>
<rect x="590.08" y="636.30" width="8.42" height="17.90" fill="#1c8ea0"/>
<rect x="623.76" y="645.80" width="8.42" height="8.40" fill="#1c8ea0"/>
<rect x="472.20" y="544.30" width="8.42" height="109.90" fill="none" stroke="#333" stroke-width="0.5" stroke-opacity="0.8"/>
<line x1="472.20" y1="572.00" x2="480.62" y2="572.00" stroke="#333" stroke-width="0.5" stroke-opacity="0.8"/>
<rect x="480.62" y="618.00" width="8.42" height="36.20" fill="none" stroke="#333" stroke-width="0.5" stroke-opacity="0.8"/>
<rect x="489.04" y="599.20" width="8.42" height="55.00" fill="none" stroke="#333" stroke-width="0.5" stroke-opacity="0.8"/>
<line x1="489.04" y1="627.30" x2="497.46" y2="627.30" stroke="#333" stroke-width="0.5" stroke-opacity="0.8"/>
<rect x="497.46" y="553.30" width="8.42" height="100.90" fill="none" stroke="#333" stroke-width="0.5" stroke-opacity="0.8"/>
<line x1="497.46" y1="636.30" x2="505.88" y2="636.30" stroke="#333" stroke-width="0.5" stroke-opacity="0.8"/>
<rect x="505.88" y="581.40" width="8.42" height="72.80" fill="none" stroke="#333" stroke-width="0.5" stroke-opacity="0.8"/>
<rect x="514.30" y="571.90" width="8.42" height="82.30" fill="none" stroke="#333" stroke-width="0.5" stroke-opacity="0.8"/>
<rect x="522.72" y="608.70" width="8.42" height="45.50" fill="none" stroke="#333" stroke-width="0.5" stroke-opacity="0.8"/>
<rect x="531.14" y="544.30" width="8.42" height="109.90" fill="none" stroke="#333" stroke-width="0.5" stroke-opacity="0.8"/>
<rect x="539.56" y="599.50" width="8.42" height="54.70" fill="none" stroke="#333" stroke-width="0.5" stroke-opacity="0.8"/>
<rect x="547.98" y="608.70" width="8.42" height="45.50" fill="none" stroke="#333" stroke-width="0.5" stroke-opacity="0.8"/>
<rect x="556.40" y="645.80" width="8.42" height="8.40" fill="none" stroke="#333" stroke-width="0.5" stroke-opacity="0.8"/>
<rect x="564.82" y="636.30" width="8.42" height="17.90" fill="none" stroke="#333" stroke-width="0.5" stroke-opacity="0.8"/>
<rect x="573.24" y="645.80" width="8.42" height="8.40" fill="none" stroke="#333" stroke-width="0.5" stroke-opacity="0.8"/>
<rect x="581.66" y="645.80" width="8.42" height="8.40" fill="none" stroke="#333" stroke-width="0.5" stroke-opacity="0.8"/>
<rect x="590.08" y="636.30" width="8.42" height="17.90" fill="none" stroke="#333" stroke-width="0.5" stroke-opacity="0.8"/>
<rect x="623.76" y="645.80" width="8.42" height="8.40" fill="none" stroke="#333" stroke-width="0.5" stroke-opacity="0.8"/>
<line x1="466.80" y1="546.10" x2="466.80" y2="657.00" stroke="#1c8ea0" stroke-width="1.1"/>
<line x1="463.50" y1="546.10" x2="467.35" y2="546.10" stroke="#1c8ea0" stroke-width="1.1"/>
<line x1="463.50" y1="657.00" x2="467.35" y2="657.00" stroke="#1c8ea0" stroke-width="1.1"/>
<text x="460.60" y="549.40" font-size="9" fill="#2794aa" font-weight="normal" text-anchor="end" stroke="#2794aa" stroke-width="0.06">0.15</text>
<text x="460.60" y="660.30" font-size="9" fill="#2794aa" font-weight="normal" text-anchor="end" stroke="#2794aa" stroke-width="0.06">0</text>
<line x1="637.50" y1="542.50" x2="637.50" y2="656.50" stroke="#a840a8" stroke-width="1.1"/>
<line x1="636.95" y1="542.50" x2="641.30" y2="542.50" stroke="#a840a8" stroke-width="1.1"/>
<line x1="636.95" y1="656.50" x2="641.30" y2="656.50" stroke="#a840a8" stroke-width="1.1"/>
<text x="643.70" y="545.80" font-size="9" fill="#a94aa9" font-weight="normal" text-anchor="start" stroke="#a94aa9" stroke-width="0.06">0.4</text>
<text x="646.00" y="659.80" font-size="9" fill="#a94aa9" font-weight="normal" text-anchor="start" stroke="#a94aa9" stroke-width="0.06">0</text>
<path d="M485.60,663.20 L485.60,659.20 L622.30,659.20 L622.30,663.20" fill="none" stroke="#444" stroke-width="1.1"/>
<text x="485.60" y="673.50" font-size="9" fill="#3a3a3a" font-weight="normal" text-anchor="middle">0.55</text>
<text x="622.30" y="673.50" font-size="9" fill="#3a3a3a" font-weight="normal" text-anchor="middle">0.75</text>
<text x="113.80" y="703.30" font-size="10.5" fill="#f59d2e" font-weight="bold" text-anchor="middle" textLength="120.30" lengthAdjust="spacingAndGlyphs">Direction Information</text>
<rect x="32.70" y="763.70" width="8.43" height="36.80" fill="#1c8ea0"/>
<rect x="32.70" y="800.50" width="8.43" height="18.40" fill="#7a5aa1"/>
<rect x="41.13" y="800.50" width="8.43" height="9.20" fill="#c57fc0"/>
<rect x="41.13" y="809.70" width="8.43" height="9.20" fill="#7a5aa1"/>
<rect x="49.56" y="763.70" width="8.43" height="55.20" fill="#1c8ea0"/>
<rect x="57.99" y="782.10" width="8.43" height="36.80" fill="#7a5aa1"/>
<rect x="66.42" y="763.70" width="8.43" height="36.80" fill="#1c8ea0"/>
<rect x="66.42" y="800.50" width="8.43" height="18.40" fill="#7a5aa1"/>
<rect x="74.85" y="782.10" width="8.43" height="9.20" fill="#c57fc0"/>
<rect x="74.85" y="791.30" width="8.43" height="27.60" fill="#7a5aa1"/>
<rect x="83.28" y="763.70" width="8.43" height="18.40" fill="#1c8ea0"/>
<rect x="83.28" y="782.10" width="8.43" height="36.80" fill="#7a5aa1"/>
<rect x="91.71" y="782.10" width="8.43" height="9.20" fill="#c57fc0"/>
<rect x="91.71" y="791.30" width="8.43" height="27.60" fill="#7a5aa1"/>
<rect x="100.14" y="726.80" width="8.43" height="64.50" fill="#c57fc0"/>
<rect x="100.14" y="791.30" width="8.43" height="27.60" fill="#7a5aa1"/>
<rect x="108.57" y="773.20" width="8.43" height="9.10" fill="#1c8ea0"/>
<rect x="108.57" y="782.30" width="8.43" height="36.60" fill="#7a5aa1"/>
<rect x="117.00" y="773.20" width="8.43" height="27.10" fill="#1c8ea0"/>
<rect x="117.00" y="800.30" width="8.43" height="18.60" fill="#7a5aa1"/>
<rect x="125.43" y="782.30" width="8.43" height="8.70" fill="#c57fc0"/>
<rect x="125.43" y="791.00" width="8.43" height="27.90" fill="#7a5aa1"/>
<rect x="133.86" y="727.10" width="8.43" height="73.20" fill="#c57fc0"/>
<rect x="133.86" y="800.30" width="8.43" height="18.60" fill="#7a5aa1"/>
<rect x="142.29" y="763.90" width="8.43" height="27.10" fill="#c57fc0"/>
<rect x="142.29" y="791.00" width="8.43" height="27.90" fill="#7a5aa1"/>
<rect x="150.72" y="745.20" width="8.43" height="73.70" fill="#7a5aa1"/>
<rect x="159.15" y="708.40" width="8.43" height="8.80" fill="#c57fc0"/>
<rect x="159.15" y="717.20" width="8.43" height="101.70" fill="#7a5aa1"/>
<rect x="167.58" y="727.10" width="8.43" height="55.20" fill="#1c8ea0"/>
<rect x="167.58" y="782.30" width="8.43" height="36.60" fill="#7a5aa1"/>
<rect x="176.01" y="708.40" width="8.43" height="36.80" fill="#1c8ea0"/>
<rect x="176.01" y="745.20" width="8.43" height="73.70" fill="#7a5aa1"/>
<rect x="184.44" y="727.10" width="8.43" height="46.10" fill="#c57fc0"/>
<rect x="184.44" y="773.20" width="8.43" height="45.70" fill="#7a5aa1"/>
<rect x="32.70" y="763.70" width="8.43" height="55.20" fill="none" stroke="#333" stroke-width="0.5" stroke-opacity="0.8"/>
<line x1="32.70" y1="800.50" x2="41.13" y2="800.50" stroke="#333" stroke-width="0.5" stroke-opacity="0.8"/>
<rect x="41.13" y="800.50" width="8.43" height="18.40" fill="none" stroke="#333" stroke-width="0.5" stroke-opacity="0.8"/>
<line x1="41.13" y1="809.70" x2="49.56" y2="809.70" stroke="#333" stroke-width="0.5" stroke-opacity="0.8"/>
<rect x="49.56" y="763.70" width="8.43" height="55.20" fill="none" stroke="#333" stroke-width="0.5" stroke-opacity="0.8"/>
<rect x="57.99" y="782.10" width="8.43" height="36.80" fill="none" stroke="#333" stroke-width="0.5" stroke-opacity="0.8"/>
<rect x="66.42" y="763.70" width="8.43" height="55.20" fill="none" stroke="#333" stroke-width="0.5" stroke-opacity="0.8"/>
<line x1="66.42" y1="800.50" x2="74.85" y2="800.50" stroke="#333" stroke-width="0.5" stroke-opacity="0.8"/>
<rect x="74.85" y="782.10" width="8.43" height="36.80" fill="none" stroke="#333" stroke-width="0.5" stroke-opacity="0.8"/>
<line x1="74.85" y1="791.30" x2="83.28" y2="791.30" stroke="#333" stroke-width="0.5" stroke-opacity="0.8"/>
<rect x="83.28" y="763.70" width="8.43" height="55.20" fill="none" stroke="#333" stroke-width="0.5" stroke-opacity="0.8"/>
<line x1="83.28" y1="782.10" x2="91.71" y2="782.10" stroke="#333" stroke-width="0.5" stroke-opacity="0.8"/>
<rect x="91.71" y="782.10" width="8.43" height="36.80" fill="none" stroke="#333" stroke-width="0.5" stroke-opacity="0.8"/>
<line x1="91.71" y1="791.30" x2="100.14" y2="791.30" stroke="#333" stroke-width="0.5" stroke-opacity="0.8"/>
<rect x="100.14" y="726.80" width="8.43" height="92.10" fill="none" stroke="#333" stroke-width="0.5" stroke-opacity="0.8"/>
<line x1="100.14" y1="791.30" x2="108.57" y2="791.30" stroke="#333" stroke-width="0.5" stroke-opacity="0.8"/>
<rect x="108.57" y="773.20" width="8.43" height="45.70" fill="none" stroke="#333" stroke-width="0.5" stroke-opacity="0.8"/>
<line x1="108.57" y1="782.30" x2="117.00" y2="782.30" stroke="#333" stroke-width="0.5" stroke-opacity="0.8"/>
<rect x="117.00" y="773.20" width="8.43" height="45.70" fill="none" stroke="#333" stroke-width="0.5" stroke-opacity="0.8"/>
<line x1="117.00" y1="800.30" x2="125.43" y2="800.30" stroke="#333" stroke-width="0.5" stroke-opacity="0.8"/>
<rect x="125.43" y="782.30" width="8.43" height="36.60" fill="none" stroke="#333" stroke-width="0.5" stroke-opacity="0.8"/>
<line x1="125.43" y1="791.00" x2="133.86" y2="791.00" stroke="#333" stroke-width="0.5" stroke-opacity="0.8"/>
<rect x="133.86" y="727.10" width="8.43" height="91.80" fill="none" stroke="#333" stroke-width="0.5" stroke-opacity="0.8"/>
<line x1="133.86" y1="800.30" x2="142.29" y2="800.30" stroke="#333" stroke-width="0.5" stroke-opacity="0.8"/>
<rect x="142.29" y="763.90" width="8.43" height="55.00" fill="none" stroke="#333" stroke-width="0.5" stroke-opacity="0.8"/>
<line x1="142.29" y1="791.00" x2="150.72" y2="791.00" stroke="#333" stroke-width="0.5" stroke-opacity="0.8"/>
<rect x="150.72" y="745.20" width="8.43" height="73.70" fill="none" stroke="#333" stroke-width="0.5" stroke-opacity="0.8"/>
<rect x="159.15" y="708.40" width="8.43" height="110.50" fill="none" stroke="#333" stroke-width="0.5" stroke-opacity="0.8"/>
<line x1="159.15" y1="717.20" x2="167.58" y2="717.20" stroke="#333" stroke-width="0.5" stroke-opacity="0.8"/>
<rect x="167.58" y="727.10" width="8.43" height="91.80" fill="none" stroke="#333" stroke-width="0.5" stroke-opacity="0.8"/>
<line x1="167.58" y1="782.30" x2="176.01" y2="782.30" stroke="#333" stroke-width="0.5" stroke-opacity="0.8"/>
<rect x="176.01" y="708.40" width="8.43" height="110.50" fill="none" stroke="#333" stroke-width="0.5" stroke-opacity="0.8"/>
<line x1="176.01" y1="745.20" x2="184.44" y2="745.20" stroke="#333" stroke-width="0.5" stroke-opacity="0.8"/>
<rect x="184.44" y="727.10" width="8.43" height="91.80" fill="none" stroke="#333" stroke-width="0.5" stroke-opacity="0.8"/>
<line x1="184.44" y1="773.20" x2="192.87" y2="773.20" stroke="#333" stroke-width="0.5" stroke-opacity="0.8"/>
<line x1="26.50" y1="708.60" x2="26.50" y2="819.80" stroke="#1c8ea0" stroke-width="1.1"/>
<line x1="23.20" y1="708.60" x2="27.05" y2="708.60" stroke="#1c8ea0" stroke-width="1.1"/>
<line x1="23.20" y1="819.80" x2="27.05" y2="819.80" stroke="#1c8ea0" stroke-width="1.1"/>
<text x="20.30" y="711.90" font-size="9" fill="#2794aa" font-weight="normal" text-anchor="end" stroke="#2794aa" stroke-width="0.06">0.12</text>
<text x="20.30" y="823.10" font-size="9" fill="#2794aa" font-weight="normal" text-anchor="end" stroke="#2794aa" stroke-width="0.06">0</text>
<line x1="201.50" y1="708.40" x2="201.50" y2="819.90" stroke="#a840a8" stroke-width="1.1"/>
<line x1="200.95" y1="708.40" x2="205.30" y2="708.40" stroke="#a840a8" stroke-width="1.1"/>
<line x1="200.95" y1="819.90" x2="205.30" y2="819.90" stroke="#a840a8" stroke-width="1.1"/>
<text x="207.70" y="711.70" font-size="9" fill="#a94aa9" font-weight="normal" text-anchor="start" stroke="#a94aa9" stroke-width="0.06">0.1</text>
<text x="210.00" y="823.20" font-size="9" fill="#a94aa9" font-weight="normal" text-anchor="start" stroke="#a94aa9" stroke-width="0.06">0</text>
<path d="M30.70,826.80 L30.70,822.80 L198.90,822.80 L198.90,826.80" fill="none" stroke="#444" stroke-width="1.1"/>
<text x="30.70" y="837.40" font-size="9" fill="#3a3a3a" font-weight="normal" text-anchor="middle">0</text>
<text x="198.90" y="837.40" font-size="9" fill="#3a3a3a" font-weight="normal" text-anchor="middle">1.0</text>
<text x="120.50" y="835.80" font-size="11" fill="#111" font-weight="normal" text-anchor="middle" stroke="#111" stroke-width="0.05" textLength="88.60" lengthAdjust="spacingAndGlyphs">Usable Info (bits)</text>
<text x="49.40" y="728.10" font-size="11" fill="#2794aa" font-weight="normal" text-anchor="start" stroke="#2794aa" stroke-width="0.05" textLength="38.00" lengthAdjust="spacingAndGlyphs">DLPFC</text>
<text x="49.40" y="742.80" font-size="11" fill="#a94aa9" font-weight="normal" text-anchor="start" stroke="#a94aa9" stroke-width="0.05" textLength="23.50" lengthAdjust="spacingAndGlyphs">PMd</text>
<text x="15.90" y="800.50" font-size="11" fill="#111" font-weight="normal" text-anchor="start" stroke="#111" stroke-width="0.05" textLength="62.80" lengthAdjust="spacingAndGlyphs" transform="rotate(-90 15.90 800.50)">Prop of bins</text>
<text x="332.70" y="702.70" font-size="10.5" fill="#8c1f26" font-weight="bold" text-anchor="middle" textLength="99.80" lengthAdjust="spacingAndGlyphs">Color Information</text>
<rect x="250.50" y="708.30" width="8.50" height="110.50" fill="#7a5aa1"/>
<rect x="259.00" y="754.30" width="8.50" height="64.50" fill="#1c8ea0"/>
<rect x="267.50" y="791.00" width="8.50" height="27.80" fill="#1c8ea0"/>
<rect x="276.00" y="782.20" width="8.50" height="36.60" fill="#1c8ea0"/>
<rect x="284.50" y="773.10" width="8.50" height="45.70" fill="#1c8ea0"/>
<rect x="293.00" y="810.00" width="8.50" height="8.80" fill="#1c8ea0"/>
<rect x="301.50" y="763.60" width="8.50" height="55.20" fill="#1c8ea0"/>
<rect x="310.00" y="810.00" width="8.50" height="8.80" fill="#1c8ea0"/>
<rect x="318.50" y="810.00" width="8.50" height="8.80" fill="#1c8ea0"/>
<rect x="327.00" y="791.00" width="8.50" height="27.80" fill="#1c8ea0"/>
<rect x="335.50" y="810.00" width="8.50" height="8.80" fill="#1c8ea0"/>
<rect x="344.00" y="791.00" width="8.50" height="27.80" fill="#1c8ea0"/>
<rect x="352.50" y="810.00" width="8.50" height="8.80" fill="#1c8ea0"/>
<rect x="361.00" y="810.00" width="8.50" height="8.80" fill="#1c8ea0"/>
<rect x="378.00" y="791.00" width="8.50" height="27.80" fill="#1c8ea0"/>
<rect x="386.50" y="810.00" width="8.50" height="8.80" fill="#1c8ea0"/>
<rect x="403.50" y="810.00" width="8.50" height="8.80" fill="#1c8ea0"/>
<rect x="250.50" y="708.30" width="8.50" height="110.50" fill="none" stroke="#333" stroke-width="0.5" stroke-opacity="0.8"/>
<rect x="259.00" y="754.30" width="8.50" height="64.50" fill="none" stroke="#333" stroke-width="0.5" stroke-opacity="0.8"/>
<rect x="267.50" y="791.00" width="8.50" height="27.80" fill="none" stroke="#333" stroke-width="0.5" stroke-opacity="0.8"/>
<rect x="276.00" y="782.20" width="8.50" height="36.60" fill="none" stroke="#333" stroke-width="0.5" stroke-opacity="0.8"/>
<rect x="284.50" y="773.10" width="8.50" height="45.70" fill="none" stroke="#333" stroke-width="0.5" stroke-opacity="0.8"/>
<rect x="293.00" y="810.00" width="8.50" height="8.80" fill="none" stroke="#333" stroke-width="0.5" stroke-opacity="0.8"/>
<rect x="301.50" y="763.60" width="8.50" height="55.20" fill="none" stroke="#333" stroke-width="0.5" stroke-opacity="0.8"/>
<rect x="310.00" y="810.00" width="8.50" height="8.80" fill="none" stroke="#333" stroke-width="0.5" stroke-opacity="0.8"/>
<rect x="318.50" y="810.00" width="8.50" height="8.80" fill="none" stroke="#333" stroke-width="0.5" stroke-opacity="0.8"/>
<rect x="327.00" y="791.00" width="8.50" height="27.80" fill="none" stroke="#333" stroke-width="0.5" stroke-opacity="0.8"/>
<rect x="335.50" y="810.00" width="8.50" height="8.80" fill="none" stroke="#333" stroke-width="0.5" stroke-opacity="0.8"/>
<rect x="344.00" y="791.00" width="8.50" height="27.80" fill="none" stroke="#333" stroke-width="0.5" stroke-opacity="0.8"/>
<rect x="352.50" y="810.00" width="8.50" height="8.80" fill="none" stroke="#333" stroke-width="0.5" stroke-opacity="0.8"/>
<rect x="361.00" y="810.00" width="8.50" height="8.80" fill="none" stroke="#333" stroke-width="0.5" stroke-opacity="0.8"/>
<rect x="378.00" y="791.00" width="8.50" height="27.80" fill="none" stroke="#333" stroke-width="0.5" stroke-opacity="0.8"/>
<rect x="386.50" y="810.00" width="8.50" height="8.80" fill="none" stroke="#333" stroke-width="0.5" stroke-opacity="0.8"/>
<rect x="403.50" y="810.00" width="8.50" height="8.80" fill="none" stroke="#333" stroke-width="0.5" stroke-opacity="0.8"/>
<line x1="245.10" y1="708.60" x2="245.10" y2="819.70" stroke="#1c8ea0" stroke-width="1.1"/>
<line x1="241.80" y1="708.60" x2="245.65" y2="708.60" stroke="#1c8ea0" stroke-width="1.1"/>
<line x1="241.80" y1="819.70" x2="245.65" y2="819.70" stroke="#1c8ea0" stroke-width="1.1"/>
<text x="238.90" y="711.90" font-size="9" fill="#2794aa" font-weight="normal" text-anchor="end" stroke="#2794aa" stroke-width="0.06">0.22</text>
<text x="238.90" y="823.00" font-size="9" fill="#2794aa" font-weight="normal" text-anchor="end" stroke="#2794aa" stroke-width="0.06">0</text>
<line x1="419.50" y1="708.60" x2="419.50" y2="819.30" stroke="#a840a8" stroke-width="1.1"/>
<line x1="418.95" y1="708.60" x2="423.30" y2="708.60" stroke="#a840a8" stroke-width="1.1"/>
<line x1="418.95" y1="819.30" x2="423.30" y2="819.30" stroke="#a840a8" stroke-width="1.1"/>
<text x="425.70" y="711.90" font-size="9" fill="#a94aa9" font-weight="normal" text-anchor="start" stroke="#a94aa9" stroke-width="0.06">0.91</text>
<text x="428.00" y="822.60" font-size="9" fill="#a94aa9" font-weight="normal" text-anchor="start" stroke="#a94aa9" stroke-width="0.06">0</text>
<path d="M249.30,826.40 L249.30,822.40 L415.00,822.40 L415.00,826.40" fill="none" stroke="#444" stroke-width="1.1"/>
<text x="249.30" y="836.50" font-size="9" fill="#3a3a3a" font-weight="normal" text-anchor="middle">0</text>
<text x="415.00" y="836.50" font-size="9" fill="#3a3a3a" font-weight="normal" text-anchor="middle">0.2</text>
<text x="554.90" y="698.90" font-size="10.5" fill="#e8242b" font-weight="bold" text-anchor="middle" textLength="186.60" lengthAdjust="spacingAndGlyphs">Target Configuration Information</text>
<rect x="470.10" y="708.30" width="8.40" height="110.60" fill="#7a5aa1"/>
<rect x="478.50" y="708.30" width="8.40" height="55.30" fill="#1c8ea0"/>
<rect x="478.50" y="763.60" width="8.40" height="55.30" fill="#7a5aa1"/>
<rect x="486.90" y="732.40" width="8.40" height="86.50" fill="#1c8ea0"/>
<rect x="495.30" y="756.30" width="8.40" height="62.60" fill="#1c8ea0"/>
<rect x="503.70" y="756.30" width="8.40" height="62.60" fill="#1c8ea0"/>
<rect x="512.10" y="716.50" width="8.40" height="102.40" fill="#1c8ea0"/>
<rect x="520.50" y="795.60" width="8.40" height="23.30" fill="#1c8ea0"/>
<rect x="528.90" y="803.20" width="8.40" height="15.70" fill="#1c8ea0"/>
<rect x="537.30" y="803.20" width="8.40" height="15.70" fill="#1c8ea0"/>
<rect x="545.70" y="811.10" width="8.40" height="7.80" fill="#1c8ea0"/>
<rect x="562.50" y="803.10" width="8.40" height="15.80" fill="#1c8ea0"/>
<rect x="570.90" y="811.50" width="8.40" height="7.40" fill="#1c8ea0"/>
<rect x="621.30" y="811.50" width="8.40" height="7.40" fill="#1c8ea0"/>
<rect x="470.10" y="708.30" width="8.40" height="110.60" fill="none" stroke="#333" stroke-width="0.5" stroke-opacity="0.8"/>
<rect x="478.50" y="708.30" width="8.40" height="110.60" fill="none" stroke="#333" stroke-width="0.5" stroke-opacity="0.8"/>
<line x1="478.50" y1="763.60" x2="486.90" y2="763.60" stroke="#333" stroke-width="0.5" stroke-opacity="0.8"/>
<rect x="486.90" y="732.40" width="8.40" height="86.50" fill="none" stroke="#333" stroke-width="0.5" stroke-opacity="0.8"/>
<rect x="495.30" y="756.30" width="8.40" height="62.60" fill="none" stroke="#333" stroke-width="0.5" stroke-opacity="0.8"/>
<rect x="503.70" y="756.30" width="8.40" height="62.60" fill="none" stroke="#333" stroke-width="0.5" stroke-opacity="0.8"/>
<rect x="512.10" y="716.50" width="8.40" height="102.40" fill="none" stroke="#333" stroke-width="0.5" stroke-opacity="0.8"/>
<rect x="520.50" y="795.60" width="8.40" height="23.30" fill="none" stroke="#333" stroke-width="0.5" stroke-opacity="0.8"/>
<rect x="528.90" y="803.20" width="8.40" height="15.70" fill="none" stroke="#333" stroke-width="0.5" stroke-opacity="0.8"/>
<rect x="537.30" y="803.20" width="8.40" height="15.70" fill="none" stroke="#333" stroke-width="0.5" stroke-opacity="0.8"/>
<rect x="545.70" y="811.10" width="8.40" height="7.80" fill="none" stroke="#333" stroke-width="0.5" stroke-opacity="0.8"/>
<rect x="562.50" y="803.10" width="8.40" height="15.80" fill="none" stroke="#333" stroke-width="0.5" stroke-opacity="0.8"/>
<rect x="570.90" y="811.50" width="8.40" height="7.40" fill="none" stroke="#333" stroke-width="0.5" stroke-opacity="0.8"/>
<rect x="621.30" y="811.50" width="8.40" height="7.40" fill="none" stroke="#333" stroke-width="0.5" stroke-opacity="0.8"/>
<line x1="465.60" y1="708.60" x2="465.60" y2="819.70" stroke="#1c8ea0" stroke-width="1.1"/>
<line x1="462.30" y1="708.60" x2="466.15" y2="708.60" stroke="#1c8ea0" stroke-width="1.1"/>
<line x1="462.30" y1="819.70" x2="466.15" y2="819.70" stroke="#1c8ea0" stroke-width="1.1"/>
<text x="459.40" y="711.90" font-size="9" fill="#2794aa" font-weight="normal" text-anchor="end" stroke="#2794aa" stroke-width="0.06">0.17</text>
<text x="459.40" y="823.00" font-size="9" fill="#2794aa" font-weight="normal" text-anchor="end" stroke="#2794aa" stroke-width="0.06">0</text>
<line x1="634.40" y1="708.20" x2="634.40" y2="819.70" stroke="#a840a8" stroke-width="1.1"/>
<line x1="633.85" y1="708.20" x2="638.20" y2="708.20" stroke="#a840a8" stroke-width="1.1"/>
<line x1="633.85" y1="819.70" x2="638.20" y2="819.70" stroke="#a840a8" stroke-width="1.1"/>
<text x="640.60" y="711.50" font-size="9" fill="#a94aa9" font-weight="normal" text-anchor="start" stroke="#a94aa9" stroke-width="0.06">0.67</text>
<text x="642.90" y="823.00" font-size="9" fill="#a94aa9" font-weight="normal" text-anchor="start" stroke="#a94aa9" stroke-width="0.06">0</text>
<path d="M469.60,827.00 L469.60,823.00 L628.20,823.00 L628.20,827.00" fill="none" stroke="#444" stroke-width="1.1"/>
<text x="469.60" y="836.30" font-size="9" fill="#3a3a3a" font-weight="normal" text-anchor="middle">0</text>
<text x="628.20" y="836.30" font-size="9" fill="#3a3a3a" font-weight="normal" text-anchor="middle">0.3</text>
</svg></body></html>
